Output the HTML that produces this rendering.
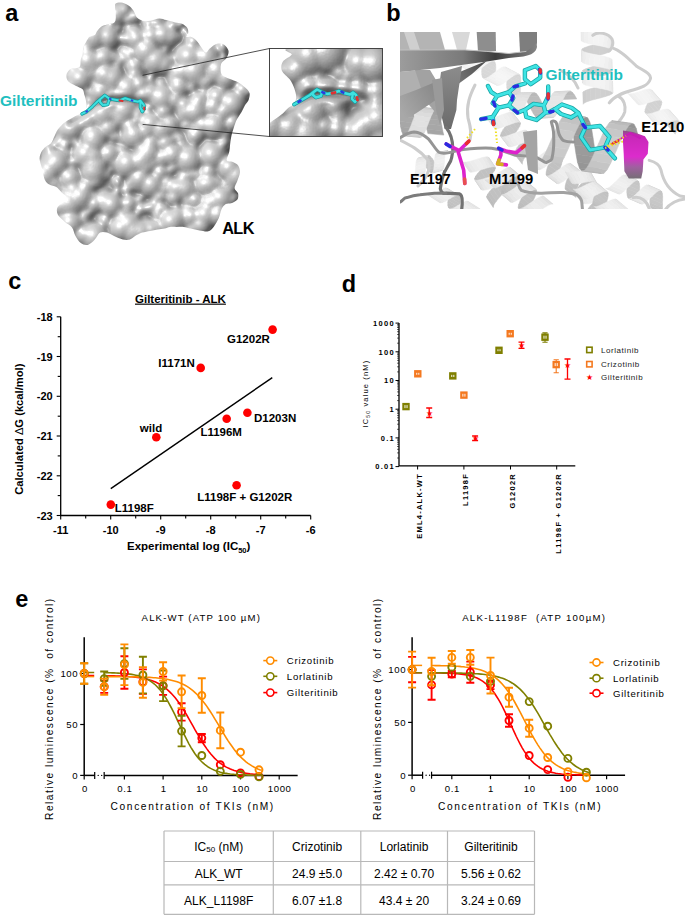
<!DOCTYPE html>
<html><head><meta charset="utf-8"><style>
html,body{margin:0;padding:0;background:#fff;width:685px;height:915px;overflow:hidden}
svg{display:block}
text{font-family:"Liberation Sans",sans-serif}
.sp circle,.sp ellipse{mix-blend-mode:lighten}
</style></head><body>
<svg width="685" height="915" viewBox="0 0 685 915" font-family="Liberation Sans, sans-serif">
<defs>
<radialGradient id="sph0"><stop offset="0" stop-color="rgb(158,158,158)"/><stop offset="0.3" stop-color="rgb(151,151,151)"/><stop offset="0.5" stop-color="rgb(137,137,137)"/><stop offset="0.65" stop-color="rgb(120,120,120)"/><stop offset="0.78" stop-color="rgb(99,99,99)"/><stop offset="0.88" stop-color="rgb(75,75,75)"/><stop offset="0.95" stop-color="rgb(49,49,49)"/><stop offset="1.0" stop-color="rgb(0,0,0)"/></radialGradient><radialGradient id="sph1"><stop offset="0" stop-color="rgb(177,177,177)"/><stop offset="0.3" stop-color="rgb(169,169,169)"/><stop offset="0.5" stop-color="rgb(154,154,154)"/><stop offset="0.65" stop-color="rgb(135,135,135)"/><stop offset="0.78" stop-color="rgb(111,111,111)"/><stop offset="0.88" stop-color="rgb(84,84,84)"/><stop offset="0.95" stop-color="rgb(55,55,55)"/><stop offset="1.0" stop-color="rgb(0,0,0)"/></radialGradient><radialGradient id="sph2"><stop offset="0" stop-color="rgb(197,197,197)"/><stop offset="0.3" stop-color="rgb(188,188,188)"/><stop offset="0.5" stop-color="rgb(170,170,170)"/><stop offset="0.65" stop-color="rgb(150,150,150)"/><stop offset="0.78" stop-color="rgb(123,123,123)"/><stop offset="0.88" stop-color="rgb(94,94,94)"/><stop offset="0.95" stop-color="rgb(61,61,61)"/><stop offset="1.0" stop-color="rgb(0,0,0)"/></radialGradient><radialGradient id="sph3"><stop offset="0" stop-color="rgb(216,216,216)"/><stop offset="0.3" stop-color="rgb(206,206,206)"/><stop offset="0.5" stop-color="rgb(187,187,187)"/><stop offset="0.65" stop-color="rgb(164,164,164)"/><stop offset="0.78" stop-color="rgb(135,135,135)"/><stop offset="0.88" stop-color="rgb(103,103,103)"/><stop offset="0.95" stop-color="rgb(68,68,68)"/><stop offset="1.0" stop-color="rgb(0,0,0)"/></radialGradient><radialGradient id="sph4"><stop offset="0" stop-color="rgb(236,236,236)"/><stop offset="0.3" stop-color="rgb(225,225,225)"/><stop offset="0.5" stop-color="rgb(204,204,204)"/><stop offset="0.65" stop-color="rgb(179,179,179)"/><stop offset="0.78" stop-color="rgb(147,147,147)"/><stop offset="0.88" stop-color="rgb(112,112,112)"/><stop offset="0.95" stop-color="rgb(74,74,74)"/><stop offset="1.0" stop-color="rgb(0,0,0)"/></radialGradient><radialGradient id="sph5"><stop offset="0" stop-color="rgb(255,255,255)"/><stop offset="0.3" stop-color="rgb(243,243,243)"/><stop offset="0.5" stop-color="rgb(221,221,221)"/><stop offset="0.65" stop-color="rgb(194,194,194)"/><stop offset="0.78" stop-color="rgb(160,160,160)"/><stop offset="0.88" stop-color="rgb(121,121,121)"/><stop offset="0.95" stop-color="rgb(80,80,80)"/><stop offset="1.0" stop-color="rgb(0,0,0)"/></radialGradient>
<radialGradient id="bump"><stop offset="0" stop-color="#000" stop-opacity="1"/><stop offset="0.5" stop-color="#000" stop-opacity="0.87"/><stop offset="0.7" stop-color="#000" stop-opacity="0.71"/><stop offset="0.85" stop-color="#000" stop-opacity="0.53"/><stop offset="0.95" stop-color="#000" stop-opacity="0.31"/><stop offset="1" stop-color="#000" stop-opacity="0"/></radialGradient>
<filter id="gblur" x="-10%" y="-10%" width="120%" height="120%"><feGaussianBlur stdDeviation="1.6"/></filter>
<filter id="mol" x="30" y="0" width="230" height="250" filterUnits="userSpaceOnUse" color-interpolation-filters="sRGB">
 <feColorMatrix in="SourceGraphic" type="luminanceToAlpha" result="la"/>
 <feGaussianBlur in="la" stdDeviation="1.9" result="h"/>
 <feGaussianBlur in="la" stdDeviation="4.5" result="hb"/>
 <feComposite in="hb" in2="h" operator="arithmetic" k1="0" k2="1" k3="-1" k4="0" result="cav"/>
 <feColorMatrix in="cav" type="matrix" values="0 0 0 -3 1  0 0 0 -3 1  0 0 0 -3 1  0 0 0 0 1" result="ao"/>
 <feDiffuseLighting in="h" surfaceScale="11" diffuseConstant="1" lighting-color="#fff" result="d"><feDistantLight azimuth="225" elevation="55"/></feDiffuseLighting>
 <feSpecularLighting in="h" surfaceScale="11" specularConstant="1" specularExponent="40" lighting-color="#fff" result="s"><feDistantLight azimuth="225" elevation="55"/></feSpecularLighting>
 <feComponentTransfer in="d" result="d2"><feFuncR type="linear" slope="0.52" intercept="0.355"/><feFuncG type="linear" slope="0.52" intercept="0.355"/><feFuncB type="linear" slope="0.52" intercept="0.355"/></feComponentTransfer>
 <feComposite in="s" in2="d2" operator="arithmetic" k1="0" k2="0.22" k3="1" k4="0" result="lit"/>
 <feBlend in="lit" in2="ao" mode="multiply"/>
</filter>
<filter id="mol2" x="262" y="40" width="130" height="105" filterUnits="userSpaceOnUse" color-interpolation-filters="sRGB">
 <feColorMatrix in="SourceGraphic" type="luminanceToAlpha" result="la"/>
 <feGaussianBlur in="la" stdDeviation="2.5" result="h"/>
 <feGaussianBlur in="la" stdDeviation="7" result="hb"/>
 <feComposite in="hb" in2="h" operator="arithmetic" k1="0" k2="1" k3="-1" k4="0" result="cav"/>
 <feColorMatrix in="cav" type="matrix" values="0 0 0 -2.5 1  0 0 0 -2.5 1  0 0 0 -2.5 1  0 0 0 0 1" result="ao"/>
 <feDiffuseLighting in="h" surfaceScale="16" diffuseConstant="1" lighting-color="#fff" result="d"><feDistantLight azimuth="225" elevation="55"/></feDiffuseLighting>
 <feSpecularLighting in="h" surfaceScale="16" specularConstant="1" specularExponent="40" lighting-color="#fff" result="s"><feDistantLight azimuth="225" elevation="55"/></feSpecularLighting>
 <feComponentTransfer in="d" result="d2"><feFuncR type="linear" slope="0.5" intercept="0.32"/><feFuncG type="linear" slope="0.5" intercept="0.32"/><feFuncB type="linear" slope="0.5" intercept="0.32"/></feComponentTransfer>
 <feComposite in="s" in2="d2" operator="arithmetic" k1="0" k2="0.25" k3="1" k4="0" result="lit"/>
 <feBlend in="lit" in2="ao" mode="multiply"/>
</filter>
<filter id="surf" x="0" y="0" width="100%" height="100%" color-interpolation-filters="sRGB">
 <feTurbulence type="fractalNoise" baseFrequency="0.05" numOctaves="2" seed="7" result="n"/>
 <feGaussianBlur in="n" stdDeviation="1.6" result="nb"/>
 <feDiffuseLighting in="nb" surfaceScale="5" diffuseConstant="1.0" lighting-color="#ffffff" result="l">
   <feDistantLight azimuth="235" elevation="55"/>
 </feDiffuseLighting>
 <feSpecularLighting in="nb" surfaceScale="5" specularConstant="0.8" specularExponent="60" lighting-color="#ffffff" result="sp">
   <feDistantLight azimuth="235" elevation="55"/>
 </feSpecularLighting>
 <feComponentTransfer in="l" result="l2"><feFuncR type="linear" slope="0.55" intercept="0.2"/><feFuncG type="linear" slope="0.55" intercept="0.2"/><feFuncB type="linear" slope="0.55" intercept="0.2"/></feComponentTransfer>
 <feComposite in="sp" in2="l2" operator="arithmetic" k1="0" k2="0.45" k3="1" k4="0" result="lit"/>
 <feComposite in="lit" in2="SourceGraphic" operator="in"/>
</filter>
<filter id="surf2" x="0" y="0" width="100%" height="100%" color-interpolation-filters="sRGB">
 <feTurbulence type="fractalNoise" baseFrequency="0.03" numOctaves="3" seed="11" result="n"/>
 <feGaussianBlur in="n" stdDeviation="2" result="nb"/>
 <feDiffuseLighting in="nb" surfaceScale="6" diffuseConstant="1.0" lighting-color="#ffffff" result="l">
   <feDistantLight azimuth="235" elevation="55"/>
 </feDiffuseLighting>
 <feSpecularLighting in="nb" surfaceScale="6" specularConstant="0.8" specularExponent="60" lighting-color="#ffffff" result="sp">
   <feDistantLight azimuth="235" elevation="55"/>
 </feSpecularLighting>
 <feComponentTransfer in="l" result="l2"><feFuncR type="linear" slope="0.55" intercept="0.2"/><feFuncG type="linear" slope="0.55" intercept="0.2"/><feFuncB type="linear" slope="0.55" intercept="0.2"/></feComponentTransfer>
 <feComposite in="sp" in2="l2" operator="arithmetic" k1="0" k2="0.45" k3="1" k4="0" result="lit"/>
 <feComposite in="lit" in2="SourceGraphic" operator="in"/>
</filter>
</defs>
<text x="5.3" y="20.7" font-size="23.5" font-weight="bold">a</text>
<text x="386.3" y="21" font-size="23.5" font-weight="bold">b</text>
<text x="8.3" y="289.3" font-size="23.5" font-weight="bold">c</text>
<text x="341.8" y="291.6" font-size="23.5" font-weight="bold">d</text>
<text x="15.2" y="606.8" font-size="23.5" font-weight="bold">e</text>
<clipPath id="blobclip"><path d="M115.8,3.5 C116.8,2.8 119.0,2.3 121.1,2.6 C123.1,2.9 126.0,4.0 128.1,5.3 C130.2,6.6 131.9,8.5 133.4,10.5 C134.9,12.5 135.2,15.8 136.9,17.5 C138.7,19.2 141.6,20.5 143.9,21.0 C146.2,21.5 147.9,21.1 150.5,20.7 C153.1,20.3 156.7,18.5 159.3,18.4 C161.9,18.3 163.7,19.4 166.3,20.1 C168.9,20.8 172.4,21.8 175.0,22.4 C177.6,23.0 179.9,22.8 182.0,23.7 C184.1,24.6 186.3,26.4 187.3,28.0 C188.3,29.6 188.3,31.8 188.2,33.3 C188.0,34.8 186.0,36.2 186.4,36.8 C186.8,37.4 189.2,36.2 190.8,36.8 C192.4,37.4 194.3,38.5 196.1,40.3 C197.8,42.0 199.7,45.2 201.3,47.3 C202.9,49.3 204.2,52.5 205.7,52.6 C207.2,52.8 208.2,49.7 210.1,48.2 C212.0,46.7 214.8,44.4 217.1,43.8 C219.4,43.2 222.2,43.5 224.1,44.7 C226.0,45.9 228.1,48.6 228.5,50.8 C228.9,53.0 227.9,55.8 226.7,57.8 C225.5,59.8 222.5,61.1 221.5,63.1 C220.5,65.2 220.5,68.1 220.6,70.1 C220.7,72.1 220.9,73.8 222.3,75.3 C223.8,76.8 226.7,77.6 229.3,78.8 C231.9,80.0 235.5,80.8 238.1,82.3 C240.7,83.8 243.2,85.8 245.1,87.6 C247.0,89.4 248.9,90.9 249.5,92.9 C250.1,95.0 249.3,97.9 248.6,99.9 C247.9,101.9 246.3,103.1 245.1,105.1 C243.9,107.1 242.8,110.0 241.6,112.1 C240.4,114.1 239.1,115.7 238.1,117.4 C237.1,119.2 236.7,119.2 235.5,122.6 C234.3,125.9 232.1,132.7 231.1,137.5 C230.1,142.3 230.0,147.7 229.3,151.5 C228.6,155.3 226.1,158.6 226.7,160.3 C227.3,162.1 231.0,161.1 232.9,162.0 C234.8,162.9 236.9,163.7 238.1,165.5 C239.3,167.3 240.1,170.0 239.9,172.6 C239.8,175.2 238.1,178.7 237.2,181.3 C236.3,183.9 234.4,186.2 234.6,188.3 C234.8,190.4 237.7,191.7 238.1,193.6 C238.5,195.5 238.4,198.1 237.2,199.7 C236.0,201.3 233.0,202.5 231.1,203.2 C229.2,203.9 227.4,203.1 225.8,204.1 C224.2,205.1 222.7,207.0 221.5,209.3 C220.3,211.6 220.1,215.2 218.8,218.1 C217.5,221.0 215.3,224.7 213.6,226.9 C211.8,229.1 210.6,230.6 208.3,231.2 C206.0,231.8 202.5,230.8 199.6,230.4 C196.7,230.0 193.4,229.2 190.8,228.6 C188.2,228.0 186.1,227.2 183.8,226.9 C181.5,226.6 179.1,226.9 176.8,226.9 C174.5,226.9 171.9,226.6 169.8,226.9 C167.8,227.2 166.6,228.2 164.5,228.6 C162.4,229.0 159.9,229.1 157.5,229.5 C155.1,229.9 152.6,230.4 150.0,230.9 C147.4,231.4 144.6,231.7 142.1,232.6 C139.6,233.5 137.1,234.9 135.1,236.1 C133.1,237.3 131.9,239.0 129.9,239.6 C127.9,240.2 125.5,240.2 122.9,239.6 C120.3,239.0 116.7,237.3 114.1,236.1 C111.5,234.9 109.4,233.2 107.1,232.6 C104.8,232.0 102.1,231.4 100.1,232.6 C98.0,233.8 96.8,237.5 94.8,239.6 C92.8,241.7 90.1,244.3 87.8,244.9 C85.5,245.5 82.8,244.6 80.8,243.1 C78.8,241.6 77.0,238.7 75.5,236.1 C74.0,233.5 73.8,229.7 72.0,227.4 C70.2,225.1 67.3,224.2 65.0,222.1 C62.7,220.0 59.3,217.4 58.0,215.1 C56.7,212.8 56.6,210.1 57.2,208.1 C57.8,206.1 59.9,204.7 61.5,202.9 C63.1,201.2 66.8,199.4 66.8,197.6 C66.8,195.8 63.2,194.1 61.5,192.3 C59.8,190.6 58.3,188.4 56.3,187.1 C54.3,185.8 51.2,185.7 49.3,184.5 C47.4,183.3 46.1,182.5 44.9,180.0 C43.7,177.5 43.2,173.1 42.3,169.6 C41.4,166.1 39.8,161.9 39.6,159.0 C39.5,156.1 40.4,154.0 41.4,152.0 C42.4,150.0 44.2,148.2 45.8,146.8 C47.4,145.4 49.5,145.1 51.0,143.3 C52.5,141.6 53.3,138.6 54.5,136.3 C55.7,134.0 56.2,131.6 58.0,129.3 C59.8,127.0 62.4,124.3 65.0,122.3 C67.6,120.2 71.2,118.5 73.8,117.0 C76.4,115.5 78.8,114.9 80.8,113.5 C82.8,112.1 85.2,110.6 86.1,108.6 C87.0,106.6 86.4,103.9 86.1,101.6 C85.8,99.3 84.9,96.6 84.3,94.6 C83.7,92.5 84.0,90.8 82.6,89.3 C81.1,87.8 77.8,87.0 75.6,85.8 C73.4,84.6 70.9,83.5 69.4,82.3 C67.9,81.1 67.2,80.2 66.8,78.8 C66.4,77.3 66.2,75.2 66.8,73.6 C67.4,72.0 68.8,70.1 70.3,69.2 C71.8,68.3 74.0,68.7 75.6,68.3 C77.2,67.9 79.0,68.0 79.9,66.6 C80.8,65.1 80.3,61.6 80.8,59.6 C81.2,57.6 82.2,56.3 82.6,54.3 C83.0,52.2 82.8,49.3 83.4,47.3 C84.0,45.2 85.1,43.8 86.1,42.0 C87.1,40.2 88.1,38.0 89.6,36.8 C91.0,35.6 93.5,36.0 94.8,35.0 C96.1,34.0 96.2,32.1 97.4,30.7 C98.6,29.2 100.2,27.3 101.8,26.3 C103.4,25.3 105.0,25.1 107.1,24.5 C109.1,23.9 112.6,24.0 114.1,22.8 C115.5,21.6 115.6,20.1 115.8,17.5 C116.0,14.9 115.0,9.3 115.0,7.0 C115.0,4.7 114.8,4.2 115.8,3.5Z"/></clipPath>
<g clip-path="url(#blobclip)"><g filter="url(#mol)">
<rect x="30" y="0" width="230" height="250" fill="#000"/>
<path d="M115.8,3.5 C116.8,2.8 119.0,2.3 121.1,2.6 C123.1,2.9 126.0,4.0 128.1,5.3 C130.2,6.6 131.9,8.5 133.4,10.5 C134.9,12.5 135.2,15.8 136.9,17.5 C138.7,19.2 141.6,20.5 143.9,21.0 C146.2,21.5 147.9,21.1 150.5,20.7 C153.1,20.3 156.7,18.5 159.3,18.4 C161.9,18.3 163.7,19.4 166.3,20.1 C168.9,20.8 172.4,21.8 175.0,22.4 C177.6,23.0 179.9,22.8 182.0,23.7 C184.1,24.6 186.3,26.4 187.3,28.0 C188.3,29.6 188.3,31.8 188.2,33.3 C188.0,34.8 186.0,36.2 186.4,36.8 C186.8,37.4 189.2,36.2 190.8,36.8 C192.4,37.4 194.3,38.5 196.1,40.3 C197.8,42.0 199.7,45.2 201.3,47.3 C202.9,49.3 204.2,52.5 205.7,52.6 C207.2,52.8 208.2,49.7 210.1,48.2 C212.0,46.7 214.8,44.4 217.1,43.8 C219.4,43.2 222.2,43.5 224.1,44.7 C226.0,45.9 228.1,48.6 228.5,50.8 C228.9,53.0 227.9,55.8 226.7,57.8 C225.5,59.8 222.5,61.1 221.5,63.1 C220.5,65.2 220.5,68.1 220.6,70.1 C220.7,72.1 220.9,73.8 222.3,75.3 C223.8,76.8 226.7,77.6 229.3,78.8 C231.9,80.0 235.5,80.8 238.1,82.3 C240.7,83.8 243.2,85.8 245.1,87.6 C247.0,89.4 248.9,90.9 249.5,92.9 C250.1,95.0 249.3,97.9 248.6,99.9 C247.9,101.9 246.3,103.1 245.1,105.1 C243.9,107.1 242.8,110.0 241.6,112.1 C240.4,114.1 239.1,115.7 238.1,117.4 C237.1,119.2 236.7,119.2 235.5,122.6 C234.3,125.9 232.1,132.7 231.1,137.5 C230.1,142.3 230.0,147.7 229.3,151.5 C228.6,155.3 226.1,158.6 226.7,160.3 C227.3,162.1 231.0,161.1 232.9,162.0 C234.8,162.9 236.9,163.7 238.1,165.5 C239.3,167.3 240.1,170.0 239.9,172.6 C239.8,175.2 238.1,178.7 237.2,181.3 C236.3,183.9 234.4,186.2 234.6,188.3 C234.8,190.4 237.7,191.7 238.1,193.6 C238.5,195.5 238.4,198.1 237.2,199.7 C236.0,201.3 233.0,202.5 231.1,203.2 C229.2,203.9 227.4,203.1 225.8,204.1 C224.2,205.1 222.7,207.0 221.5,209.3 C220.3,211.6 220.1,215.2 218.8,218.1 C217.5,221.0 215.3,224.7 213.6,226.9 C211.8,229.1 210.6,230.6 208.3,231.2 C206.0,231.8 202.5,230.8 199.6,230.4 C196.7,230.0 193.4,229.2 190.8,228.6 C188.2,228.0 186.1,227.2 183.8,226.9 C181.5,226.6 179.1,226.9 176.8,226.9 C174.5,226.9 171.9,226.6 169.8,226.9 C167.8,227.2 166.6,228.2 164.5,228.6 C162.4,229.0 159.9,229.1 157.5,229.5 C155.1,229.9 152.6,230.4 150.0,230.9 C147.4,231.4 144.6,231.7 142.1,232.6 C139.6,233.5 137.1,234.9 135.1,236.1 C133.1,237.3 131.9,239.0 129.9,239.6 C127.9,240.2 125.5,240.2 122.9,239.6 C120.3,239.0 116.7,237.3 114.1,236.1 C111.5,234.9 109.4,233.2 107.1,232.6 C104.8,232.0 102.1,231.4 100.1,232.6 C98.0,233.8 96.8,237.5 94.8,239.6 C92.8,241.7 90.1,244.3 87.8,244.9 C85.5,245.5 82.8,244.6 80.8,243.1 C78.8,241.6 77.0,238.7 75.5,236.1 C74.0,233.5 73.8,229.7 72.0,227.4 C70.2,225.1 67.3,224.2 65.0,222.1 C62.7,220.0 59.3,217.4 58.0,215.1 C56.7,212.8 56.6,210.1 57.2,208.1 C57.8,206.1 59.9,204.7 61.5,202.9 C63.1,201.2 66.8,199.4 66.8,197.6 C66.8,195.8 63.2,194.1 61.5,192.3 C59.8,190.6 58.3,188.4 56.3,187.1 C54.3,185.8 51.2,185.7 49.3,184.5 C47.4,183.3 46.1,182.5 44.9,180.0 C43.7,177.5 43.2,173.1 42.3,169.6 C41.4,166.1 39.8,161.9 39.6,159.0 C39.5,156.1 40.4,154.0 41.4,152.0 C42.4,150.0 44.2,148.2 45.8,146.8 C47.4,145.4 49.5,145.1 51.0,143.3 C52.5,141.6 53.3,138.6 54.5,136.3 C55.7,134.0 56.2,131.6 58.0,129.3 C59.8,127.0 62.4,124.3 65.0,122.3 C67.6,120.2 71.2,118.5 73.8,117.0 C76.4,115.5 78.8,114.9 80.8,113.5 C82.8,112.1 85.2,110.6 86.1,108.6 C87.0,106.6 86.4,103.9 86.1,101.6 C85.8,99.3 84.9,96.6 84.3,94.6 C83.7,92.5 84.0,90.8 82.6,89.3 C81.1,87.8 77.8,87.0 75.6,85.8 C73.4,84.6 70.9,83.5 69.4,82.3 C67.9,81.1 67.2,80.2 66.8,78.8 C66.4,77.3 66.2,75.2 66.8,73.6 C67.4,72.0 68.8,70.1 70.3,69.2 C71.8,68.3 74.0,68.7 75.6,68.3 C77.2,67.9 79.0,68.0 79.9,66.6 C80.8,65.1 80.3,61.6 80.8,59.6 C81.2,57.6 82.2,56.3 82.6,54.3 C83.0,52.2 82.8,49.3 83.4,47.3 C84.0,45.2 85.1,43.8 86.1,42.0 C87.1,40.2 88.1,38.0 89.6,36.8 C91.0,35.6 93.5,36.0 94.8,35.0 C96.1,34.0 96.2,32.1 97.4,30.7 C98.6,29.2 100.2,27.3 101.8,26.3 C103.4,25.3 105.0,25.1 107.1,24.5 C109.1,23.9 112.6,24.0 114.1,22.8 C115.5,21.6 115.6,20.1 115.8,17.5 C116.0,14.9 115.0,9.3 115.0,7.0 C115.0,4.7 114.8,4.2 115.8,3.5Z" fill="#4d4d4d"/>
<g class="sp"><circle cx="107.3" cy="37.1" r="14.6" fill="url(#sph3)"/><circle cx="116.3" cy="14.3" r="13.6" fill="url(#sph3)"/><circle cx="128.8" cy="203.4" r="10.9" fill="url(#sph2)"/><circle cx="85.8" cy="154.3" r="16.6" fill="url(#sph4)"/><circle cx="161.5" cy="97.6" r="16.8" fill="url(#sph4)"/><circle cx="100.0" cy="35.5" r="10.8" fill="url(#sph2)"/><circle cx="104.0" cy="200.8" r="11.3" fill="url(#sph2)"/><circle cx="162.5" cy="157.2" r="12.6" fill="url(#sph3)"/><circle cx="183.6" cy="105.2" r="12.2" fill="url(#sph3)"/><circle cx="163.3" cy="111.5" r="12.1" fill="url(#sph3)"/><circle cx="208.0" cy="172.0" r="11.7" fill="url(#sph2)"/><circle cx="160.9" cy="129.2" r="16.1" fill="url(#sph4)"/><circle cx="194.1" cy="70.8" r="16.9" fill="url(#sph4)"/><circle cx="181.0" cy="188.1" r="14.0" fill="url(#sph3)"/><circle cx="225.4" cy="77.2" r="14.9" fill="url(#sph4)"/><circle cx="165.2" cy="142.7" r="13.2" fill="url(#sph3)"/><circle cx="139.5" cy="163.4" r="10.4" fill="url(#sph2)"/><circle cx="188.1" cy="159.2" r="17.0" fill="url(#sph4)"/><circle cx="213.9" cy="70.0" r="12.7" fill="url(#sph3)"/><circle cx="136.8" cy="41.3" r="10.8" fill="url(#sph2)"/><circle cx="121.7" cy="214.4" r="10.6" fill="url(#sph2)"/><circle cx="134.1" cy="135.2" r="16.2" fill="url(#sph4)"/><circle cx="213.3" cy="212.5" r="11.9" fill="url(#sph2)"/><circle cx="126.9" cy="88.3" r="16.2" fill="url(#sph4)"/><circle cx="87.9" cy="119.3" r="14.1" fill="url(#sph3)"/><circle cx="127.7" cy="90.8" r="14.0" fill="url(#sph3)"/><circle cx="148.3" cy="151.9" r="14.7" fill="url(#sph4)"/><circle cx="204.9" cy="215.1" r="15.6" fill="url(#sph4)"/><circle cx="122.0" cy="98.1" r="10.7" fill="url(#sph2)"/><circle cx="72.7" cy="83.7" r="10.4" fill="url(#sph2)"/><circle cx="169.4" cy="36.5" r="11.8" fill="url(#sph2)"/><circle cx="112.3" cy="89.6" r="10.9" fill="url(#sph2)"/><circle cx="137.7" cy="119.0" r="10.6" fill="url(#sph2)"/><circle cx="94.7" cy="203.9" r="11.1" fill="url(#sph2)"/><circle cx="151.0" cy="36.1" r="13.8" fill="url(#sph3)"/><circle cx="187.0" cy="64.2" r="12.6" fill="url(#sph3)"/><circle cx="73.7" cy="189.9" r="13.7" fill="url(#sph3)"/><circle cx="204.7" cy="81.1" r="11.6" fill="url(#sph2)"/><circle cx="220.5" cy="198.3" r="15.7" fill="url(#sph4)"/><circle cx="196.3" cy="55.8" r="13.6" fill="url(#sph3)"/><circle cx="93.5" cy="170.4" r="16.7" fill="url(#sph4)"/><circle cx="133.7" cy="230.5" r="16.9" fill="url(#sph4)"/><circle cx="242.4" cy="89.7" r="11.5" fill="url(#sph2)"/><circle cx="86.5" cy="48.4" r="11.4" fill="url(#sph2)"/><circle cx="171.6" cy="221.5" r="15.9" fill="url(#sph4)"/><circle cx="140.6" cy="160.6" r="15.6" fill="url(#sph4)"/><circle cx="56.1" cy="162.5" r="16.4" fill="url(#sph4)"/><circle cx="205.4" cy="184.5" r="13.3" fill="url(#sph3)"/><circle cx="76.2" cy="194.1" r="12.3" fill="url(#sph3)"/><circle cx="122.7" cy="98.7" r="16.6" fill="url(#sph4)"/><circle cx="193.1" cy="41.8" r="10.9" fill="url(#sph2)"/><circle cx="70.3" cy="222.6" r="15.6" fill="url(#sph4)"/><circle cx="69.3" cy="203.3" r="16.9" fill="url(#sph4)"/><circle cx="178.7" cy="86.2" r="13.8" fill="url(#sph3)"/><circle cx="150.7" cy="229.7" r="13.0" fill="url(#sph3)"/><circle cx="224.6" cy="203.2" r="11.5" fill="url(#sph2)"/><circle cx="91.9" cy="72.1" r="11.7" fill="url(#sph2)"/><circle cx="163.5" cy="63.8" r="12.9" fill="url(#sph3)"/><circle cx="113.7" cy="112.7" r="14.1" fill="url(#sph3)"/><circle cx="231.5" cy="103.5" r="16.4" fill="url(#sph4)"/><circle cx="145.4" cy="130.8" r="13.7" fill="url(#sph3)"/><circle cx="139.3" cy="178.4" r="13.9" fill="url(#sph3)"/><circle cx="107.8" cy="127.5" r="13.9" fill="url(#sph3)"/><circle cx="157.9" cy="61.1" r="11.9" fill="url(#sph2)"/><circle cx="203.3" cy="124.9" r="13.9" fill="url(#sph3)"/><circle cx="200.6" cy="224.5" r="13.1" fill="url(#sph3)"/><circle cx="169.1" cy="124.4" r="13.6" fill="url(#sph3)"/><circle cx="186.2" cy="111.3" r="13.7" fill="url(#sph3)"/><circle cx="140.3" cy="231.6" r="14.9" fill="url(#sph4)"/><circle cx="93.6" cy="137.6" r="16.6" fill="url(#sph4)"/><circle cx="53.6" cy="164.7" r="15.5" fill="url(#sph4)"/><circle cx="191.2" cy="162.4" r="11.0" fill="url(#sph2)"/><circle cx="85.0" cy="234.3" r="12.8" fill="url(#sph3)"/><circle cx="130.3" cy="126.8" r="12.4" fill="url(#sph3)"/><circle cx="79.9" cy="78.4" r="15.1" fill="url(#sph4)"/><circle cx="108.9" cy="153.5" r="13.6" fill="url(#sph3)"/><circle cx="128.4" cy="224.2" r="15.7" fill="url(#sph4)"/><circle cx="93.3" cy="36.7" r="16.4" fill="url(#sph4)"/><circle cx="160.1" cy="172.3" r="10.6" fill="url(#sph2)"/><circle cx="50.3" cy="169.3" r="13.0" fill="url(#sph3)"/><circle cx="173.8" cy="197.2" r="10.6" fill="url(#sph2)"/><circle cx="222.6" cy="111.6" r="12.4" fill="url(#sph3)"/><circle cx="156.4" cy="228.0" r="11.9" fill="url(#sph2)"/><circle cx="65.7" cy="129.6" r="11.7" fill="url(#sph2)"/><circle cx="104.8" cy="75.0" r="15.3" fill="url(#sph4)"/><circle cx="100.1" cy="123.0" r="11.2" fill="url(#sph2)"/><circle cx="194.9" cy="135.6" r="11.3" fill="url(#sph2)"/><circle cx="139.6" cy="229.9" r="10.7" fill="url(#sph2)"/><circle cx="213.2" cy="106.3" r="13.5" fill="url(#sph3)"/><circle cx="216.6" cy="96.7" r="13.5" fill="url(#sph3)"/><circle cx="111.3" cy="204.7" r="14.9" fill="url(#sph4)"/><circle cx="174.1" cy="99.6" r="12.4" fill="url(#sph3)"/><circle cx="53.1" cy="182.3" r="11.8" fill="url(#sph2)"/><circle cx="218.0" cy="214.2" r="14.7" fill="url(#sph4)"/><circle cx="98.3" cy="59.6" r="12.1" fill="url(#sph3)"/><circle cx="136.3" cy="38.8" r="13.1" fill="url(#sph3)"/><circle cx="94.3" cy="236.6" r="16.8" fill="url(#sph4)"/><circle cx="155.1" cy="60.1" r="16.8" fill="url(#sph4)"/><circle cx="104.2" cy="87.7" r="10.0" fill="url(#sph2)"/><circle cx="119.7" cy="116.8" r="13.5" fill="url(#sph3)"/><circle cx="81.0" cy="124.2" r="10.0" fill="url(#sph2)"/><circle cx="123.5" cy="10.3" r="10.2" fill="url(#sph2)"/><circle cx="103.1" cy="57.3" r="14.1" fill="url(#sph3)"/><circle cx="151.2" cy="184.6" r="14.6" fill="url(#sph3)"/><circle cx="191.2" cy="216.3" r="12.7" fill="url(#sph3)"/><circle cx="70.0" cy="178.1" r="14.5" fill="url(#sph3)"/><circle cx="195.0" cy="199.8" r="11.0" fill="url(#sph2)"/><circle cx="150.1" cy="124.1" r="15.8" fill="url(#sph4)"/><circle cx="210.2" cy="203.3" r="14.1" fill="url(#sph3)"/><circle cx="229.1" cy="168.0" r="14.9" fill="url(#sph4)"/><circle cx="60.5" cy="205.6" r="13.9" fill="url(#sph3)"/><circle cx="172.3" cy="154.1" r="14.8" fill="url(#sph4)"/><circle cx="208.7" cy="184.1" r="13.5" fill="url(#sph3)"/><circle cx="152.5" cy="162.2" r="10.5" fill="url(#sph2)"/><circle cx="195.7" cy="62.0" r="10.5" fill="url(#sph2)"/><circle cx="94.8" cy="179.4" r="11.4" fill="url(#sph2)"/><circle cx="143.7" cy="94.1" r="13.4" fill="url(#sph3)"/><circle cx="184.3" cy="188.7" r="14.3" fill="url(#sph3)"/><circle cx="197.0" cy="74.9" r="14.0" fill="url(#sph3)"/><circle cx="95.5" cy="165.3" r="14.8" fill="url(#sph4)"/><circle cx="182.6" cy="71.6" r="13.6" fill="url(#sph3)"/><circle cx="137.4" cy="114.7" r="10.8" fill="url(#sph2)"/><circle cx="134.2" cy="66.1" r="11.5" fill="url(#sph2)"/><circle cx="162.4" cy="34.9" r="13.7" fill="url(#sph3)"/><circle cx="213.5" cy="125.2" r="16.2" fill="url(#sph4)"/><circle cx="188.5" cy="56.9" r="16.3" fill="url(#sph4)"/><circle cx="134.5" cy="74.3" r="11.0" fill="url(#sph2)"/><circle cx="111.6" cy="77.8" r="15.9" fill="url(#sph4)"/><circle cx="236.2" cy="175.4" r="16.3" fill="url(#sph4)"/><circle cx="100.0" cy="91.6" r="12.8" fill="url(#sph3)"/><circle cx="115.2" cy="105.3" r="11.9" fill="url(#sph2)"/><circle cx="216.6" cy="70.3" r="16.5" fill="url(#sph4)"/><circle cx="91.4" cy="65.4" r="13.6" fill="url(#sph3)"/><circle cx="211.8" cy="155.2" r="16.4" fill="url(#sph4)"/><circle cx="194.7" cy="110.9" r="15.3" fill="url(#sph4)"/><circle cx="175.9" cy="70.4" r="10.3" fill="url(#sph2)"/><circle cx="139.0" cy="84.5" r="12.1" fill="url(#sph3)"/><circle cx="93.7" cy="161.4" r="12.1" fill="url(#sph3)"/><circle cx="157.3" cy="97.0" r="11.2" fill="url(#sph2)"/><circle cx="231.9" cy="122.3" r="11.5" fill="url(#sph2)"/><circle cx="134.3" cy="34.3" r="11.3" fill="url(#sph2)"/><circle cx="93.3" cy="140.1" r="16.2" fill="url(#sph4)"/><circle cx="198.4" cy="101.5" r="12.9" fill="url(#sph3)"/><circle cx="150.2" cy="92.7" r="12.4" fill="url(#sph3)"/><circle cx="145.7" cy="154.9" r="16.0" fill="url(#sph4)"/><circle cx="84.2" cy="66.7" r="11.7" fill="url(#sph2)"/><circle cx="123.5" cy="109.7" r="16.7" fill="url(#sph4)"/><circle cx="219.6" cy="214.7" r="10.2" fill="url(#sph2)"/><circle cx="44.9" cy="174.5" r="16.3" fill="url(#sph4)"/><circle cx="139.3" cy="144.4" r="10.0" fill="url(#sph2)"/><circle cx="121.8" cy="228.0" r="15.8" fill="url(#sph4)"/><circle cx="71.0" cy="128.5" r="14.8" fill="url(#sph4)"/><circle cx="176.5" cy="188.1" r="13.2" fill="url(#sph3)"/><circle cx="205.4" cy="57.2" r="16.4" fill="url(#sph4)"/><circle cx="176.1" cy="74.7" r="10.9" fill="url(#sph2)"/><circle cx="91.9" cy="156.5" r="14.9" fill="url(#sph4)"/><circle cx="150.2" cy="143.4" r="12.7" fill="url(#sph3)"/><circle cx="85.8" cy="147.9" r="10.1" fill="url(#sph2)"/><circle cx="102.5" cy="113.3" r="16.7" fill="url(#sph4)"/><circle cx="175.9" cy="217.4" r="13.3" fill="url(#sph3)"/><circle cx="88.2" cy="60.8" r="16.7" fill="url(#sph4)"/><circle cx="188.8" cy="75.6" r="10.2" fill="url(#sph2)"/><circle cx="144.6" cy="165.9" r="12.9" fill="url(#sph3)"/><circle cx="93.1" cy="164.2" r="16.5" fill="url(#sph4)"/><circle cx="110.3" cy="103.5" r="14.8" fill="url(#sph4)"/><circle cx="80.4" cy="196.1" r="15.2" fill="url(#sph4)"/><circle cx="146.0" cy="50.5" r="16.8" fill="url(#sph4)"/><circle cx="104.7" cy="201.7" r="11.6" fill="url(#sph2)"/><circle cx="85.4" cy="187.1" r="12.1" fill="url(#sph3)"/><circle cx="127.2" cy="163.7" r="16.6" fill="url(#sph4)"/></g>
<g class="sp"><ellipse cx="137.1" cy="91.8" rx="8.0" ry="5.0" transform="rotate(1 137.1 91.8)" fill="url(#sph0)"/><ellipse cx="145.6" cy="221.0" rx="6.8" ry="4.9" transform="rotate(111 145.6 221.0)" fill="url(#sph0)"/><ellipse cx="188.5" cy="111.2" rx="8.5" ry="7.7" transform="rotate(43 188.5 111.2)" fill="url(#sph1)"/><ellipse cx="203.7" cy="94.4" rx="8.4" ry="7.9" transform="rotate(52 203.7 94.4)" fill="url(#sph1)"/><ellipse cx="182.3" cy="178.5" rx="7.0" ry="6.6" transform="rotate(48 182.3 178.5)" fill="url(#sph1)"/><ellipse cx="82.9" cy="69.2" rx="9.1" ry="8.0" transform="rotate(160 82.9 69.2)" fill="url(#sph1)"/><ellipse cx="119.1" cy="121.0" rx="6.2" ry="4.8" transform="rotate(163 119.1 121.0)" fill="url(#sph0)"/><ellipse cx="62.0" cy="146.8" rx="7.1" ry="5.1" transform="rotate(161 62.0 146.8)" fill="url(#sph0)"/><ellipse cx="144.3" cy="226.5" rx="8.0" ry="6.3" transform="rotate(115 144.3 226.5)" fill="url(#sph1)"/><ellipse cx="58.0" cy="142.6" rx="7.4" ry="5.3" transform="rotate(172 58.0 142.6)" fill="url(#sph0)"/><ellipse cx="167.8" cy="36.7" rx="9.1" ry="5.4" transform="rotate(180 167.8 36.7)" fill="url(#sph0)"/><ellipse cx="64.0" cy="173.5" rx="9.8" ry="8.5" transform="rotate(110 64.0 173.5)" fill="url(#sph1)"/><ellipse cx="182.3" cy="145.2" rx="8.4" ry="8.0" transform="rotate(62 182.3 145.2)" fill="url(#sph1)"/><ellipse cx="222.9" cy="143.7" rx="8.2" ry="6.4" transform="rotate(177 222.9 143.7)" fill="url(#sph1)"/><ellipse cx="209.1" cy="80.9" rx="7.5" ry="6.5" transform="rotate(80 209.1 80.9)" fill="url(#sph1)"/><ellipse cx="172.7" cy="25.4" rx="8.2" ry="8.1" transform="rotate(141 172.7 25.4)" fill="url(#sph1)"/><ellipse cx="210.8" cy="122.3" rx="8.8" ry="7.6" transform="rotate(133 210.8 122.3)" fill="url(#sph1)"/><ellipse cx="129.0" cy="56.8" rx="10.6" ry="8.4" transform="rotate(67 129.0 56.8)" fill="url(#sph1)"/><ellipse cx="222.0" cy="90.9" rx="8.3" ry="7.5" transform="rotate(152 222.0 90.9)" fill="url(#sph1)"/><ellipse cx="121.2" cy="150.4" rx="10.4" ry="8.4" transform="rotate(25 121.2 150.4)" fill="url(#sph1)"/><ellipse cx="158.3" cy="33.8" rx="6.8" ry="5.0" transform="rotate(125 158.3 33.8)" fill="url(#sph0)"/><ellipse cx="188.6" cy="188.0" rx="9.4" ry="5.9" transform="rotate(30 188.6 188.0)" fill="url(#sph0)"/><ellipse cx="191.1" cy="189.8" rx="10.6" ry="8.0" transform="rotate(18 191.1 189.8)" fill="url(#sph1)"/><ellipse cx="75.1" cy="154.9" rx="7.4" ry="4.8" transform="rotate(40 75.1 154.9)" fill="url(#sph0)"/><ellipse cx="135.7" cy="137.6" rx="7.1" ry="6.4" transform="rotate(87 135.7 137.6)" fill="url(#sph0)"/><ellipse cx="154.5" cy="128.8" rx="10.4" ry="6.4" transform="rotate(12 154.5 128.8)" fill="url(#sph1)"/><ellipse cx="175.6" cy="133.4" rx="8.4" ry="5.7" transform="rotate(130 175.6 133.4)" fill="url(#sph0)"/><ellipse cx="60.1" cy="172.1" rx="8.5" ry="6.4" transform="rotate(115 60.1 172.1)" fill="url(#sph1)"/><ellipse cx="49.3" cy="148.3" rx="9.3" ry="5.8" transform="rotate(42 49.3 148.3)" fill="url(#sph0)"/><ellipse cx="214.1" cy="179.5" rx="10.8" ry="6.7" transform="rotate(6 214.1 179.5)" fill="url(#sph1)"/><ellipse cx="165.7" cy="150.9" rx="9.3" ry="7.3" transform="rotate(12 165.7 150.9)" fill="url(#sph1)"/><ellipse cx="78.5" cy="149.6" rx="5.9" ry="5.7" transform="rotate(64 78.5 149.6)" fill="url(#sph0)"/><ellipse cx="138.6" cy="131.8" rx="7.1" ry="4.6" transform="rotate(60 138.6 131.8)" fill="url(#sph0)"/><ellipse cx="112.6" cy="56.9" rx="8.9" ry="7.9" transform="rotate(40 112.6 56.9)" fill="url(#sph1)"/><ellipse cx="117.7" cy="182.3" rx="8.7" ry="6.4" transform="rotate(67 117.7 182.3)" fill="url(#sph1)"/><ellipse cx="173.8" cy="58.1" rx="7.6" ry="5.6" transform="rotate(36 173.8 58.1)" fill="url(#sph0)"/><ellipse cx="132.0" cy="232.2" rx="5.4" ry="5.0" transform="rotate(144 132.0 232.2)" fill="url(#sph0)"/><ellipse cx="220.3" cy="148.9" rx="6.1" ry="5.8" transform="rotate(50 220.3 148.9)" fill="url(#sph0)"/><ellipse cx="102.2" cy="196.9" rx="12.4" ry="8.1" transform="rotate(162 102.2 196.9)" fill="url(#sph1)"/><ellipse cx="90.9" cy="148.6" rx="8.2" ry="6.6" transform="rotate(151 90.9 148.6)" fill="url(#sph1)"/><ellipse cx="123.4" cy="51.4" rx="7.5" ry="5.7" transform="rotate(110 123.4 51.4)" fill="url(#sph0)"/><ellipse cx="159.6" cy="108.2" rx="6.9" ry="5.4" transform="rotate(59 159.6 108.2)" fill="url(#sph0)"/><ellipse cx="74.5" cy="133.8" rx="7.8" ry="5.3" transform="rotate(119 74.5 133.8)" fill="url(#sph0)"/><ellipse cx="67.5" cy="153.8" rx="7.8" ry="6.0" transform="rotate(109 67.5 153.8)" fill="url(#sph0)"/><ellipse cx="201.0" cy="217.4" rx="8.8" ry="7.7" transform="rotate(98 201.0 217.4)" fill="url(#sph1)"/><ellipse cx="156.2" cy="115.8" rx="9.8" ry="8.1" transform="rotate(150 156.2 115.8)" fill="url(#sph1)"/><ellipse cx="148.0" cy="24.4" rx="9.0" ry="7.6" transform="rotate(96 148.0 24.4)" fill="url(#sph1)"/><ellipse cx="122.6" cy="218.6" rx="7.5" ry="6.9" transform="rotate(124 122.6 218.6)" fill="url(#sph1)"/><ellipse cx="114.8" cy="66.4" rx="7.5" ry="6.0" transform="rotate(33 114.8 66.4)" fill="url(#sph0)"/><ellipse cx="169.1" cy="213.6" rx="7.3" ry="7.3" transform="rotate(123 169.1 213.6)" fill="url(#sph1)"/><ellipse cx="223.3" cy="166.6" rx="11.9" ry="7.8" transform="rotate(49 223.3 166.6)" fill="url(#sph1)"/><ellipse cx="183.5" cy="57.1" rx="8.7" ry="5.7" transform="rotate(63 183.5 57.1)" fill="url(#sph0)"/><ellipse cx="166.6" cy="134.2" rx="8.8" ry="8.7" transform="rotate(34 166.6 134.2)" fill="url(#sph1)"/><ellipse cx="204.6" cy="164.6" rx="5.7" ry="5.3" transform="rotate(38 204.6 164.6)" fill="url(#sph0)"/><ellipse cx="154.2" cy="222.0" rx="6.5" ry="5.7" transform="rotate(123 154.2 222.0)" fill="url(#sph0)"/><ellipse cx="128.5" cy="208.3" rx="13.2" ry="8.0" transform="rotate(129 128.5 208.3)" fill="url(#sph1)"/><ellipse cx="210.9" cy="98.0" rx="9.0" ry="6.3" transform="rotate(174 210.9 98.0)" fill="url(#sph1)"/><ellipse cx="157.0" cy="225.8" rx="9.2" ry="8.7" transform="rotate(64 157.0 225.8)" fill="url(#sph1)"/><ellipse cx="228.1" cy="188.8" rx="9.7" ry="8.6" transform="rotate(96 228.1 188.8)" fill="url(#sph1)"/><ellipse cx="220.7" cy="142.9" rx="8.2" ry="5.2" transform="rotate(51 220.7 142.9)" fill="url(#sph0)"/><ellipse cx="204.8" cy="111.7" rx="9.0" ry="8.8" transform="rotate(31 204.8 111.7)" fill="url(#sph1)"/><ellipse cx="68.8" cy="141.3" rx="7.7" ry="5.3" transform="rotate(94 68.8 141.3)" fill="url(#sph0)"/><ellipse cx="162.3" cy="207.9" rx="11.9" ry="7.3" transform="rotate(27 162.3 207.9)" fill="url(#sph1)"/><ellipse cx="119.2" cy="236.3" rx="7.5" ry="6.3" transform="rotate(87 119.2 236.3)" fill="url(#sph0)"/><ellipse cx="76.7" cy="208.7" rx="7.9" ry="7.4" transform="rotate(174 76.7 208.7)" fill="url(#sph1)"/><ellipse cx="149.4" cy="62.4" rx="11.0" ry="6.6" transform="rotate(62 149.4 62.4)" fill="url(#sph1)"/><ellipse cx="104.7" cy="209.5" rx="5.9" ry="5.8" transform="rotate(84 104.7 209.5)" fill="url(#sph0)"/><ellipse cx="86.3" cy="43.8" rx="11.1" ry="6.7" transform="rotate(67 86.3 43.8)" fill="url(#sph1)"/><ellipse cx="174.7" cy="79.5" rx="11.1" ry="8.0" transform="rotate(5 174.7 79.5)" fill="url(#sph1)"/><ellipse cx="196.7" cy="51.6" rx="5.2" ry="5.2" transform="rotate(151 196.7 51.6)" fill="url(#sph0)"/><ellipse cx="189.9" cy="88.1" rx="9.8" ry="6.6" transform="rotate(14 189.9 88.1)" fill="url(#sph1)"/><ellipse cx="189.0" cy="174.4" rx="9.0" ry="8.7" transform="rotate(103 189.0 174.4)" fill="url(#sph1)"/><ellipse cx="146.8" cy="208.1" rx="8.6" ry="5.9" transform="rotate(161 146.8 208.1)" fill="url(#sph0)"/><ellipse cx="112.6" cy="126.8" rx="8.7" ry="8.5" transform="rotate(175 112.6 126.8)" fill="url(#sph1)"/><ellipse cx="105.0" cy="112.5" rx="8.6" ry="5.6" transform="rotate(96 105.0 112.5)" fill="url(#sph0)"/><ellipse cx="226.4" cy="201.9" rx="8.6" ry="7.5" transform="rotate(47 226.4 201.9)" fill="url(#sph1)"/><ellipse cx="134.7" cy="16.0" rx="10.6" ry="8.3" transform="rotate(172 134.7 16.0)" fill="url(#sph1)"/><ellipse cx="77.1" cy="159.4" rx="10.8" ry="7.5" transform="rotate(76 77.1 159.4)" fill="url(#sph1)"/><ellipse cx="121.5" cy="232.5" rx="13.1" ry="7.9" transform="rotate(176 121.5 232.5)" fill="url(#sph1)"/><ellipse cx="63.4" cy="142.0" rx="7.6" ry="5.4" transform="rotate(69 63.4 142.0)" fill="url(#sph0)"/><ellipse cx="77.9" cy="217.1" rx="9.5" ry="6.5" transform="rotate(26 77.9 217.1)" fill="url(#sph1)"/><ellipse cx="197.4" cy="218.8" rx="7.2" ry="5.4" transform="rotate(118 197.4 218.8)" fill="url(#sph0)"/><ellipse cx="139.6" cy="185.0" rx="8.8" ry="7.3" transform="rotate(123 139.6 185.0)" fill="url(#sph1)"/><ellipse cx="203.4" cy="114.0" rx="9.7" ry="6.8" transform="rotate(86 203.4 114.0)" fill="url(#sph1)"/><ellipse cx="204.5" cy="178.1" rx="6.6" ry="5.0" transform="rotate(106 204.5 178.1)" fill="url(#sph0)"/><ellipse cx="152.0" cy="36.8" rx="10.2" ry="6.9" transform="rotate(96 152.0 36.8)" fill="url(#sph1)"/><ellipse cx="147.4" cy="108.7" rx="9.8" ry="6.4" transform="rotate(67 147.4 108.7)" fill="url(#sph1)"/><ellipse cx="106.2" cy="117.4" rx="9.9" ry="8.1" transform="rotate(126 106.2 117.4)" fill="url(#sph1)"/><ellipse cx="92.7" cy="195.5" rx="10.4" ry="6.7" transform="rotate(13 92.7 195.5)" fill="url(#sph1)"/><ellipse cx="126.4" cy="111.1" rx="10.1" ry="7.8" transform="rotate(8 126.4 111.1)" fill="url(#sph1)"/><ellipse cx="82.8" cy="204.6" rx="11.0" ry="7.9" transform="rotate(14 82.8 204.6)" fill="url(#sph1)"/><ellipse cx="203.5" cy="213.1" rx="7.6" ry="5.8" transform="rotate(52 203.5 213.1)" fill="url(#sph0)"/><ellipse cx="49.4" cy="180.5" rx="5.9" ry="5.6" transform="rotate(164 49.4 180.5)" fill="url(#sph0)"/><ellipse cx="58.6" cy="186.9" rx="9.3" ry="8.0" transform="rotate(67 58.6 186.9)" fill="url(#sph1)"/><ellipse cx="85.7" cy="174.2" rx="12.2" ry="8.1" transform="rotate(89 85.7 174.2)" fill="url(#sph1)"/><ellipse cx="153.0" cy="100.4" rx="8.9" ry="7.6" transform="rotate(44 153.0 100.4)" fill="url(#sph1)"/><ellipse cx="187.0" cy="62.7" rx="12.2" ry="8.2" transform="rotate(33 187.0 62.7)" fill="url(#sph1)"/><ellipse cx="66.7" cy="123.0" rx="10.4" ry="6.7" transform="rotate(70 66.7 123.0)" fill="url(#sph1)"/><ellipse cx="154.9" cy="200.4" rx="6.5" ry="5.3" transform="rotate(146 154.9 200.4)" fill="url(#sph0)"/><ellipse cx="114.6" cy="228.9" rx="5.6" ry="5.3" transform="rotate(65 114.6 228.9)" fill="url(#sph0)"/><ellipse cx="137.3" cy="90.4" rx="7.2" ry="5.5" transform="rotate(161 137.3 90.4)" fill="url(#sph0)"/><ellipse cx="92.9" cy="143.3" rx="5.8" ry="5.6" transform="rotate(143 92.9 143.3)" fill="url(#sph0)"/><ellipse cx="95.1" cy="39.5" rx="8.8" ry="8.1" transform="rotate(43 95.1 39.5)" fill="url(#sph1)"/><ellipse cx="70.5" cy="219.5" rx="8.4" ry="7.5" transform="rotate(13 70.5 219.5)" fill="url(#sph1)"/><ellipse cx="190.9" cy="169.8" rx="9.1" ry="6.9" transform="rotate(75 190.9 169.8)" fill="url(#sph1)"/><ellipse cx="98.2" cy="159.0" rx="6.9" ry="5.3" transform="rotate(47 98.2 159.0)" fill="url(#sph0)"/><ellipse cx="116.7" cy="219.1" rx="9.6" ry="6.7" transform="rotate(117 116.7 219.1)" fill="url(#sph1)"/><ellipse cx="225.2" cy="183.6" rx="10.1" ry="6.4" transform="rotate(170 225.2 183.6)" fill="url(#sph1)"/><ellipse cx="97.2" cy="40.4" rx="6.4" ry="6.3" transform="rotate(42 97.2 40.4)" fill="url(#sph0)"/><ellipse cx="140.9" cy="209.2" rx="8.1" ry="7.8" transform="rotate(131 140.9 209.2)" fill="url(#sph1)"/><ellipse cx="78.7" cy="198.2" rx="9.6" ry="7.0" transform="rotate(78 78.7 198.2)" fill="url(#sph1)"/><ellipse cx="77.6" cy="141.0" rx="7.2" ry="5.8" transform="rotate(141 77.6 141.0)" fill="url(#sph0)"/><ellipse cx="155.6" cy="65.7" rx="8.6" ry="7.8" transform="rotate(7 155.6 65.7)" fill="url(#sph1)"/><ellipse cx="186.7" cy="209.7" rx="10.9" ry="7.4" transform="rotate(168 186.7 209.7)" fill="url(#sph1)"/><ellipse cx="75.9" cy="142.5" rx="9.1" ry="6.1" transform="rotate(63 75.9 142.5)" fill="url(#sph1)"/><ellipse cx="68.5" cy="180.2" rx="9.8" ry="7.2" transform="rotate(57 68.5 180.2)" fill="url(#sph1)"/><ellipse cx="194.0" cy="110.1" rx="7.7" ry="6.8" transform="rotate(179 194.0 110.1)" fill="url(#sph1)"/><ellipse cx="132.7" cy="115.9" rx="7.1" ry="5.5" transform="rotate(85 132.7 115.9)" fill="url(#sph0)"/><ellipse cx="129.0" cy="183.0" rx="8.3" ry="5.8" transform="rotate(121 129.0 183.0)" fill="url(#sph0)"/><ellipse cx="66.9" cy="202.4" rx="6.0" ry="5.1" transform="rotate(150 66.9 202.4)" fill="url(#sph0)"/><ellipse cx="126.3" cy="232.7" rx="9.8" ry="8.6" transform="rotate(115 126.3 232.7)" fill="url(#sph1)"/><ellipse cx="215.5" cy="126.4" rx="6.7" ry="6.1" transform="rotate(13 215.5 126.4)" fill="url(#sph0)"/><ellipse cx="193.0" cy="145.4" rx="7.7" ry="4.7" transform="rotate(177 193.0 145.4)" fill="url(#sph0)"/><ellipse cx="126.7" cy="89.1" rx="11.3" ry="7.8" transform="rotate(134 126.7 89.1)" fill="url(#sph1)"/><ellipse cx="77.0" cy="179.3" rx="7.0" ry="6.7" transform="rotate(9 77.0 179.3)" fill="url(#sph1)"/><ellipse cx="94.6" cy="57.7" rx="8.8" ry="5.4" transform="rotate(72 94.6 57.7)" fill="url(#sph0)"/><ellipse cx="128.0" cy="19.5" rx="8.3" ry="6.7" transform="rotate(3 128.0 19.5)" fill="url(#sph1)"/><ellipse cx="139.4" cy="38.8" rx="7.9" ry="5.2" transform="rotate(77 139.4 38.8)" fill="url(#sph0)"/><ellipse cx="114.4" cy="136.4" rx="10.4" ry="7.3" transform="rotate(171 114.4 136.4)" fill="url(#sph1)"/><ellipse cx="191.1" cy="83.9" rx="8.9" ry="8.8" transform="rotate(34 191.1 83.9)" fill="url(#sph1)"/><ellipse cx="113.7" cy="95.7" rx="8.8" ry="7.2" transform="rotate(87 113.7 95.7)" fill="url(#sph1)"/><ellipse cx="242.9" cy="90.7" rx="9.8" ry="5.8" transform="rotate(151 242.9 90.7)" fill="url(#sph0)"/><ellipse cx="100.0" cy="104.4" rx="7.7" ry="5.9" transform="rotate(170 100.0 104.4)" fill="url(#sph0)"/><ellipse cx="121.0" cy="124.5" rx="8.1" ry="5.8" transform="rotate(98 121.0 124.5)" fill="url(#sph0)"/><ellipse cx="199.0" cy="204.3" rx="7.0" ry="6.2" transform="rotate(18 199.0 204.3)" fill="url(#sph0)"/><ellipse cx="171.3" cy="142.4" rx="11.7" ry="8.0" transform="rotate(103 171.3 142.4)" fill="url(#sph1)"/><ellipse cx="165.2" cy="223.7" rx="9.4" ry="8.5" transform="rotate(22 165.2 223.7)" fill="url(#sph1)"/><ellipse cx="145.1" cy="187.0" rx="10.2" ry="7.0" transform="rotate(71 145.1 187.0)" fill="url(#sph1)"/><ellipse cx="206.6" cy="191.9" rx="11.8" ry="7.6" transform="rotate(41 206.6 191.9)" fill="url(#sph1)"/><ellipse cx="115.7" cy="69.0" rx="8.5" ry="8.5" transform="rotate(55 115.7 69.0)" fill="url(#sph1)"/><ellipse cx="177.8" cy="156.7" rx="5.3" ry="4.9" transform="rotate(30 177.8 156.7)" fill="url(#sph0)"/><ellipse cx="84.9" cy="125.9" rx="7.2" ry="4.6" transform="rotate(84 84.9 125.9)" fill="url(#sph0)"/><ellipse cx="177.6" cy="89.0" rx="8.8" ry="8.3" transform="rotate(156 177.6 89.0)" fill="url(#sph1)"/><ellipse cx="90.8" cy="126.5" rx="9.7" ry="6.6" transform="rotate(98 90.8 126.5)" fill="url(#sph1)"/><ellipse cx="152.4" cy="123.2" rx="7.9" ry="7.4" transform="rotate(127 152.4 123.2)" fill="url(#sph1)"/><ellipse cx="72.7" cy="168.3" rx="6.8" ry="4.8" transform="rotate(39 72.7 168.3)" fill="url(#sph0)"/><ellipse cx="166.2" cy="181.7" rx="9.8" ry="7.2" transform="rotate(129 166.2 181.7)" fill="url(#sph1)"/><ellipse cx="88.7" cy="111.2" rx="8.2" ry="8.0" transform="rotate(37 88.7 111.2)" fill="url(#sph1)"/><ellipse cx="150.3" cy="79.9" rx="6.1" ry="5.1" transform="rotate(5 150.3 79.9)" fill="url(#sph0)"/><ellipse cx="105.6" cy="176.1" rx="8.2" ry="5.4" transform="rotate(159 105.6 176.1)" fill="url(#sph0)"/><ellipse cx="232.4" cy="189.2" rx="7.5" ry="5.0" transform="rotate(136 232.4 189.2)" fill="url(#sph0)"/><ellipse cx="72.3" cy="161.8" rx="8.2" ry="7.3" transform="rotate(148 72.3 161.8)" fill="url(#sph1)"/><ellipse cx="138.9" cy="144.8" rx="6.3" ry="4.7" transform="rotate(169 138.9 144.8)" fill="url(#sph0)"/><ellipse cx="109.2" cy="121.7" rx="12.6" ry="7.8" transform="rotate(171 109.2 121.7)" fill="url(#sph1)"/><ellipse cx="108.9" cy="88.5" rx="8.1" ry="5.2" transform="rotate(106 108.9 88.5)" fill="url(#sph0)"/><ellipse cx="136.1" cy="121.9" rx="9.1" ry="6.5" transform="rotate(27 136.1 121.9)" fill="url(#sph1)"/><ellipse cx="191.9" cy="64.5" rx="7.5" ry="4.5" transform="rotate(18 191.9 64.5)" fill="url(#sph0)"/><ellipse cx="209.6" cy="188.7" rx="8.8" ry="6.2" transform="rotate(43 209.6 188.7)" fill="url(#sph1)"/><ellipse cx="84.2" cy="217.3" rx="11.1" ry="7.3" transform="rotate(82 84.2 217.3)" fill="url(#sph1)"/><ellipse cx="171.9" cy="36.3" rx="12.0" ry="8.1" transform="rotate(11 171.9 36.3)" fill="url(#sph1)"/><ellipse cx="187.9" cy="166.3" rx="8.7" ry="6.2" transform="rotate(168 187.9 166.3)" fill="url(#sph1)"/><ellipse cx="183.9" cy="116.4" rx="11.7" ry="8.2" transform="rotate(140 183.9 116.4)" fill="url(#sph1)"/><ellipse cx="156.9" cy="186.2" rx="10.1" ry="7.6" transform="rotate(84 156.9 186.2)" fill="url(#sph1)"/><ellipse cx="80.4" cy="160.5" rx="9.5" ry="7.5" transform="rotate(12 80.4 160.5)" fill="url(#sph1)"/><ellipse cx="189.0" cy="159.3" rx="8.2" ry="7.4" transform="rotate(159 189.0 159.3)" fill="url(#sph1)"/><ellipse cx="193.9" cy="196.9" rx="6.3" ry="5.4" transform="rotate(96 193.9 196.9)" fill="url(#sph0)"/><ellipse cx="208.2" cy="58.0" rx="9.7" ry="6.7" transform="rotate(37 208.2 58.0)" fill="url(#sph1)"/><ellipse cx="48.7" cy="173.0" rx="11.9" ry="7.7" transform="rotate(19 48.7 173.0)" fill="url(#sph1)"/><ellipse cx="109.6" cy="111.3" rx="7.4" ry="4.6" transform="rotate(149 109.6 111.3)" fill="url(#sph0)"/><ellipse cx="217.2" cy="73.2" rx="10.9" ry="6.8" transform="rotate(1 217.2 73.2)" fill="url(#sph1)"/><ellipse cx="119.3" cy="60.1" rx="9.4" ry="5.8" transform="rotate(117 119.3 60.1)" fill="url(#sph0)"/><ellipse cx="64.6" cy="202.1" rx="9.0" ry="5.8" transform="rotate(90 64.6 202.1)" fill="url(#sph0)"/><ellipse cx="222.4" cy="135.1" rx="9.6" ry="5.7" transform="rotate(177 222.4 135.1)" fill="url(#sph0)"/><ellipse cx="155.1" cy="128.5" rx="9.9" ry="6.8" transform="rotate(49 155.1 128.5)" fill="url(#sph1)"/><ellipse cx="237.1" cy="103.5" rx="11.6" ry="8.3" transform="rotate(165 237.1 103.5)" fill="url(#sph1)"/><ellipse cx="160.9" cy="82.9" rx="7.3" ry="6.2" transform="rotate(17 160.9 82.9)" fill="url(#sph0)"/><ellipse cx="136.2" cy="128.5" rx="9.6" ry="6.1" transform="rotate(78 136.2 128.5)" fill="url(#sph1)"/><ellipse cx="199.3" cy="185.6" rx="8.7" ry="6.6" transform="rotate(42 199.3 185.6)" fill="url(#sph1)"/><ellipse cx="184.8" cy="213.3" rx="12.4" ry="8.0" transform="rotate(174 184.8 213.3)" fill="url(#sph1)"/><ellipse cx="162.9" cy="111.2" rx="11.9" ry="8.2" transform="rotate(13 162.9 111.2)" fill="url(#sph1)"/><ellipse cx="220.8" cy="146.4" rx="10.1" ry="8.0" transform="rotate(114 220.8 146.4)" fill="url(#sph1)"/><ellipse cx="165.7" cy="151.1" rx="10.2" ry="8.1" transform="rotate(121 165.7 151.1)" fill="url(#sph1)"/><ellipse cx="221.2" cy="169.9" rx="6.9" ry="6.7" transform="rotate(89 221.2 169.9)" fill="url(#sph1)"/><ellipse cx="146.0" cy="154.2" rx="11.5" ry="8.0" transform="rotate(138 146.0 154.2)" fill="url(#sph1)"/><ellipse cx="108.5" cy="29.1" rx="8.6" ry="7.1" transform="rotate(110 108.5 29.1)" fill="url(#sph1)"/><ellipse cx="86.6" cy="229.5" rx="9.1" ry="6.2" transform="rotate(97 86.6 229.5)" fill="url(#sph1)"/><ellipse cx="136.8" cy="168.0" rx="11.3" ry="7.9" transform="rotate(142 136.8 168.0)" fill="url(#sph1)"/><ellipse cx="112.7" cy="68.0" rx="6.4" ry="4.7" transform="rotate(11 112.7 68.0)" fill="url(#sph0)"/><ellipse cx="95.5" cy="113.7" rx="7.2" ry="6.3" transform="rotate(76 95.5 113.7)" fill="url(#sph0)"/><ellipse cx="186.8" cy="199.0" rx="11.1" ry="6.6" transform="rotate(99 186.8 199.0)" fill="url(#sph1)"/><ellipse cx="110.1" cy="161.1" rx="6.5" ry="5.1" transform="rotate(170 110.1 161.1)" fill="url(#sph0)"/><ellipse cx="102.9" cy="152.0" rx="9.8" ry="8.0" transform="rotate(102 102.9 152.0)" fill="url(#sph1)"/><ellipse cx="127.8" cy="157.4" rx="12.3" ry="7.6" transform="rotate(92 127.8 157.4)" fill="url(#sph1)"/><ellipse cx="93.8" cy="202.3" rx="11.7" ry="7.6" transform="rotate(120 93.8 202.3)" fill="url(#sph1)"/><ellipse cx="173.0" cy="96.8" rx="8.6" ry="6.9" transform="rotate(127 173.0 96.8)" fill="url(#sph1)"/><ellipse cx="100.1" cy="106.8" rx="9.5" ry="5.9" transform="rotate(10 100.1 106.8)" fill="url(#sph0)"/><ellipse cx="223.3" cy="59.1" rx="7.7" ry="5.8" transform="rotate(80 223.3 59.1)" fill="url(#sph0)"/><ellipse cx="72.8" cy="69.3" rx="9.6" ry="6.4" transform="rotate(6 72.8 69.3)" fill="url(#sph1)"/><ellipse cx="87.1" cy="176.2" rx="12.0" ry="7.4" transform="rotate(178 87.1 176.2)" fill="url(#sph1)"/><ellipse cx="159.3" cy="32.0" rx="9.7" ry="6.6" transform="rotate(114 159.3 32.0)" fill="url(#sph1)"/><ellipse cx="248.1" cy="92.4" rx="9.7" ry="6.0" transform="rotate(144 248.1 92.4)" fill="url(#sph1)"/><ellipse cx="212.6" cy="220.1" rx="8.0" ry="7.5" transform="rotate(99 212.6 220.1)" fill="url(#sph1)"/><ellipse cx="71.0" cy="218.6" rx="6.2" ry="6.0" transform="rotate(81 71.0 218.6)" fill="url(#sph0)"/><ellipse cx="88.8" cy="212.2" rx="6.1" ry="5.6" transform="rotate(67 88.8 212.2)" fill="url(#sph0)"/><ellipse cx="132.2" cy="132.9" rx="10.6" ry="8.4" transform="rotate(157 132.2 132.9)" fill="url(#sph1)"/><ellipse cx="180.2" cy="24.5" rx="6.5" ry="5.1" transform="rotate(142 180.2 24.5)" fill="url(#sph0)"/><ellipse cx="199.7" cy="95.1" rx="7.8" ry="5.6" transform="rotate(80 199.7 95.1)" fill="url(#sph0)"/><ellipse cx="209.7" cy="164.9" rx="7.7" ry="6.5" transform="rotate(86 209.7 164.9)" fill="url(#sph1)"/><ellipse cx="124.0" cy="204.3" rx="10.6" ry="8.4" transform="rotate(50 124.0 204.3)" fill="url(#sph1)"/><ellipse cx="194.2" cy="226.8" rx="13.2" ry="7.9" transform="rotate(143 194.2 226.8)" fill="url(#sph1)"/><ellipse cx="215.5" cy="116.1" rx="8.6" ry="7.5" transform="rotate(179 215.5 116.1)" fill="url(#sph1)"/><ellipse cx="88.3" cy="188.4" rx="11.7" ry="7.3" transform="rotate(66 88.3 188.4)" fill="url(#sph1)"/><ellipse cx="225.7" cy="142.3" rx="6.5" ry="5.3" transform="rotate(70 225.7 142.3)" fill="url(#sph0)"/><ellipse cx="139.7" cy="75.0" rx="7.6" ry="5.7" transform="rotate(136 139.7 75.0)" fill="url(#sph0)"/><ellipse cx="138.6" cy="109.6" rx="9.6" ry="5.8" transform="rotate(137 138.6 109.6)" fill="url(#sph0)"/><ellipse cx="201.1" cy="106.6" rx="9.6" ry="7.3" transform="rotate(15 201.1 106.6)" fill="url(#sph1)"/><ellipse cx="155.0" cy="178.9" rx="7.4" ry="5.2" transform="rotate(49 155.0 178.9)" fill="url(#sph0)"/><ellipse cx="121.5" cy="60.9" rx="6.6" ry="5.5" transform="rotate(141 121.5 60.9)" fill="url(#sph0)"/><ellipse cx="147.9" cy="141.0" rx="9.6" ry="8.3" transform="rotate(161 147.9 141.0)" fill="url(#sph1)"/><ellipse cx="183.0" cy="177.3" rx="9.4" ry="8.5" transform="rotate(72 183.0 177.3)" fill="url(#sph1)"/><ellipse cx="153.2" cy="130.5" rx="10.0" ry="8.6" transform="rotate(49 153.2 130.5)" fill="url(#sph1)"/><ellipse cx="204.3" cy="195.2" rx="6.5" ry="6.2" transform="rotate(90 204.3 195.2)" fill="url(#sph0)"/><ellipse cx="158.3" cy="211.0" rx="9.3" ry="6.8" transform="rotate(141 158.3 211.0)" fill="url(#sph1)"/><ellipse cx="179.9" cy="154.1" rx="6.9" ry="4.6" transform="rotate(79 179.9 154.1)" fill="url(#sph0)"/><ellipse cx="154.0" cy="133.1" rx="8.8" ry="7.9" transform="rotate(157 154.0 133.1)" fill="url(#sph1)"/><ellipse cx="68.3" cy="201.9" rx="8.5" ry="8.3" transform="rotate(99 68.3 201.9)" fill="url(#sph1)"/><ellipse cx="213.9" cy="77.7" rx="8.3" ry="5.0" transform="rotate(40 213.9 77.7)" fill="url(#sph0)"/><ellipse cx="87.0" cy="90.6" rx="8.0" ry="4.8" transform="rotate(93 87.0 90.6)" fill="url(#sph0)"/><ellipse cx="115.8" cy="89.6" rx="7.1" ry="5.0" transform="rotate(120 115.8 89.6)" fill="url(#sph0)"/><ellipse cx="197.8" cy="212.2" rx="10.0" ry="8.0" transform="rotate(41 197.8 212.2)" fill="url(#sph1)"/><ellipse cx="57.6" cy="170.7" rx="8.0" ry="7.5" transform="rotate(130 57.6 170.7)" fill="url(#sph1)"/><ellipse cx="172.3" cy="191.6" rx="9.0" ry="7.7" transform="rotate(68 172.3 191.6)" fill="url(#sph1)"/><ellipse cx="162.0" cy="220.1" rx="8.5" ry="5.8" transform="rotate(169 162.0 220.1)" fill="url(#sph0)"/><ellipse cx="190.7" cy="52.9" rx="9.3" ry="5.6" transform="rotate(3 190.7 52.9)" fill="url(#sph0)"/><ellipse cx="143.4" cy="89.8" rx="7.3" ry="5.3" transform="rotate(56 143.4 89.8)" fill="url(#sph0)"/><ellipse cx="96.8" cy="203.2" rx="11.3" ry="7.0" transform="rotate(1 96.8 203.2)" fill="url(#sph1)"/><ellipse cx="210.4" cy="116.3" rx="10.2" ry="6.3" transform="rotate(94 210.4 116.3)" fill="url(#sph1)"/><ellipse cx="230.4" cy="195.0" rx="7.6" ry="4.7" transform="rotate(56 230.4 195.0)" fill="url(#sph0)"/><ellipse cx="153.2" cy="125.2" rx="7.8" ry="7.4" transform="rotate(94 153.2 125.2)" fill="url(#sph1)"/><ellipse cx="180.6" cy="70.0" rx="10.2" ry="7.6" transform="rotate(82 180.6 70.0)" fill="url(#sph1)"/><ellipse cx="114.0" cy="118.0" rx="11.7" ry="8.0" transform="rotate(29 114.0 118.0)" fill="url(#sph1)"/><ellipse cx="88.8" cy="226.0" rx="7.5" ry="4.6" transform="rotate(145 88.8 226.0)" fill="url(#sph0)"/><ellipse cx="222.4" cy="46.1" rx="10.4" ry="7.9" transform="rotate(79 222.4 46.1)" fill="url(#sph1)"/><ellipse cx="95.6" cy="83.5" rx="8.8" ry="7.5" transform="rotate(174 95.6 83.5)" fill="url(#sph1)"/><ellipse cx="205.2" cy="217.6" rx="10.5" ry="7.0" transform="rotate(45 205.2 217.6)" fill="url(#sph1)"/><ellipse cx="173.2" cy="222.6" rx="8.2" ry="6.0" transform="rotate(48 173.2 222.6)" fill="url(#sph0)"/><ellipse cx="177.9" cy="221.2" rx="9.8" ry="7.4" transform="rotate(164 177.9 221.2)" fill="url(#sph1)"/><ellipse cx="132.9" cy="233.6" rx="11.3" ry="7.5" transform="rotate(120 132.9 233.6)" fill="url(#sph1)"/><ellipse cx="123.2" cy="94.8" rx="8.5" ry="5.8" transform="rotate(157 123.2 94.8)" fill="url(#sph0)"/><ellipse cx="83.5" cy="120.5" rx="7.1" ry="5.9" transform="rotate(37 83.5 120.5)" fill="url(#sph0)"/><ellipse cx="222.7" cy="111.6" rx="8.9" ry="8.0" transform="rotate(135 222.7 111.6)" fill="url(#sph1)"/><ellipse cx="127.7" cy="75.4" rx="7.4" ry="4.8" transform="rotate(139 127.7 75.4)" fill="url(#sph0)"/><ellipse cx="186.6" cy="87.1" rx="6.5" ry="5.2" transform="rotate(106 186.6 87.1)" fill="url(#sph0)"/><ellipse cx="141.0" cy="154.6" rx="6.2" ry="4.7" transform="rotate(71 141.0 154.6)" fill="url(#sph0)"/><ellipse cx="231.1" cy="200.2" rx="10.5" ry="8.1" transform="rotate(132 231.1 200.2)" fill="url(#sph1)"/><ellipse cx="180.0" cy="218.3" rx="8.8" ry="6.0" transform="rotate(88 180.0 218.3)" fill="url(#sph0)"/><ellipse cx="127.5" cy="66.6" rx="6.2" ry="5.1" transform="rotate(101 127.5 66.6)" fill="url(#sph0)"/><ellipse cx="227.6" cy="193.8" rx="9.9" ry="7.5" transform="rotate(87 227.6 193.8)" fill="url(#sph1)"/><ellipse cx="163.6" cy="188.7" rx="8.6" ry="8.5" transform="rotate(160 163.6 188.7)" fill="url(#sph1)"/><ellipse cx="210.1" cy="215.8" rx="7.2" ry="6.0" transform="rotate(153 210.1 215.8)" fill="url(#sph0)"/><ellipse cx="221.6" cy="101.5" rx="7.6" ry="6.4" transform="rotate(28 221.6 101.5)" fill="url(#sph1)"/><ellipse cx="73.8" cy="76.2" rx="7.5" ry="5.3" transform="rotate(137 73.8 76.2)" fill="url(#sph0)"/><ellipse cx="151.5" cy="70.6" rx="7.3" ry="5.6" transform="rotate(30 151.5 70.6)" fill="url(#sph0)"/><ellipse cx="126.6" cy="39.1" rx="10.8" ry="7.1" transform="rotate(17 126.6 39.1)" fill="url(#sph1)"/><ellipse cx="72.0" cy="80.4" rx="8.5" ry="5.2" transform="rotate(84 72.0 80.4)" fill="url(#sph0)"/><ellipse cx="178.5" cy="224.3" rx="9.3" ry="5.7" transform="rotate(32 178.5 224.3)" fill="url(#sph0)"/><ellipse cx="90.7" cy="175.0" rx="8.8" ry="7.0" transform="rotate(24 90.7 175.0)" fill="url(#sph1)"/><ellipse cx="150.9" cy="57.0" rx="12.7" ry="7.6" transform="rotate(119 150.9 57.0)" fill="url(#sph1)"/><ellipse cx="170.4" cy="25.9" rx="6.5" ry="5.1" transform="rotate(68 170.4 25.9)" fill="url(#sph0)"/><ellipse cx="137.3" cy="174.9" rx="9.9" ry="8.6" transform="rotate(8 137.3 174.9)" fill="url(#sph1)"/><ellipse cx="64.9" cy="189.7" rx="9.8" ry="6.6" transform="rotate(175 64.9 189.7)" fill="url(#sph1)"/><ellipse cx="65.1" cy="146.3" rx="8.6" ry="6.6" transform="rotate(90 65.1 146.3)" fill="url(#sph1)"/><ellipse cx="155.5" cy="191.3" rx="10.0" ry="6.4" transform="rotate(63 155.5 191.3)" fill="url(#sph1)"/><ellipse cx="186.2" cy="124.0" rx="9.5" ry="7.3" transform="rotate(126 186.2 124.0)" fill="url(#sph1)"/><ellipse cx="137.9" cy="79.4" rx="5.5" ry="5.3" transform="rotate(133 137.9 79.4)" fill="url(#sph0)"/><ellipse cx="45.7" cy="162.2" rx="5.7" ry="5.1" transform="rotate(80 45.7 162.2)" fill="url(#sph0)"/><ellipse cx="192.5" cy="173.8" rx="8.4" ry="6.3" transform="rotate(114 192.5 173.8)" fill="url(#sph1)"/><ellipse cx="148.6" cy="124.3" rx="8.3" ry="7.7" transform="rotate(147 148.6 124.3)" fill="url(#sph1)"/><ellipse cx="176.0" cy="84.3" rx="7.3" ry="4.6" transform="rotate(116 176.0 84.3)" fill="url(#sph0)"/><ellipse cx="92.3" cy="153.0" rx="9.7" ry="6.3" transform="rotate(76 92.3 153.0)" fill="url(#sph1)"/><ellipse cx="139.3" cy="199.8" rx="6.7" ry="5.6" transform="rotate(118 139.3 199.8)" fill="url(#sph0)"/><ellipse cx="193.6" cy="125.5" rx="8.3" ry="6.2" transform="rotate(177 193.6 125.5)" fill="url(#sph1)"/><ellipse cx="66.2" cy="142.0" rx="6.9" ry="6.3" transform="rotate(57 66.2 142.0)" fill="url(#sph0)"/><ellipse cx="228.2" cy="113.7" rx="10.0" ry="6.0" transform="rotate(7 228.2 113.7)" fill="url(#sph1)"/><ellipse cx="162.2" cy="224.6" rx="10.4" ry="8.6" transform="rotate(55 162.2 224.6)" fill="url(#sph1)"/><ellipse cx="194.4" cy="114.0" rx="5.6" ry="5.1" transform="rotate(156 194.4 114.0)" fill="url(#sph0)"/><ellipse cx="157.6" cy="214.6" rx="9.5" ry="7.9" transform="rotate(74 157.6 214.6)" fill="url(#sph1)"/><ellipse cx="124.3" cy="118.1" rx="7.1" ry="5.7" transform="rotate(45 124.3 118.1)" fill="url(#sph0)"/><ellipse cx="113.2" cy="162.5" rx="7.0" ry="6.8" transform="rotate(109 113.2 162.5)" fill="url(#sph1)"/><ellipse cx="209.9" cy="213.8" rx="8.0" ry="5.2" transform="rotate(64 209.9 213.8)" fill="url(#sph0)"/><ellipse cx="103.5" cy="98.4" rx="11.8" ry="8.0" transform="rotate(124 103.5 98.4)" fill="url(#sph1)"/><ellipse cx="105.9" cy="175.4" rx="7.2" ry="5.5" transform="rotate(145 105.9 175.4)" fill="url(#sph0)"/><ellipse cx="156.5" cy="105.2" rx="7.2" ry="5.0" transform="rotate(111 156.5 105.2)" fill="url(#sph0)"/><ellipse cx="104.7" cy="220.7" rx="9.4" ry="7.9" transform="rotate(55 104.7 220.7)" fill="url(#sph1)"/><ellipse cx="112.9" cy="29.4" rx="6.8" ry="5.8" transform="rotate(34 112.9 29.4)" fill="url(#sph0)"/><ellipse cx="207.2" cy="182.1" rx="7.0" ry="5.7" transform="rotate(111 207.2 182.1)" fill="url(#sph0)"/><ellipse cx="202.1" cy="70.4" rx="11.0" ry="7.4" transform="rotate(66 202.1 70.4)" fill="url(#sph1)"/><ellipse cx="75.7" cy="84.9" rx="10.1" ry="7.1" transform="rotate(37 75.7 84.9)" fill="url(#sph1)"/><ellipse cx="92.4" cy="94.3" rx="6.5" ry="4.7" transform="rotate(157 92.4 94.3)" fill="url(#sph0)"/><ellipse cx="195.5" cy="174.5" rx="10.5" ry="7.9" transform="rotate(174 195.5 174.5)" fill="url(#sph1)"/><ellipse cx="219.5" cy="73.6" rx="6.6" ry="6.4" transform="rotate(95 219.5 73.6)" fill="url(#sph0)"/><ellipse cx="173.7" cy="137.6" rx="10.5" ry="6.5" transform="rotate(161 173.7 137.6)" fill="url(#sph1)"/><ellipse cx="91.6" cy="237.9" rx="7.5" ry="7.5" transform="rotate(87 91.6 237.9)" fill="url(#sph1)"/><ellipse cx="80.4" cy="80.9" rx="7.0" ry="6.2" transform="rotate(2 80.4 80.9)" fill="url(#sph0)"/><ellipse cx="123.5" cy="127.4" rx="6.7" ry="5.1" transform="rotate(140 123.5 127.4)" fill="url(#sph0)"/><ellipse cx="102.3" cy="31.0" rx="6.6" ry="5.8" transform="rotate(24 102.3 31.0)" fill="url(#sph0)"/><ellipse cx="168.9" cy="216.0" rx="9.6" ry="6.3" transform="rotate(157 168.9 216.0)" fill="url(#sph1)"/><ellipse cx="172.8" cy="167.2" rx="11.5" ry="8.0" transform="rotate(134 172.8 167.2)" fill="url(#sph1)"/><ellipse cx="159.8" cy="196.7" rx="8.8" ry="8.2" transform="rotate(167 159.8 196.7)" fill="url(#sph1)"/><ellipse cx="122.9" cy="158.7" rx="8.5" ry="8.2" transform="rotate(113 122.9 158.7)" fill="url(#sph1)"/><ellipse cx="180.3" cy="139.1" rx="9.5" ry="6.5" transform="rotate(78 180.3 139.1)" fill="url(#sph1)"/><ellipse cx="150.4" cy="207.4" rx="10.7" ry="7.5" transform="rotate(172 150.4 207.4)" fill="url(#sph1)"/><ellipse cx="180.4" cy="182.1" rx="9.5" ry="6.8" transform="rotate(136 180.4 182.1)" fill="url(#sph1)"/><ellipse cx="221.6" cy="125.2" rx="6.2" ry="4.9" transform="rotate(58 221.6 125.2)" fill="url(#sph0)"/><ellipse cx="217.6" cy="182.8" rx="10.9" ry="7.0" transform="rotate(96 217.6 182.8)" fill="url(#sph1)"/><ellipse cx="125.8" cy="190.8" rx="7.2" ry="5.3" transform="rotate(51 125.8 190.8)" fill="url(#sph0)"/><ellipse cx="87.9" cy="61.7" rx="8.2" ry="5.5" transform="rotate(45 87.9 61.7)" fill="url(#sph0)"/><ellipse cx="151.9" cy="41.7" rx="9.9" ry="8.2" transform="rotate(29 151.9 41.7)" fill="url(#sph1)"/><ellipse cx="206.6" cy="177.5" rx="6.5" ry="5.4" transform="rotate(107 206.6 177.5)" fill="url(#sph0)"/><ellipse cx="176.9" cy="206.1" rx="8.4" ry="5.1" transform="rotate(56 176.9 206.1)" fill="url(#sph0)"/><ellipse cx="73.0" cy="172.9" rx="9.3" ry="6.8" transform="rotate(99 73.0 172.9)" fill="url(#sph1)"/><ellipse cx="185.9" cy="144.8" rx="7.7" ry="6.3" transform="rotate(27 185.9 144.8)" fill="url(#sph0)"/><ellipse cx="48.7" cy="151.0" rx="10.0" ry="6.3" transform="rotate(120 48.7 151.0)" fill="url(#sph1)"/><ellipse cx="130.1" cy="52.4" rx="7.9" ry="7.4" transform="rotate(42 130.1 52.4)" fill="url(#sph1)"/><ellipse cx="156.4" cy="22.8" rx="11.3" ry="7.1" transform="rotate(15 156.4 22.8)" fill="url(#sph1)"/><ellipse cx="129.5" cy="204.5" rx="6.8" ry="5.7" transform="rotate(50 129.5 204.5)" fill="url(#sph0)"/><ellipse cx="70.1" cy="75.3" rx="8.6" ry="6.4" transform="rotate(170 70.1 75.3)" fill="url(#sph1)"/><ellipse cx="210.7" cy="185.7" rx="9.7" ry="8.5" transform="rotate(103 210.7 185.7)" fill="url(#sph1)"/><ellipse cx="166.4" cy="108.6" rx="12.3" ry="7.7" transform="rotate(30 166.4 108.6)" fill="url(#sph1)"/><ellipse cx="216.4" cy="77.3" rx="9.3" ry="8.0" transform="rotate(109 216.4 77.3)" fill="url(#sph1)"/></g>
<g class="sp"><circle cx="86.5" cy="236.7" r="3.3" fill="url(#sph0)"/><circle cx="82.8" cy="157.9" r="4.1" fill="url(#sph0)"/><circle cx="135.0" cy="121.8" r="3.5" fill="url(#sph0)"/><circle cx="95.1" cy="100.3" r="5.3" fill="url(#sph0)"/><circle cx="119.1" cy="28.0" r="3.6" fill="url(#sph0)"/><circle cx="170.7" cy="92.8" r="4.7" fill="url(#sph0)"/><circle cx="110.4" cy="170.1" r="4.2" fill="url(#sph0)"/><circle cx="177.0" cy="221.7" r="4.5" fill="url(#sph0)"/><circle cx="79.5" cy="232.7" r="4.4" fill="url(#sph0)"/><circle cx="194.0" cy="216.7" r="3.7" fill="url(#sph0)"/><circle cx="114.3" cy="216.0" r="3.3" fill="url(#sph0)"/><circle cx="185.7" cy="172.7" r="5.4" fill="url(#sph0)"/><circle cx="218.5" cy="123.9" r="3.5" fill="url(#sph0)"/><circle cx="70.1" cy="130.1" r="4.3" fill="url(#sph0)"/><circle cx="146.6" cy="172.5" r="3.5" fill="url(#sph0)"/><circle cx="111.5" cy="65.6" r="4.1" fill="url(#sph0)"/><circle cx="118.7" cy="205.2" r="5.2" fill="url(#sph0)"/><circle cx="73.6" cy="163.1" r="5.4" fill="url(#sph0)"/><circle cx="81.2" cy="188.6" r="3.8" fill="url(#sph0)"/><circle cx="111.1" cy="41.9" r="4.1" fill="url(#sph0)"/><circle cx="87.6" cy="100.9" r="4.1" fill="url(#sph0)"/><circle cx="127.4" cy="144.8" r="3.7" fill="url(#sph0)"/><circle cx="60.8" cy="128.2" r="3.9" fill="url(#sph0)"/><circle cx="210.8" cy="124.2" r="4.8" fill="url(#sph0)"/><circle cx="120.7" cy="141.1" r="4.9" fill="url(#sph0)"/><circle cx="83.0" cy="215.3" r="3.1" fill="url(#sph0)"/><circle cx="132.5" cy="20.5" r="4.5" fill="url(#sph0)"/><circle cx="144.4" cy="116.4" r="3.4" fill="url(#sph0)"/><circle cx="64.1" cy="142.9" r="4.1" fill="url(#sph0)"/><circle cx="193.3" cy="176.0" r="4.2" fill="url(#sph0)"/><circle cx="122.3" cy="88.8" r="3.6" fill="url(#sph0)"/><circle cx="61.2" cy="178.4" r="4.8" fill="url(#sph0)"/><circle cx="115.9" cy="106.4" r="3.2" fill="url(#sph0)"/><circle cx="145.6" cy="173.5" r="3.5" fill="url(#sph0)"/><circle cx="87.1" cy="129.3" r="4.9" fill="url(#sph0)"/><circle cx="169.2" cy="223.6" r="4.9" fill="url(#sph0)"/><circle cx="85.9" cy="72.9" r="4.4" fill="url(#sph0)"/><circle cx="247.0" cy="90.8" r="5.4" fill="url(#sph0)"/><circle cx="220.0" cy="127.0" r="4.6" fill="url(#sph0)"/><circle cx="101.3" cy="208.0" r="3.5" fill="url(#sph0)"/><circle cx="117.2" cy="235.8" r="5.1" fill="url(#sph0)"/><circle cx="104.8" cy="71.5" r="4.5" fill="url(#sph0)"/><circle cx="218.3" cy="168.3" r="5.3" fill="url(#sph0)"/><circle cx="193.8" cy="201.9" r="4.5" fill="url(#sph0)"/><circle cx="115.5" cy="105.2" r="4.2" fill="url(#sph0)"/><circle cx="151.2" cy="206.2" r="3.7" fill="url(#sph0)"/><circle cx="52.7" cy="180.3" r="3.7" fill="url(#sph0)"/><circle cx="127.8" cy="28.8" r="5.1" fill="url(#sph0)"/><circle cx="96.6" cy="71.7" r="5.0" fill="url(#sph0)"/><circle cx="145.9" cy="68.2" r="5.2" fill="url(#sph0)"/><circle cx="126.1" cy="88.9" r="5.4" fill="url(#sph0)"/><circle cx="207.1" cy="183.9" r="3.6" fill="url(#sph0)"/><circle cx="212.0" cy="146.8" r="5.1" fill="url(#sph0)"/><circle cx="116.7" cy="192.1" r="5.0" fill="url(#sph0)"/><circle cx="121.0" cy="161.1" r="5.0" fill="url(#sph0)"/><circle cx="168.6" cy="168.5" r="3.2" fill="url(#sph0)"/><circle cx="137.0" cy="213.7" r="5.3" fill="url(#sph0)"/><circle cx="167.9" cy="212.8" r="4.6" fill="url(#sph0)"/><circle cx="177.9" cy="90.1" r="5.1" fill="url(#sph0)"/><circle cx="212.4" cy="178.3" r="4.5" fill="url(#sph0)"/><circle cx="106.3" cy="73.0" r="3.9" fill="url(#sph0)"/><circle cx="107.9" cy="127.9" r="3.3" fill="url(#sph0)"/><circle cx="192.4" cy="85.6" r="3.4" fill="url(#sph0)"/><circle cx="92.6" cy="95.8" r="4.1" fill="url(#sph0)"/><circle cx="85.6" cy="72.1" r="3.4" fill="url(#sph0)"/><circle cx="195.5" cy="203.0" r="4.4" fill="url(#sph0)"/><circle cx="107.9" cy="216.9" r="4.8" fill="url(#sph0)"/><circle cx="140.5" cy="138.5" r="5.3" fill="url(#sph0)"/><circle cx="125.3" cy="41.6" r="4.9" fill="url(#sph0)"/><circle cx="163.3" cy="151.0" r="4.0" fill="url(#sph0)"/><circle cx="142.8" cy="90.2" r="5.1" fill="url(#sph0)"/><circle cx="151.0" cy="76.0" r="4.7" fill="url(#sph0)"/><circle cx="139.8" cy="31.5" r="5.1" fill="url(#sph0)"/><circle cx="152.2" cy="230.5" r="3.7" fill="url(#sph0)"/><circle cx="84.5" cy="129.5" r="4.9" fill="url(#sph0)"/><circle cx="214.5" cy="159.3" r="3.3" fill="url(#sph0)"/><circle cx="122.3" cy="8.6" r="3.9" fill="url(#sph0)"/><circle cx="240.2" cy="85.4" r="4.7" fill="url(#sph0)"/><circle cx="171.0" cy="35.2" r="4.7" fill="url(#sph0)"/><circle cx="162.1" cy="31.3" r="5.4" fill="url(#sph0)"/><circle cx="129.1" cy="155.0" r="5.4" fill="url(#sph0)"/><circle cx="46.5" cy="147.9" r="4.6" fill="url(#sph0)"/><circle cx="140.0" cy="41.8" r="3.6" fill="url(#sph0)"/><circle cx="116.1" cy="85.2" r="3.9" fill="url(#sph0)"/><circle cx="210.9" cy="92.2" r="4.6" fill="url(#sph0)"/><circle cx="189.9" cy="219.1" r="3.8" fill="url(#sph0)"/><circle cx="115.1" cy="90.1" r="4.4" fill="url(#sph0)"/><circle cx="102.6" cy="159.2" r="5.0" fill="url(#sph0)"/><circle cx="205.6" cy="182.4" r="4.5" fill="url(#sph0)"/><circle cx="93.8" cy="207.0" r="3.7" fill="url(#sph0)"/><circle cx="222.1" cy="110.0" r="4.6" fill="url(#sph0)"/><circle cx="144.8" cy="160.8" r="3.9" fill="url(#sph0)"/><circle cx="161.8" cy="181.2" r="3.9" fill="url(#sph0)"/><circle cx="166.5" cy="112.3" r="4.2" fill="url(#sph0)"/><circle cx="120.1" cy="134.5" r="4.8" fill="url(#sph0)"/><circle cx="207.7" cy="186.7" r="3.5" fill="url(#sph0)"/><circle cx="174.1" cy="62.3" r="5.2" fill="url(#sph0)"/><circle cx="45.8" cy="176.8" r="3.5" fill="url(#sph0)"/><circle cx="195.5" cy="181.5" r="4.4" fill="url(#sph0)"/><circle cx="211.9" cy="81.0" r="5.1" fill="url(#sph0)"/><circle cx="126.7" cy="224.2" r="3.0" fill="url(#sph0)"/><circle cx="147.3" cy="118.5" r="5.5" fill="url(#sph0)"/><circle cx="231.8" cy="104.6" r="3.4" fill="url(#sph0)"/><circle cx="69.2" cy="174.5" r="5.4" fill="url(#sph0)"/><circle cx="180.3" cy="85.2" r="4.5" fill="url(#sph0)"/><circle cx="178.6" cy="62.2" r="4.7" fill="url(#sph0)"/><circle cx="187.0" cy="55.5" r="4.0" fill="url(#sph0)"/><circle cx="186.3" cy="64.7" r="4.3" fill="url(#sph0)"/><circle cx="167.0" cy="99.9" r="3.5" fill="url(#sph0)"/><circle cx="186.2" cy="172.5" r="3.5" fill="url(#sph0)"/><circle cx="210.8" cy="161.2" r="5.2" fill="url(#sph0)"/><circle cx="205.0" cy="121.6" r="4.8" fill="url(#sph0)"/><circle cx="105.3" cy="160.8" r="3.2" fill="url(#sph0)"/><circle cx="112.0" cy="124.5" r="5.2" fill="url(#sph0)"/><circle cx="184.3" cy="223.6" r="5.2" fill="url(#sph0)"/><circle cx="170.0" cy="115.3" r="3.6" fill="url(#sph0)"/><circle cx="208.5" cy="150.1" r="3.4" fill="url(#sph0)"/><circle cx="89.3" cy="54.3" r="4.8" fill="url(#sph0)"/><circle cx="165.8" cy="49.4" r="4.7" fill="url(#sph0)"/><circle cx="158.6" cy="65.6" r="4.1" fill="url(#sph0)"/><circle cx="88.6" cy="146.1" r="5.1" fill="url(#sph0)"/><circle cx="235.2" cy="98.2" r="4.9" fill="url(#sph0)"/><circle cx="221.4" cy="163.6" r="4.1" fill="url(#sph0)"/><circle cx="166.1" cy="119.9" r="4.4" fill="url(#sph0)"/><circle cx="80.9" cy="185.7" r="5.4" fill="url(#sph0)"/><circle cx="168.0" cy="123.1" r="3.9" fill="url(#sph0)"/><circle cx="141.6" cy="142.8" r="4.5" fill="url(#sph0)"/><circle cx="97.1" cy="134.7" r="3.5" fill="url(#sph0)"/><circle cx="109.8" cy="94.6" r="3.8" fill="url(#sph0)"/><circle cx="142.3" cy="38.9" r="4.2" fill="url(#sph0)"/><circle cx="208.3" cy="154.7" r="5.4" fill="url(#sph0)"/><circle cx="138.1" cy="187.6" r="5.2" fill="url(#sph0)"/><circle cx="153.8" cy="164.2" r="4.7" fill="url(#sph0)"/><circle cx="148.0" cy="125.0" r="4.0" fill="url(#sph0)"/><circle cx="134.0" cy="116.6" r="5.0" fill="url(#sph0)"/><circle cx="187.1" cy="225.3" r="4.8" fill="url(#sph0)"/><circle cx="171.6" cy="109.9" r="3.5" fill="url(#sph0)"/><circle cx="72.1" cy="194.9" r="5.2" fill="url(#sph0)"/><circle cx="114.4" cy="130.1" r="4.7" fill="url(#sph0)"/><circle cx="167.8" cy="67.7" r="5.3" fill="url(#sph0)"/><circle cx="156.1" cy="175.7" r="4.7" fill="url(#sph0)"/><circle cx="131.8" cy="172.5" r="3.5" fill="url(#sph0)"/><circle cx="155.2" cy="160.3" r="4.6" fill="url(#sph0)"/><circle cx="100.5" cy="44.6" r="3.3" fill="url(#sph0)"/><circle cx="141.9" cy="139.9" r="4.8" fill="url(#sph0)"/><circle cx="131.7" cy="188.9" r="3.1" fill="url(#sph0)"/><circle cx="112.5" cy="29.4" r="4.3" fill="url(#sph0)"/><circle cx="160.5" cy="143.5" r="4.1" fill="url(#sph0)"/><circle cx="116.8" cy="80.8" r="3.3" fill="url(#sph0)"/><circle cx="79.4" cy="119.7" r="4.4" fill="url(#sph0)"/><circle cx="59.5" cy="207.9" r="3.1" fill="url(#sph0)"/><circle cx="109.3" cy="127.9" r="4.7" fill="url(#sph0)"/><circle cx="165.3" cy="193.1" r="4.2" fill="url(#sph0)"/><circle cx="182.7" cy="102.8" r="3.3" fill="url(#sph0)"/><circle cx="133.0" cy="67.9" r="4.4" fill="url(#sph0)"/><circle cx="180.8" cy="226.1" r="3.4" fill="url(#sph0)"/><circle cx="116.1" cy="196.4" r="4.3" fill="url(#sph0)"/><circle cx="158.3" cy="210.9" r="5.4" fill="url(#sph0)"/><circle cx="102.3" cy="54.0" r="5.3" fill="url(#sph0)"/><circle cx="164.7" cy="221.8" r="3.6" fill="url(#sph0)"/><circle cx="69.4" cy="70.9" r="5.3" fill="url(#sph0)"/><circle cx="120.9" cy="108.3" r="3.7" fill="url(#sph0)"/><circle cx="144.3" cy="82.3" r="4.8" fill="url(#sph0)"/><circle cx="59.7" cy="137.7" r="4.6" fill="url(#sph0)"/><circle cx="177.1" cy="104.6" r="4.8" fill="url(#sph0)"/><circle cx="46.8" cy="154.5" r="4.6" fill="url(#sph0)"/><circle cx="67.4" cy="201.1" r="3.9" fill="url(#sph0)"/><circle cx="227.0" cy="197.0" r="4.7" fill="url(#sph0)"/><circle cx="234.3" cy="125.2" r="3.7" fill="url(#sph0)"/><circle cx="172.3" cy="103.1" r="3.5" fill="url(#sph0)"/><circle cx="227.5" cy="126.0" r="4.9" fill="url(#sph0)"/><circle cx="73.1" cy="152.7" r="5.4" fill="url(#sph0)"/><circle cx="172.4" cy="74.7" r="3.1" fill="url(#sph0)"/><circle cx="95.9" cy="203.9" r="4.3" fill="url(#sph0)"/><circle cx="171.4" cy="197.4" r="3.7" fill="url(#sph0)"/><circle cx="68.1" cy="218.3" r="4.5" fill="url(#sph0)"/><circle cx="43.8" cy="171.4" r="4.8" fill="url(#sph0)"/><circle cx="96.5" cy="178.0" r="4.7" fill="url(#sph0)"/><circle cx="102.7" cy="219.2" r="3.3" fill="url(#sph0)"/><circle cx="186.6" cy="186.2" r="5.2" fill="url(#sph0)"/><circle cx="172.2" cy="134.3" r="5.1" fill="url(#sph0)"/><circle cx="99.5" cy="217.7" r="3.3" fill="url(#sph0)"/><circle cx="187.7" cy="130.5" r="5.1" fill="url(#sph0)"/><circle cx="186.1" cy="31.7" r="4.6" fill="url(#sph0)"/><circle cx="109.4" cy="226.4" r="3.6" fill="url(#sph0)"/><circle cx="118.5" cy="138.9" r="3.5" fill="url(#sph0)"/><circle cx="135.0" cy="73.0" r="4.8" fill="url(#sph0)"/><circle cx="207.8" cy="143.2" r="5.2" fill="url(#sph0)"/><circle cx="143.1" cy="183.8" r="3.2" fill="url(#sph0)"/><circle cx="120.8" cy="79.4" r="5.2" fill="url(#sph0)"/><circle cx="144.6" cy="92.6" r="4.7" fill="url(#sph0)"/><circle cx="210.0" cy="163.9" r="5.0" fill="url(#sph0)"/><circle cx="158.2" cy="95.6" r="3.8" fill="url(#sph0)"/><circle cx="94.3" cy="82.9" r="4.3" fill="url(#sph0)"/><circle cx="222.4" cy="58.1" r="4.0" fill="url(#sph0)"/><circle cx="93.9" cy="118.5" r="3.2" fill="url(#sph0)"/><circle cx="171.3" cy="211.1" r="5.3" fill="url(#sph0)"/><circle cx="114.8" cy="41.6" r="4.8" fill="url(#sph0)"/><circle cx="199.7" cy="46.8" r="3.2" fill="url(#sph0)"/><circle cx="181.4" cy="93.4" r="4.3" fill="url(#sph0)"/></g>
<path d="M70,122 L84,114 L97,104 L112,99 L130,100 L146,103" fill="none" stroke="#6a6a6a" stroke-width="4" stroke-linecap="round"/>
</g></g>
<clipPath id="insclip"><rect x="269.5" y="48.5" width="113" height="88"/></clipPath>
<clipPath id="insclip2"><path d="M291.7,48.5 C306.8,47.5 367.4,33.8 382.5,48.5 C397.6,63.2 401.3,121.8 382.5,136.5 C363.7,151.2 288.3,138.8 269.5,136.5 C250.7,134.2 269.4,125.3 269.5,123.0 C269.6,120.7 269.3,123.1 270.3,122.4 C271.3,121.7 273.6,120.3 275.7,118.8 C277.8,117.3 280.7,115.3 282.8,113.5 C284.9,111.7 286.4,109.6 288.2,108.1 C290.0,106.6 292.2,106.4 293.5,104.6 C294.8,102.8 296.1,100.1 296.2,97.4 C296.3,94.7 295.4,91.5 294.4,88.5 C293.3,85.5 292.0,82.6 289.9,79.6 C287.8,76.6 283.1,73.7 281.9,70.7 C280.7,67.7 281.2,64.5 282.8,61.8 C284.4,59.1 290.2,56.9 291.7,54.7 C293.2,52.5 276.6,49.5 291.7,48.5Z"/></clipPath>
<g clip-path="url(#insclip)"><g clip-path="url(#insclip2)"><g filter="url(#mol2)">
<rect x="262" y="40" width="130" height="105" fill="#000"/>
<path d="M291.7,48.5 C306.8,47.5 367.4,33.8 382.5,48.5 C397.6,63.2 401.3,121.8 382.5,136.5 C363.7,151.2 288.3,138.8 269.5,136.5 C250.7,134.2 269.4,125.3 269.5,123.0 C269.6,120.7 269.3,123.1 270.3,122.4 C271.3,121.7 273.6,120.3 275.7,118.8 C277.8,117.3 280.7,115.3 282.8,113.5 C284.9,111.7 286.4,109.6 288.2,108.1 C290.0,106.6 292.2,106.4 293.5,104.6 C294.8,102.8 296.1,100.1 296.2,97.4 C296.3,94.7 295.4,91.5 294.4,88.5 C293.3,85.5 292.0,82.6 289.9,79.6 C287.8,76.6 283.1,73.7 281.9,70.7 C280.7,67.7 281.2,64.5 282.8,61.8 C284.4,59.1 290.2,56.9 291.7,54.7 C293.2,52.5 276.6,49.5 291.7,48.5Z" fill="#4d4d4d"/>
<g class="sp"><circle cx="344.5" cy="90.3" r="15.0" fill="url(#sph2)"/><circle cx="365.0" cy="124.8" r="19.2" fill="url(#sph3)"/><circle cx="327.7" cy="64.8" r="12.0" fill="url(#sph1)"/><circle cx="310.2" cy="101.5" r="13.0" fill="url(#sph1)"/><circle cx="365.2" cy="64.4" r="15.3" fill="url(#sph2)"/><circle cx="358.0" cy="131.9" r="20.6" fill="url(#sph3)"/><circle cx="326.7" cy="52.2" r="25.3" fill="url(#sph4)"/><circle cx="309.9" cy="56.3" r="23.4" fill="url(#sph4)"/><circle cx="320.9" cy="98.0" r="16.8" fill="url(#sph2)"/><circle cx="325.0" cy="59.6" r="12.5" fill="url(#sph1)"/><circle cx="374.6" cy="64.7" r="22.9" fill="url(#sph4)"/><circle cx="378.2" cy="119.3" r="22.7" fill="url(#sph4)"/><circle cx="337.5" cy="116.6" r="13.7" fill="url(#sph1)"/><circle cx="323.9" cy="126.8" r="14.8" fill="url(#sph2)"/><circle cx="382.0" cy="133.2" r="17.7" fill="url(#sph2)"/><circle cx="309.5" cy="87.4" r="17.4" fill="url(#sph2)"/><circle cx="326.5" cy="91.6" r="19.7" fill="url(#sph3)"/><circle cx="359.3" cy="63.3" r="20.5" fill="url(#sph3)"/><circle cx="334.3" cy="105.4" r="14.5" fill="url(#sph2)"/><circle cx="339.6" cy="72.2" r="13.4" fill="url(#sph1)"/><circle cx="270.5" cy="125.4" r="22.9" fill="url(#sph4)"/><circle cx="310.7" cy="111.8" r="21.5" fill="url(#sph3)"/><circle cx="376.8" cy="91.5" r="17.3" fill="url(#sph2)"/><circle cx="294.1" cy="132.0" r="14.3" fill="url(#sph2)"/><circle cx="271.0" cy="124.6" r="22.8" fill="url(#sph4)"/><circle cx="324.8" cy="127.9" r="12.7" fill="url(#sph1)"/><circle cx="295.5" cy="70.4" r="17.9" fill="url(#sph2)"/><circle cx="306.0" cy="134.4" r="25.8" fill="url(#sph4)"/><circle cx="359.0" cy="90.3" r="15.5" fill="url(#sph2)"/><circle cx="289.6" cy="128.0" r="23.1" fill="url(#sph4)"/><circle cx="376.6" cy="103.1" r="18.0" fill="url(#sph2)"/><circle cx="337.5" cy="129.2" r="16.3" fill="url(#sph2)"/></g>
<g class="sp"><ellipse cx="346.7" cy="76.3" rx="12.7" ry="11.0" transform="rotate(173 346.7 76.3)" fill="url(#sph1)"/><ellipse cx="303.5" cy="103.1" rx="15.6" ry="10.6" transform="rotate(166 303.5 103.1)" fill="url(#sph1)"/><ellipse cx="376.6" cy="101.9" rx="8.6" ry="7.7" transform="rotate(153 376.6 101.9)" fill="url(#sph0)"/><ellipse cx="335.6" cy="113.3" rx="10.9" ry="9.3" transform="rotate(172 335.6 113.3)" fill="url(#sph0)"/><ellipse cx="302.6" cy="122.0" rx="15.5" ry="10.8" transform="rotate(26 302.6 122.0)" fill="url(#sph1)"/><ellipse cx="369.3" cy="110.1" rx="7.3" ry="7.1" transform="rotate(96 369.3 110.1)" fill="url(#sph0)"/><ellipse cx="327.8" cy="94.3" rx="11.3" ry="7.8" transform="rotate(165 327.8 94.3)" fill="url(#sph0)"/><ellipse cx="301.9" cy="79.2" rx="10.9" ry="9.1" transform="rotate(107 301.9 79.2)" fill="url(#sph0)"/><ellipse cx="332.6" cy="85.5" rx="12.7" ry="9.4" transform="rotate(16 332.6 85.5)" fill="url(#sph1)"/><ellipse cx="318.1" cy="82.3" rx="17.1" ry="10.3" transform="rotate(92 318.1 82.3)" fill="url(#sph1)"/><ellipse cx="314.1" cy="50.1" rx="12.3" ry="11.1" transform="rotate(98 314.1 50.1)" fill="url(#sph1)"/><ellipse cx="307.4" cy="74.5" rx="8.9" ry="7.9" transform="rotate(7 307.4 74.5)" fill="url(#sph0)"/><ellipse cx="331.6" cy="123.6" rx="10.9" ry="9.6" transform="rotate(125 331.6 123.6)" fill="url(#sph0)"/><ellipse cx="321.9" cy="128.9" rx="11.3" ry="8.4" transform="rotate(105 321.9 128.9)" fill="url(#sph0)"/><ellipse cx="323.5" cy="116.4" rx="11.6" ry="9.4" transform="rotate(141 323.5 116.4)" fill="url(#sph0)"/><ellipse cx="368.6" cy="103.9" rx="11.8" ry="11.6" transform="rotate(90 368.6 103.9)" fill="url(#sph1)"/><ellipse cx="344.5" cy="75.8" rx="9.5" ry="6.4" transform="rotate(78 344.5 75.8)" fill="url(#sph0)"/><ellipse cx="295.1" cy="131.0" rx="8.1" ry="6.8" transform="rotate(18 295.1 131.0)" fill="url(#sph0)"/><ellipse cx="323.1" cy="61.8" rx="11.0" ry="7.3" transform="rotate(167 323.1 61.8)" fill="url(#sph0)"/><ellipse cx="311.1" cy="129.1" rx="6.8" ry="6.0" transform="rotate(88 311.1 129.1)" fill="url(#sph0)"/><ellipse cx="311.7" cy="118.8" rx="12.7" ry="9.7" transform="rotate(45 311.7 118.8)" fill="url(#sph1)"/><ellipse cx="292.0" cy="68.0" rx="8.5" ry="5.9" transform="rotate(28 292.0 68.0)" fill="url(#sph0)"/><ellipse cx="377.6" cy="107.8" rx="7.9" ry="5.9" transform="rotate(109 377.6 107.8)" fill="url(#sph0)"/><ellipse cx="374.3" cy="125.9" rx="7.2" ry="5.7" transform="rotate(115 374.3 125.9)" fill="url(#sph0)"/><ellipse cx="284.8" cy="124.3" rx="14.5" ry="10.6" transform="rotate(65 284.8 124.3)" fill="url(#sph1)"/><ellipse cx="372.3" cy="93.8" rx="8.1" ry="6.9" transform="rotate(29 372.3 93.8)" fill="url(#sph0)"/><ellipse cx="371.0" cy="93.5" rx="14.3" ry="9.2" transform="rotate(175 371.0 93.5)" fill="url(#sph1)"/><ellipse cx="375.6" cy="120.0" rx="11.0" ry="7.6" transform="rotate(35 375.6 120.0)" fill="url(#sph0)"/><ellipse cx="311.4" cy="64.8" rx="13.5" ry="8.1" transform="rotate(28 311.4 64.8)" fill="url(#sph0)"/><ellipse cx="334.5" cy="130.8" rx="12.1" ry="8.9" transform="rotate(138 334.5 130.8)" fill="url(#sph0)"/><ellipse cx="351.2" cy="124.7" rx="11.5" ry="10.8" transform="rotate(12 351.2 124.7)" fill="url(#sph1)"/><ellipse cx="315.6" cy="105.4" rx="12.2" ry="10.0" transform="rotate(175 315.6 105.4)" fill="url(#sph1)"/><ellipse cx="379.2" cy="124.1" rx="11.5" ry="9.5" transform="rotate(51 379.2 124.1)" fill="url(#sph0)"/><ellipse cx="382.4" cy="71.3" rx="7.1" ry="5.9" transform="rotate(19 382.4 71.3)" fill="url(#sph0)"/><ellipse cx="319.9" cy="74.9" rx="8.7" ry="6.6" transform="rotate(75 319.9 74.9)" fill="url(#sph0)"/><ellipse cx="308.0" cy="125.4" rx="10.0" ry="7.3" transform="rotate(158 308.0 125.4)" fill="url(#sph0)"/><ellipse cx="328.8" cy="62.8" rx="7.6" ry="6.5" transform="rotate(56 328.8 62.8)" fill="url(#sph0)"/><ellipse cx="366.2" cy="93.0" rx="7.5" ry="6.1" transform="rotate(69 366.2 93.0)" fill="url(#sph0)"/><ellipse cx="380.9" cy="101.2" rx="11.5" ry="8.1" transform="rotate(9 380.9 101.2)" fill="url(#sph0)"/><ellipse cx="351.2" cy="124.8" rx="11.8" ry="9.5" transform="rotate(51 351.2 124.8)" fill="url(#sph1)"/><ellipse cx="363.2" cy="62.8" rx="11.6" ry="8.1" transform="rotate(113 363.2 62.8)" fill="url(#sph0)"/><ellipse cx="338.1" cy="71.8" rx="10.0" ry="6.8" transform="rotate(168 338.1 71.8)" fill="url(#sph0)"/><ellipse cx="305.9" cy="81.8" rx="10.2" ry="9.1" transform="rotate(73 305.9 81.8)" fill="url(#sph0)"/><ellipse cx="381.3" cy="98.4" rx="12.4" ry="10.5" transform="rotate(156 381.3 98.4)" fill="url(#sph1)"/><ellipse cx="363.7" cy="63.7" rx="12.3" ry="8.4" transform="rotate(103 363.7 63.7)" fill="url(#sph0)"/><ellipse cx="340.3" cy="65.2" rx="11.0" ry="8.9" transform="rotate(144 340.3 65.2)" fill="url(#sph0)"/><ellipse cx="337.5" cy="63.9" rx="9.0" ry="8.3" transform="rotate(133 337.5 63.9)" fill="url(#sph0)"/><ellipse cx="302.0" cy="121.6" rx="9.1" ry="6.2" transform="rotate(129 302.0 121.6)" fill="url(#sph0)"/><ellipse cx="292.3" cy="53.7" rx="10.9" ry="7.6" transform="rotate(47 292.3 53.7)" fill="url(#sph0)"/><ellipse cx="367.1" cy="56.6" rx="14.6" ry="10.9" transform="rotate(29 367.1 56.6)" fill="url(#sph1)"/><ellipse cx="323.9" cy="58.4" rx="8.1" ry="6.1" transform="rotate(46 323.9 58.4)" fill="url(#sph0)"/><ellipse cx="319.8" cy="87.3" rx="13.1" ry="9.4" transform="rotate(41 319.8 87.3)" fill="url(#sph1)"/><ellipse cx="285.4" cy="130.2" rx="6.7" ry="6.2" transform="rotate(13 285.4 130.2)" fill="url(#sph0)"/><ellipse cx="369.4" cy="96.8" rx="15.2" ry="10.6" transform="rotate(60 369.4 96.8)" fill="url(#sph1)"/><ellipse cx="318.0" cy="116.9" rx="10.4" ry="6.7" transform="rotate(73 318.0 116.9)" fill="url(#sph0)"/><ellipse cx="334.8" cy="55.4" rx="16.7" ry="10.2" transform="rotate(92 334.8 55.4)" fill="url(#sph1)"/><ellipse cx="379.6" cy="112.4" rx="10.0" ry="9.0" transform="rotate(172 379.6 112.4)" fill="url(#sph0)"/><ellipse cx="381.5" cy="87.5" rx="8.6" ry="8.2" transform="rotate(111 381.5 87.5)" fill="url(#sph0)"/><ellipse cx="373.1" cy="80.8" rx="10.1" ry="7.1" transform="rotate(143 373.1 80.8)" fill="url(#sph0)"/><ellipse cx="284.1" cy="69.6" rx="10.1" ry="9.8" transform="rotate(147 284.1 69.6)" fill="url(#sph0)"/><ellipse cx="303.0" cy="127.4" rx="9.5" ry="8.5" transform="rotate(3 303.0 127.4)" fill="url(#sph0)"/><ellipse cx="360.5" cy="123.4" rx="11.3" ry="9.4" transform="rotate(120 360.5 123.4)" fill="url(#sph0)"/><ellipse cx="357.2" cy="78.6" rx="8.0" ry="6.1" transform="rotate(40 357.2 78.6)" fill="url(#sph0)"/><ellipse cx="271.7" cy="134.3" rx="11.1" ry="6.9" transform="rotate(133 271.7 134.3)" fill="url(#sph0)"/><ellipse cx="367.2" cy="95.2" rx="14.0" ry="10.6" transform="rotate(5 367.2 95.2)" fill="url(#sph1)"/><ellipse cx="373.5" cy="127.1" rx="7.9" ry="6.4" transform="rotate(20 373.5 127.1)" fill="url(#sph0)"/><ellipse cx="291.7" cy="77.0" rx="9.1" ry="8.3" transform="rotate(118 291.7 77.0)" fill="url(#sph0)"/><ellipse cx="293.5" cy="133.5" rx="10.8" ry="8.4" transform="rotate(138 293.5 133.5)" fill="url(#sph0)"/><ellipse cx="306.8" cy="67.0" rx="7.7" ry="6.5" transform="rotate(42 306.8 67.0)" fill="url(#sph0)"/><ellipse cx="357.6" cy="77.3" rx="11.7" ry="9.9" transform="rotate(13 357.6 77.3)" fill="url(#sph1)"/></g>
<path d="M285,112 L297,104 L310,95 L330,94 L350,96 L365,100" fill="none" stroke="#707070" stroke-width="8" stroke-linecap="round"/>
</g></g></g>
<g fill="none" stroke-width="3" stroke-linecap="round" stroke-linejoin="round">
<path d="M294,104.5 L300,101 L305,98 L310,95 L313,92.5 L317,89.5 L322,92 L321,96 L316,97.5 L313,95 L313,92.5 M322,92 L327,94 L333,93 L339,91 L344,93 L350,94.5 L353,92.5 L356,95 L357.5,99.5 L355,102 L352,99 L353,92.5" stroke="#159a9a" stroke-width="3.8"/>
<path d="M294,104.5 L300,101 L305,98 L310,95 L313,92.5 L317,89.5 L322,92 L321,96 L316,97.5 L313,95 L313,92.5 M322,92 L327,94 L333,93 L339,91 L344,93 L350,94.5 L353,92.5 L356,95 L357.5,99.5 L355,102 L352,99 L353,92.5" stroke="#3ee0e0" stroke-width="2.4"/>
<path d="M298.5,101.8 L300.5,100.7 M322.3,92.3 L324.3,93 M341.5,91.7 L343.3,92.6" stroke="#2a3ae0" stroke-width="2.6"/>
<path d="M332,93.2 L335,92.6 M357,97.5 L357.5,100" stroke="#e03030"/>
</g>
<rect x="269.5" y="48.5" width="113" height="88" fill="none" stroke="#444" stroke-width="1"/>
<line x1="142.6" y1="75.3" x2="269.5" y2="48.5" stroke="#222" stroke-width="0.8"/>
<line x1="142.6" y1="124.4" x2="269.5" y2="136.5" stroke="#222" stroke-width="0.8"/>
<g fill="none" stroke-width="2" stroke-linecap="round" stroke-linejoin="round">
<path d="M82,113.9 L86.7,111.6 L92.5,106.4 L97.2,101.7 L100.1,99.3 L104.8,95.3 L109.5,98.8 L107.7,104.6 L103,105.2 L100.1,102.3 L100.1,99.3 M109.5,98.8 L119.4,100.5 L125.2,98.2 L132.2,100.5 L138.1,101.7 L140.4,100.5 L143.9,105.2 L144.5,108.7 L142.2,111.6 L140.4,107.5 L140.4,100.5" stroke="#159a9a" stroke-width="3.4"/>
<path d="M82,113.9 L86.7,111.6 L92.5,106.4 L97.2,101.7 L100.1,99.3 L104.8,95.3 L109.5,98.8 L107.7,104.6 L103,105.2 L100.1,102.3 L100.1,99.3 M109.5,98.8 L119.4,100.5 L125.2,98.2 L132.2,100.5 L138.1,101.7 L140.4,100.5 L143.9,105.2 L144.5,108.7 L142.2,111.6 L140.4,107.5 L140.4,100.5" stroke="#3ee0e0" stroke-width="2"/>
<path d="M86.2,111.8 L87.2,111 M109.8,98.9 L110.8,99.1 M131.5,100.3 L132.5,100.7" stroke="#3040e0" stroke-width="1.8"/>
<path d="M119.5,100.6 L122.5,101 M144.3,107.5 L144.2,109.5" stroke="#e03030"/>
</g>
<text x="0" y="106.4" font-size="15.5" font-weight="bold" fill="#1fbfbf">Gilteritinib</text>
<text x="222.2" y="233.6" font-size="16.3" font-weight="bold" letter-spacing="-0.6">ALK</text>
<clipPath id="bclip"><rect x="400" y="32" width="285" height="177"/></clipPath>
<g clip-path="url(#bclip)">
<path d="M424.0,164.3 L425.8,167.0 L436.1,164.2 L434.3,161.5Z" fill="rgb(197,197,197)" stroke="rgb(197,197,197)" stroke-width="0.5"/><path d="M425.8,167.0 L427.6,169.6 L437.9,166.8 L436.1,164.2Z" fill="rgb(196,196,196)" stroke="rgb(196,196,196)" stroke-width="0.5"/><path d="M422.2,161.7 L424.0,164.3 L434.3,161.5 L432.5,158.9Z" fill="rgb(196,196,196)" stroke="rgb(196,196,196)" stroke-width="0.5"/><path d="M427.6,169.6 L429.3,171.6 L439.6,168.8 L437.9,166.8Z" fill="rgb(194,194,194)" stroke="rgb(194,194,194)" stroke-width="0.5"/><path d="M420.5,159.7 L422.2,161.7 L432.5,158.9 L430.8,156.9Z" fill="rgb(194,194,194)" stroke="rgb(194,194,194)" stroke-width="0.5"/><path d="M429.3,171.6 L430.7,172.8 L441.0,170.1 L439.6,168.8Z" fill="rgb(191,191,191)" stroke="rgb(191,191,191)" stroke-width="0.5"/><path d="M419.1,158.4 L420.5,159.7 L430.8,156.9 L429.4,155.7Z" fill="rgb(191,191,191)" stroke="rgb(191,191,191)" stroke-width="0.5"/><path d="M430.7,172.8 L431.9,173.1 L442.2,170.3 L441.0,170.1Z" fill="rgb(188,188,188)" stroke="rgb(188,188,188)" stroke-width="0.5"/><path d="M417.9,158.2 L419.1,158.4 L429.4,155.7 L428.2,155.4Z" fill="rgb(188,188,188)" stroke="rgb(188,188,188)" stroke-width="0.5"/><path d="M436.6,153.2 L437.8,153.4 L448.1,150.7 L447.0,150.4Z" fill="rgb(188,188,188)" stroke="rgb(188,188,188)" stroke-width="0.5"/><path d="M413.2,178.1 L414.1,177.3 L424.4,174.5 L423.5,175.3Z" fill="rgb(223,223,223)" stroke="rgb(223,223,223)" stroke-width="0.5"/><path d="M431.9,173.1 L432.8,172.3 L443.1,169.5 L442.2,170.3Z" fill="rgb(223,223,223)" stroke="rgb(223,223,223)" stroke-width="0.5"/><path d="M417.0,159.0 L417.9,158.2 L428.2,155.4 L427.3,156.2Z" fill="rgb(223,223,223)" stroke="rgb(223,223,223)" stroke-width="0.5"/><path d="M435.7,154.0 L436.6,153.2 L447.0,150.4 L446.1,151.2Z" fill="rgb(223,223,223)" stroke="rgb(223,223,223)" stroke-width="0.5"/><path d="M414.1,177.3 L414.7,175.5 L425.0,172.7 L424.4,174.5Z" fill="rgb(230,230,230)" stroke="rgb(230,230,230)" stroke-width="0.5"/><path d="M432.8,172.3 L433.5,170.5 L443.8,167.7 L443.1,169.5Z" fill="rgb(230,230,230)" stroke="rgb(230,230,230)" stroke-width="0.5"/><path d="M416.4,160.8 L417.0,159.0 L427.3,156.2 L426.7,158.0Z" fill="rgb(230,230,230)" stroke="rgb(230,230,230)" stroke-width="0.5"/><path d="M435.1,155.8 L435.7,154.0 L446.1,151.2 L445.4,153.0Z" fill="rgb(230,230,230)" stroke="rgb(230,230,230)" stroke-width="0.5"/><path d="M414.7,175.5 L415.1,172.9 L425.4,170.1 L425.0,172.7Z" fill="rgb(235,235,235)" stroke="rgb(235,235,235)" stroke-width="0.5"/><path d="M415.9,163.4 L416.4,160.8 L426.7,158.0 L426.2,160.6Z" fill="rgb(235,235,235)" stroke="rgb(235,235,235)" stroke-width="0.5"/><path d="M433.5,170.5 L433.9,167.9 L444.2,165.1 L443.8,167.7Z" fill="rgb(235,235,235)" stroke="rgb(235,235,235)" stroke-width="0.5"/><path d="M434.7,158.4 L435.1,155.8 L445.4,153.0 L445.0,155.6Z" fill="rgb(235,235,235)" stroke="rgb(235,235,235)" stroke-width="0.5"/><path d="M415.1,172.9 L415.4,169.8 L425.7,167.0 L425.4,170.1Z" fill="rgb(238,238,238)" stroke="rgb(238,238,238)" stroke-width="0.5"/><path d="M415.6,166.5 L415.9,163.4 L426.2,160.6 L426.0,163.7Z" fill="rgb(238,238,238)" stroke="rgb(238,238,238)" stroke-width="0.5"/><path d="M433.9,167.9 L434.2,164.8 L444.5,162.0 L444.2,165.1Z" fill="rgb(238,238,238)" stroke="rgb(238,238,238)" stroke-width="0.5"/><path d="M434.4,161.5 L434.7,158.4 L445.0,155.6 L444.7,158.7Z" fill="rgb(238,238,238)" stroke="rgb(238,238,238)" stroke-width="0.5"/><path d="M415.4,169.8 L415.6,166.5 L426.0,163.7 L425.7,167.0Z" fill="rgb(240,240,240)" stroke="rgb(240,240,240)" stroke-width="0.5"/><path d="M434.2,164.8 L434.4,161.5 L444.7,158.7 L444.5,162.0Z" fill="rgb(240,240,240)" stroke="rgb(240,240,240)" stroke-width="0.5"/>
<path d="M483.1,166.9 L480.3,170.2 L486.9,180.1 L489.7,176.8Z" fill="rgb(193,193,193)" stroke="rgb(193,193,193)" stroke-width="0.5"/><path d="M495.1,184.9 L492.3,188.2 L498.9,198.1 L501.7,194.8Z" fill="rgb(193,193,193)" stroke="rgb(193,193,193)" stroke-width="0.5"/><path d="M492.3,188.2 L489.7,191.4 L496.3,201.3 L498.9,198.1Z" fill="rgb(193,193,193)" stroke="rgb(193,193,193)" stroke-width="0.5"/><path d="M480.3,170.2 L477.7,173.4 L484.3,183.3 L486.9,180.1Z" fill="rgb(193,193,193)" stroke="rgb(193,193,193)" stroke-width="0.5"/><path d="M497.7,181.7 L495.1,184.9 L501.7,194.8 L504.3,191.6Z" fill="rgb(193,193,193)" stroke="rgb(193,193,193)" stroke-width="0.5"/><path d="M485.7,163.7 L483.1,166.9 L489.7,176.8 L492.3,173.6Z" fill="rgb(193,193,193)" stroke="rgb(193,193,193)" stroke-width="0.5"/><path d="M489.7,191.4 L487.7,194.1 L494.3,204.0 L496.3,201.3Z" fill="rgb(191,191,191)" stroke="rgb(191,191,191)" stroke-width="0.5"/><path d="M499.7,179.0 L497.7,181.7 L504.3,191.6 L506.3,188.9Z" fill="rgb(191,191,191)" stroke="rgb(191,191,191)" stroke-width="0.5"/><path d="M477.7,173.4 L475.7,176.1 L482.3,186.0 L484.3,183.3Z" fill="rgb(191,191,191)" stroke="rgb(191,191,191)" stroke-width="0.5"/><path d="M487.7,161.0 L485.7,163.7 L492.3,173.6 L494.3,170.9Z" fill="rgb(191,191,191)" stroke="rgb(191,191,191)" stroke-width="0.5"/><path d="M487.7,194.1 L486.7,196.3 L493.3,206.2 L494.3,204.0Z" fill="rgb(188,188,188)" stroke="rgb(188,188,188)" stroke-width="0.5"/><path d="M475.7,176.1 L474.7,178.3 L481.3,188.2 L482.3,186.0Z" fill="rgb(188,188,188)" stroke="rgb(188,188,188)" stroke-width="0.5"/><path d="M488.7,158.8 L487.7,161.0 L494.3,170.9 L495.3,168.7Z" fill="rgb(188,188,188)" stroke="rgb(188,188,188)" stroke-width="0.5"/><path d="M500.7,176.8 L499.7,179.0 L506.3,188.9 L507.3,186.7Z" fill="rgb(188,188,188)" stroke="rgb(188,188,188)" stroke-width="0.5"/><path d="M474.7,178.3 L474.7,179.7 L481.3,189.6 L481.3,188.2Z" fill="rgb(184,184,184)" stroke="rgb(184,184,184)" stroke-width="0.5"/><path d="M486.7,196.3 L486.7,197.7 L493.3,207.6 L493.3,206.2Z" fill="rgb(184,184,184)" stroke="rgb(184,184,184)" stroke-width="0.5"/><path d="M488.7,157.4 L488.7,158.8 L495.3,168.7 L495.3,167.3Z" fill="rgb(184,184,184)" stroke="rgb(184,184,184)" stroke-width="0.5"/><path d="M500.7,175.4 L500.7,176.8 L507.3,186.7 L507.3,185.3Z" fill="rgb(184,184,184)" stroke="rgb(184,184,184)" stroke-width="0.5"/><path d="M462.7,161.7 L464.0,162.3 L470.6,172.2 L469.3,171.6Z" fill="rgb(220,220,220)" stroke="rgb(220,220,220)" stroke-width="0.5"/><path d="M474.7,179.7 L476.0,180.3 L482.6,190.2 L481.3,189.6Z" fill="rgb(220,220,220)" stroke="rgb(220,220,220)" stroke-width="0.5"/><path d="M487.4,156.8 L488.7,157.4 L495.3,167.3 L494.0,166.7Z" fill="rgb(220,220,220)" stroke="rgb(220,220,220)" stroke-width="0.5"/><path d="M499.4,174.8 L500.7,175.4 L507.3,185.3 L506.0,184.7Z" fill="rgb(220,220,220)" stroke="rgb(220,220,220)" stroke-width="0.5"/><path d="M464.0,162.3 L466.4,162.1 L473.0,172.0 L470.6,172.2Z" fill="rgb(227,227,227)" stroke="rgb(227,227,227)" stroke-width="0.5"/><path d="M476.0,180.3 L478.4,180.1 L485.0,190.0 L482.6,190.2Z" fill="rgb(227,227,227)" stroke="rgb(227,227,227)" stroke-width="0.5"/><path d="M485.0,157.0 L487.4,156.8 L494.0,166.7 L491.6,166.9Z" fill="rgb(227,227,227)" stroke="rgb(227,227,227)" stroke-width="0.5"/><path d="M497.0,175.0 L499.4,174.8 L506.0,184.7 L503.6,184.9Z" fill="rgb(227,227,227)" stroke="rgb(227,227,227)" stroke-width="0.5"/><path d="M466.4,162.1 L469.7,161.4 L476.3,171.3 L473.0,172.0Z" fill="rgb(233,233,233)" stroke="rgb(233,233,233)" stroke-width="0.5"/><path d="M481.7,157.7 L485.0,157.0 L491.6,166.9 L488.3,167.6Z" fill="rgb(233,233,233)" stroke="rgb(233,233,233)" stroke-width="0.5"/><path d="M478.4,180.1 L481.7,179.4 L488.3,189.3 L485.0,190.0Z" fill="rgb(233,233,233)" stroke="rgb(233,233,233)" stroke-width="0.5"/><path d="M493.7,175.7 L497.0,175.0 L503.6,184.9 L500.3,185.6Z" fill="rgb(233,233,233)" stroke="rgb(233,233,233)" stroke-width="0.5"/><path d="M469.7,161.4 L473.6,160.2 L480.2,170.1 L476.3,171.3Z" fill="rgb(236,236,236)" stroke="rgb(236,236,236)" stroke-width="0.5"/><path d="M477.8,158.9 L481.7,157.7 L488.3,167.6 L484.4,168.8Z" fill="rgb(236,236,236)" stroke="rgb(236,236,236)" stroke-width="0.5"/><path d="M481.7,179.4 L485.6,178.2 L492.2,188.1 L488.3,189.3Z" fill="rgb(236,236,236)" stroke="rgb(236,236,236)" stroke-width="0.5"/><path d="M489.8,176.9 L493.7,175.7 L500.3,185.6 L496.4,186.8Z" fill="rgb(236,236,236)" stroke="rgb(236,236,236)" stroke-width="0.5"/><path d="M473.6,160.2 L477.8,158.9 L484.4,168.8 L480.2,170.1Z" fill="rgb(238,238,238)" stroke="rgb(238,238,238)" stroke-width="0.5"/><path d="M485.6,178.2 L489.8,176.9 L496.4,186.8 L492.2,188.1Z" fill="rgb(238,238,238)" stroke="rgb(238,238,238)" stroke-width="0.5"/>
<path d="M507.9,122.8 L505.4,126.3 L513.1,136.2 L515.6,132.7Z" fill="rgb(198,198,198)" stroke="rgb(198,198,198)" stroke-width="0.5"/><path d="M521.9,140.8 L519.4,144.3 L527.1,154.2 L529.6,150.7Z" fill="rgb(198,198,198)" stroke="rgb(198,198,198)" stroke-width="0.5"/><path d="M519.4,144.3 L517.1,147.7 L524.8,157.6 L527.1,154.2Z" fill="rgb(197,197,197)" stroke="rgb(197,197,197)" stroke-width="0.5"/><path d="M505.4,126.3 L503.1,129.7 L510.8,139.6 L513.1,136.2Z" fill="rgb(197,197,197)" stroke="rgb(197,197,197)" stroke-width="0.5"/><path d="M524.2,137.4 L521.9,140.8 L529.6,150.7 L531.9,147.3Z" fill="rgb(197,197,197)" stroke="rgb(197,197,197)" stroke-width="0.5"/><path d="M510.2,119.4 L507.9,122.8 L515.6,132.7 L517.9,129.3Z" fill="rgb(197,197,197)" stroke="rgb(197,197,197)" stroke-width="0.5"/><path d="M517.1,147.7 L515.3,150.7 L523.0,160.6 L524.8,157.6Z" fill="rgb(196,196,196)" stroke="rgb(196,196,196)" stroke-width="0.5"/><path d="M526.0,134.4 L524.2,137.4 L531.9,147.3 L533.7,144.3Z" fill="rgb(196,196,196)" stroke="rgb(196,196,196)" stroke-width="0.5"/><path d="M503.1,129.7 L501.3,132.7 L509.0,142.6 L510.8,139.6Z" fill="rgb(196,196,196)" stroke="rgb(196,196,196)" stroke-width="0.5"/><path d="M512.0,116.4 L510.2,119.4 L517.9,129.3 L519.7,126.3Z" fill="rgb(196,196,196)" stroke="rgb(196,196,196)" stroke-width="0.5"/><path d="M515.3,150.7 L514.5,153.0 L522.2,162.9 L523.0,160.6Z" fill="rgb(193,193,193)" stroke="rgb(193,193,193)" stroke-width="0.5"/><path d="M501.3,132.7 L500.5,135.0 L508.2,144.9 L509.0,142.6Z" fill="rgb(193,193,193)" stroke="rgb(193,193,193)" stroke-width="0.5"/><path d="M512.8,114.1 L512.0,116.4 L519.7,126.3 L520.5,124.0Z" fill="rgb(193,193,193)" stroke="rgb(193,193,193)" stroke-width="0.5"/><path d="M526.8,132.1 L526.0,134.4 L533.7,144.3 L534.5,142.0Z" fill="rgb(193,193,193)" stroke="rgb(193,193,193)" stroke-width="0.5"/><path d="M500.5,135.0 L500.7,136.4 L508.4,146.3 L508.2,144.9Z" fill="rgb(189,189,189)" stroke="rgb(189,189,189)" stroke-width="0.5"/><path d="M514.5,153.0 L514.7,154.4 L522.4,164.3 L522.2,162.9Z" fill="rgb(189,189,189)" stroke="rgb(189,189,189)" stroke-width="0.5"/><path d="M512.6,112.7 L512.8,114.1 L520.5,124.0 L520.3,122.6Z" fill="rgb(189,189,189)" stroke="rgb(189,189,189)" stroke-width="0.5"/><path d="M526.6,130.7 L526.8,132.1 L534.5,142.0 L534.3,140.6Z" fill="rgb(189,189,189)" stroke="rgb(189,189,189)" stroke-width="0.5"/><path d="M486.7,118.4 L488.0,119.0 L495.7,128.9 L494.4,128.3Z" fill="rgb(224,224,224)" stroke="rgb(224,224,224)" stroke-width="0.5"/><path d="M500.7,136.4 L502.0,137.0 L509.7,146.9 L508.4,146.3Z" fill="rgb(224,224,224)" stroke="rgb(224,224,224)" stroke-width="0.5"/><path d="M511.3,112.1 L512.6,112.7 L520.3,122.6 L519.0,122.0Z" fill="rgb(224,224,224)" stroke="rgb(224,224,224)" stroke-width="0.5"/><path d="M525.3,130.1 L526.6,130.7 L534.3,140.6 L533.0,140.0Z" fill="rgb(224,224,224)" stroke="rgb(224,224,224)" stroke-width="0.5"/><path d="M488.0,119.0 L490.4,118.7 L498.1,128.6 L495.7,128.9Z" fill="rgb(230,230,230)" stroke="rgb(230,230,230)" stroke-width="0.5"/><path d="M502.0,137.0 L504.4,136.7 L512.1,146.6 L509.7,146.9Z" fill="rgb(230,230,230)" stroke="rgb(230,230,230)" stroke-width="0.5"/><path d="M508.9,112.4 L511.3,112.1 L519.0,122.0 L516.6,122.3Z" fill="rgb(230,230,230)" stroke="rgb(230,230,230)" stroke-width="0.5"/><path d="M522.9,130.4 L525.3,130.1 L533.0,140.0 L530.6,140.3Z" fill="rgb(230,230,230)" stroke="rgb(230,230,230)" stroke-width="0.5"/><path d="M490.4,118.7 L493.7,117.7 L501.4,127.6 L498.1,128.6Z" fill="rgb(235,235,235)" stroke="rgb(235,235,235)" stroke-width="0.5"/><path d="M505.6,113.4 L508.9,112.4 L516.6,122.3 L513.3,123.3Z" fill="rgb(235,235,235)" stroke="rgb(235,235,235)" stroke-width="0.5"/><path d="M504.4,136.7 L507.7,135.7 L515.4,145.6 L512.1,146.6Z" fill="rgb(235,235,235)" stroke="rgb(235,235,235)" stroke-width="0.5"/><path d="M519.6,131.4 L522.9,130.4 L530.6,140.3 L527.3,141.3Z" fill="rgb(235,235,235)" stroke="rgb(235,235,235)" stroke-width="0.5"/><path d="M493.7,117.7 L497.6,116.3 L505.3,126.2 L501.4,127.6Z" fill="rgb(238,238,238)" stroke="rgb(238,238,238)" stroke-width="0.5"/><path d="M501.7,114.8 L505.6,113.4 L513.3,123.3 L509.4,124.7Z" fill="rgb(238,238,238)" stroke="rgb(238,238,238)" stroke-width="0.5"/><path d="M507.7,135.7 L511.6,134.3 L519.3,144.2 L515.4,145.6Z" fill="rgb(238,238,238)" stroke="rgb(238,238,238)" stroke-width="0.5"/><path d="M515.7,132.8 L519.6,131.4 L527.3,141.3 L523.4,142.7Z" fill="rgb(238,238,238)" stroke="rgb(238,238,238)" stroke-width="0.5"/><path d="M497.6,116.3 L501.7,114.8 L509.4,124.7 L505.3,126.2Z" fill="rgb(240,240,240)" stroke="rgb(240,240,240)" stroke-width="0.5"/><path d="M511.6,134.3 L515.7,132.8 L523.4,142.7 L519.3,144.2Z" fill="rgb(240,240,240)" stroke="rgb(240,240,240)" stroke-width="0.5"/>
<path d="M507.0,178.7 L505.0,183.0 L514.2,190.9 L516.2,186.6Z" fill="rgb(192,192,192)" stroke="rgb(192,192,192)" stroke-width="0.5"/><path d="M523.8,193.1 L521.8,197.4 L531.0,205.3 L533.0,201.0Z" fill="rgb(192,192,192)" stroke="rgb(192,192,192)" stroke-width="0.5"/><path d="M521.8,197.4 L519.9,201.4 L529.2,209.3 L531.0,205.3Z" fill="rgb(191,191,191)" stroke="rgb(191,191,191)" stroke-width="0.5"/><path d="M505.0,183.0 L503.1,187.0 L512.4,194.9 L514.2,190.9Z" fill="rgb(191,191,191)" stroke="rgb(191,191,191)" stroke-width="0.5"/><path d="M525.6,189.1 L523.8,193.1 L533.0,201.0 L534.9,197.0Z" fill="rgb(191,191,191)" stroke="rgb(191,191,191)" stroke-width="0.5"/><path d="M508.8,174.7 L507.0,178.7 L516.2,186.6 L518.1,182.6Z" fill="rgb(191,191,191)" stroke="rgb(191,191,191)" stroke-width="0.5"/><path d="M519.9,201.4 L518.6,204.8 L527.9,212.7 L529.2,209.3Z" fill="rgb(189,189,189)" stroke="rgb(189,189,189)" stroke-width="0.5"/><path d="M526.9,185.7 L525.6,189.1 L534.9,197.0 L536.2,193.6Z" fill="rgb(189,189,189)" stroke="rgb(189,189,189)" stroke-width="0.5"/><path d="M503.1,187.0 L501.8,190.4 L511.1,198.3 L512.4,194.9Z" fill="rgb(189,189,189)" stroke="rgb(189,189,189)" stroke-width="0.5"/><path d="M510.1,171.3 L508.8,174.7 L518.1,182.6 L519.4,179.2Z" fill="rgb(189,189,189)" stroke="rgb(189,189,189)" stroke-width="0.5"/><path d="M518.6,204.8 L518.1,207.3 L527.3,215.2 L527.9,212.7Z" fill="rgb(186,186,186)" stroke="rgb(186,186,186)" stroke-width="0.5"/><path d="M501.8,190.4 L501.3,192.9 L510.5,200.8 L511.1,198.3Z" fill="rgb(186,186,186)" stroke="rgb(186,186,186)" stroke-width="0.5"/><path d="M510.7,168.8 L510.1,171.3 L519.4,179.2 L519.9,176.7Z" fill="rgb(186,186,186)" stroke="rgb(186,186,186)" stroke-width="0.5"/><path d="M527.5,183.2 L526.9,185.7 L536.2,193.6 L536.7,191.1Z" fill="rgb(186,186,186)" stroke="rgb(186,186,186)" stroke-width="0.5"/><path d="M501.3,192.9 L501.7,194.3 L511.0,202.2 L510.5,200.8Z" fill="rgb(182,182,182)" stroke="rgb(182,182,182)" stroke-width="0.5"/><path d="M518.1,207.3 L518.5,208.7 L527.8,216.6 L527.3,215.2Z" fill="rgb(182,182,182)" stroke="rgb(182,182,182)" stroke-width="0.5"/><path d="M510.2,167.4 L510.7,168.8 L519.9,176.7 L519.5,175.3Z" fill="rgb(182,182,182)" stroke="rgb(182,182,182)" stroke-width="0.5"/><path d="M527.0,181.8 L527.5,183.2 L536.7,191.1 L536.3,189.7Z" fill="rgb(182,182,182)" stroke="rgb(182,182,182)" stroke-width="0.5"/><path d="M518.5,208.7 L520.0,208.9 L529.2,216.8 L527.8,216.6Z" fill="rgb(218,218,218)" stroke="rgb(218,218,218)" stroke-width="0.5"/><path d="M484.9,179.9 L486.4,180.1 L495.6,188.0 L494.2,187.8Z" fill="rgb(218,218,218)" stroke="rgb(218,218,218)" stroke-width="0.5"/><path d="M501.7,194.3 L503.2,194.5 L512.4,202.4 L511.0,202.2Z" fill="rgb(218,218,218)" stroke="rgb(218,218,218)" stroke-width="0.5"/><path d="M508.8,167.2 L510.2,167.4 L519.5,175.3 L518.0,175.1Z" fill="rgb(218,218,218)" stroke="rgb(218,218,218)" stroke-width="0.5"/><path d="M525.6,181.6 L527.0,181.8 L536.3,189.7 L534.8,189.5Z" fill="rgb(218,218,218)" stroke="rgb(218,218,218)" stroke-width="0.5"/><path d="M542.4,196.0 L543.8,196.2 L553.1,204.1 L551.6,203.9Z" fill="rgb(218,218,218)" stroke="rgb(218,218,218)" stroke-width="0.5"/><path d="M520.0,208.9 L522.4,208.0 L531.6,215.9 L529.2,216.8Z" fill="rgb(225,225,225)" stroke="rgb(225,225,225)" stroke-width="0.5"/><path d="M486.4,180.1 L488.8,179.2 L498.0,187.1 L495.6,188.0Z" fill="rgb(225,225,225)" stroke="rgb(225,225,225)" stroke-width="0.5"/><path d="M503.2,194.5 L505.6,193.6 L514.8,201.5 L512.4,202.4Z" fill="rgb(225,225,225)" stroke="rgb(225,225,225)" stroke-width="0.5"/><path d="M506.4,168.1 L508.8,167.2 L518.0,175.1 L515.6,176.0Z" fill="rgb(225,225,225)" stroke="rgb(225,225,225)" stroke-width="0.5"/><path d="M523.2,182.5 L525.6,181.6 L534.8,189.5 L532.4,190.4Z" fill="rgb(225,225,225)" stroke="rgb(225,225,225)" stroke-width="0.5"/><path d="M540.0,196.9 L542.4,196.0 L551.6,203.9 L549.2,204.8Z" fill="rgb(225,225,225)" stroke="rgb(225,225,225)" stroke-width="0.5"/><path d="M522.4,208.0 L525.5,206.2 L534.8,214.1 L531.6,215.9Z" fill="rgb(231,231,231)" stroke="rgb(231,231,231)" stroke-width="0.5"/><path d="M488.8,179.2 L491.9,177.4 L501.2,185.3 L498.0,187.1Z" fill="rgb(231,231,231)" stroke="rgb(231,231,231)" stroke-width="0.5"/><path d="M503.2,169.9 L506.4,168.1 L515.6,176.0 L512.5,177.8Z" fill="rgb(231,231,231)" stroke="rgb(231,231,231)" stroke-width="0.5"/><path d="M505.6,193.6 L508.7,191.8 L518.0,199.7 L514.8,201.5Z" fill="rgb(231,231,231)" stroke="rgb(231,231,231)" stroke-width="0.5"/><path d="M536.8,198.7 L540.0,196.9 L549.2,204.8 L546.1,206.6Z" fill="rgb(231,231,231)" stroke="rgb(231,231,231)" stroke-width="0.5"/><path d="M520.0,184.3 L523.2,182.5 L532.4,190.4 L529.3,192.2Z" fill="rgb(231,231,231)" stroke="rgb(231,231,231)" stroke-width="0.5"/><path d="M525.5,206.2 L529.2,203.8 L538.5,211.7 L534.8,214.1Z" fill="rgb(234,234,234)" stroke="rgb(234,234,234)" stroke-width="0.5"/><path d="M491.9,177.4 L495.6,175.0 L504.9,182.9 L501.2,185.3Z" fill="rgb(234,234,234)" stroke="rgb(234,234,234)" stroke-width="0.5"/><path d="M533.1,201.1 L536.8,198.7 L546.1,206.6 L542.4,209.0Z" fill="rgb(234,234,234)" stroke="rgb(234,234,234)" stroke-width="0.5"/><path d="M499.5,172.3 L503.2,169.9 L512.5,177.8 L508.8,180.2Z" fill="rgb(234,234,234)" stroke="rgb(234,234,234)" stroke-width="0.5"/><path d="M508.7,191.8 L512.4,189.4 L521.7,197.3 L518.0,199.7Z" fill="rgb(234,234,234)" stroke="rgb(234,234,234)" stroke-width="0.5"/><path d="M516.3,186.7 L520.0,184.3 L529.3,192.2 L525.6,194.6Z" fill="rgb(234,234,234)" stroke="rgb(234,234,234)" stroke-width="0.5"/><path d="M495.6,175.0 L499.5,172.3 L508.8,180.2 L504.9,182.9Z" fill="rgb(236,236,236)" stroke="rgb(236,236,236)" stroke-width="0.5"/><path d="M512.4,189.4 L516.3,186.7 L525.6,194.6 L521.7,197.3Z" fill="rgb(236,236,236)" stroke="rgb(236,236,236)" stroke-width="0.5"/><path d="M529.2,203.8 L533.1,201.1 L542.4,209.0 L538.5,211.7Z" fill="rgb(236,236,236)" stroke="rgb(236,236,236)" stroke-width="0.5"/>
<path d="M549.7,160.6 L548.3,164.7 L558.8,172.4 L560.2,168.3Z" fill="rgb(193,193,193)" stroke="rgb(193,193,193)" stroke-width="0.5"/><path d="M568.7,174.6 L567.3,178.7 L577.8,186.4 L579.2,182.3Z" fill="rgb(193,193,193)" stroke="rgb(193,193,193)" stroke-width="0.5"/><path d="M567.3,178.7 L566.0,182.6 L576.5,190.3 L577.8,186.4Z" fill="rgb(193,193,193)" stroke="rgb(193,193,193)" stroke-width="0.5"/><path d="M548.3,164.7 L547.0,168.6 L557.5,176.3 L558.8,172.4Z" fill="rgb(193,193,193)" stroke="rgb(193,193,193)" stroke-width="0.5"/><path d="M570.0,170.7 L568.7,174.6 L579.2,182.3 L580.5,178.4Z" fill="rgb(193,193,193)" stroke="rgb(193,193,193)" stroke-width="0.5"/><path d="M551.0,156.7 L549.7,160.6 L560.2,168.3 L561.5,164.4Z" fill="rgb(193,193,193)" stroke="rgb(193,193,193)" stroke-width="0.5"/><path d="M566.0,182.6 L565.2,186.0 L575.7,193.7 L576.5,190.3Z" fill="rgb(191,191,191)" stroke="rgb(191,191,191)" stroke-width="0.5"/><path d="M570.8,167.3 L570.0,170.7 L580.5,178.4 L581.3,175.0Z" fill="rgb(191,191,191)" stroke="rgb(191,191,191)" stroke-width="0.5"/><path d="M547.0,168.6 L546.2,172.0 L556.7,179.7 L557.5,176.3Z" fill="rgb(191,191,191)" stroke="rgb(191,191,191)" stroke-width="0.5"/><path d="M551.8,153.3 L551.0,156.7 L561.5,164.4 L562.3,161.0Z" fill="rgb(191,191,191)" stroke="rgb(191,191,191)" stroke-width="0.5"/><path d="M565.2,186.0 L565.0,188.5 L575.5,196.2 L575.7,193.7Z" fill="rgb(188,188,188)" stroke="rgb(188,188,188)" stroke-width="0.5"/><path d="M546.2,172.0 L546.0,174.5 L556.5,182.2 L556.7,179.7Z" fill="rgb(188,188,188)" stroke="rgb(188,188,188)" stroke-width="0.5"/><path d="M552.0,150.8 L551.8,153.3 L562.3,161.0 L562.5,158.5Z" fill="rgb(188,188,188)" stroke="rgb(188,188,188)" stroke-width="0.5"/><path d="M571.0,164.8 L570.8,167.3 L581.3,175.0 L581.5,172.5Z" fill="rgb(188,188,188)" stroke="rgb(188,188,188)" stroke-width="0.5"/><path d="M546.0,174.5 L546.7,175.8 L557.1,183.5 L556.5,182.2Z" fill="rgb(184,184,184)" stroke="rgb(184,184,184)" stroke-width="0.5"/><path d="M565.0,188.5 L565.7,189.8 L576.1,197.5 L575.5,196.2Z" fill="rgb(184,184,184)" stroke="rgb(184,184,184)" stroke-width="0.5"/><path d="M551.4,149.5 L552.0,150.8 L562.5,158.5 L561.8,157.2Z" fill="rgb(184,184,184)" stroke="rgb(184,184,184)" stroke-width="0.5"/><path d="M570.4,163.5 L571.0,164.8 L581.5,172.5 L580.8,171.2Z" fill="rgb(184,184,184)" stroke="rgb(184,184,184)" stroke-width="0.5"/><path d="M527.7,161.8 L529.1,162.0 L539.6,169.7 L538.1,169.5Z" fill="rgb(220,220,220)" stroke="rgb(220,220,220)" stroke-width="0.5"/><path d="M546.7,175.8 L548.1,176.0 L558.6,183.7 L557.1,183.5Z" fill="rgb(220,220,220)" stroke="rgb(220,220,220)" stroke-width="0.5"/><path d="M549.9,149.3 L551.4,149.5 L561.8,157.2 L560.4,157.0Z" fill="rgb(220,220,220)" stroke="rgb(220,220,220)" stroke-width="0.5"/><path d="M568.9,163.3 L570.4,163.5 L580.8,171.2 L579.4,171.0Z" fill="rgb(220,220,220)" stroke="rgb(220,220,220)" stroke-width="0.5"/><path d="M529.1,162.0 L531.4,161.1 L541.9,168.8 L539.6,169.7Z" fill="rgb(227,227,227)" stroke="rgb(227,227,227)" stroke-width="0.5"/><path d="M548.1,176.0 L550.4,175.1 L560.9,182.8 L558.6,183.7Z" fill="rgb(227,227,227)" stroke="rgb(227,227,227)" stroke-width="0.5"/><path d="M547.6,150.2 L549.9,149.3 L560.4,157.0 L558.1,157.9Z" fill="rgb(227,227,227)" stroke="rgb(227,227,227)" stroke-width="0.5"/><path d="M566.6,164.2 L568.9,163.3 L579.4,171.0 L577.1,171.9Z" fill="rgb(227,227,227)" stroke="rgb(227,227,227)" stroke-width="0.5"/><path d="M531.4,161.1 L534.4,159.3 L544.8,167.0 L541.9,168.8Z" fill="rgb(233,233,233)" stroke="rgb(233,233,233)" stroke-width="0.5"/><path d="M544.7,152.0 L547.6,150.2 L558.1,157.9 L555.1,159.7Z" fill="rgb(233,233,233)" stroke="rgb(233,233,233)" stroke-width="0.5"/><path d="M550.4,175.1 L553.4,173.3 L563.8,181.0 L560.9,182.8Z" fill="rgb(233,233,233)" stroke="rgb(233,233,233)" stroke-width="0.5"/><path d="M563.7,166.0 L566.6,164.2 L577.1,171.9 L574.1,173.7Z" fill="rgb(233,233,233)" stroke="rgb(233,233,233)" stroke-width="0.5"/><path d="M534.4,159.3 L537.8,156.9 L548.2,164.6 L544.8,167.0Z" fill="rgb(236,236,236)" stroke="rgb(236,236,236)" stroke-width="0.5"/><path d="M541.3,154.4 L544.7,152.0 L555.1,159.7 L551.7,162.1Z" fill="rgb(236,236,236)" stroke="rgb(236,236,236)" stroke-width="0.5"/><path d="M553.4,173.3 L556.8,170.9 L567.2,178.6 L563.8,181.0Z" fill="rgb(236,236,236)" stroke="rgb(236,236,236)" stroke-width="0.5"/><path d="M560.3,168.4 L563.7,166.0 L574.1,173.7 L570.7,176.1Z" fill="rgb(236,236,236)" stroke="rgb(236,236,236)" stroke-width="0.5"/><path d="M537.8,156.9 L541.3,154.4 L551.7,162.1 L548.2,164.6Z" fill="rgb(238,238,238)" stroke="rgb(238,238,238)" stroke-width="0.5"/><path d="M556.8,170.9 L560.3,168.4 L570.7,176.1 L567.2,178.6Z" fill="rgb(238,238,238)" stroke="rgb(238,238,238)" stroke-width="0.5"/>
<path d="M584.6,180.0 L581.9,183.0 L587.9,194.0 L590.6,191.0Z" fill="rgb(195,195,195)" stroke="rgb(195,195,195)" stroke-width="0.5"/><path d="M595.6,200.0 L592.9,203.0 L598.9,214.0 L601.6,211.0Z" fill="rgb(195,195,195)" stroke="rgb(195,195,195)" stroke-width="0.5"/><path d="M592.9,203.0 L590.3,205.8 L596.4,216.8 L598.9,214.0Z" fill="rgb(194,194,194)" stroke="rgb(194,194,194)" stroke-width="0.5"/><path d="M581.9,183.0 L579.3,185.8 L585.4,196.8 L587.9,194.0Z" fill="rgb(194,194,194)" stroke="rgb(194,194,194)" stroke-width="0.5"/><path d="M598.1,197.2 L595.6,200.0 L601.6,211.0 L604.2,208.2Z" fill="rgb(194,194,194)" stroke="rgb(194,194,194)" stroke-width="0.5"/><path d="M587.1,177.2 L584.6,180.0 L590.6,191.0 L593.2,188.2Z" fill="rgb(194,194,194)" stroke="rgb(194,194,194)" stroke-width="0.5"/><path d="M590.3,205.8 L588.4,208.3 L594.4,219.3 L596.4,216.8Z" fill="rgb(192,192,192)" stroke="rgb(192,192,192)" stroke-width="0.5"/><path d="M600.1,194.7 L598.1,197.2 L604.2,208.2 L606.1,205.7Z" fill="rgb(192,192,192)" stroke="rgb(192,192,192)" stroke-width="0.5"/><path d="M579.3,185.8 L577.4,188.3 L583.4,199.3 L585.4,196.8Z" fill="rgb(192,192,192)" stroke="rgb(192,192,192)" stroke-width="0.5"/><path d="M589.1,174.7 L587.1,177.2 L593.2,188.2 L595.1,185.7Z" fill="rgb(192,192,192)" stroke="rgb(192,192,192)" stroke-width="0.5"/><path d="M588.4,208.3 L587.3,210.4 L593.4,221.4 L594.4,219.3Z" fill="rgb(189,189,189)" stroke="rgb(189,189,189)" stroke-width="0.5"/><path d="M577.4,188.3 L576.3,190.4 L582.4,201.4 L583.4,199.3Z" fill="rgb(189,189,189)" stroke="rgb(189,189,189)" stroke-width="0.5"/><path d="M590.1,172.6 L589.1,174.7 L595.1,185.7 L596.2,183.6Z" fill="rgb(189,189,189)" stroke="rgb(189,189,189)" stroke-width="0.5"/><path d="M601.1,192.6 L600.1,194.7 L606.1,205.7 L607.2,203.6Z" fill="rgb(189,189,189)" stroke="rgb(189,189,189)" stroke-width="0.5"/><path d="M576.3,190.4 L576.3,191.8 L582.4,202.8 L582.4,201.4Z" fill="rgb(186,186,186)" stroke="rgb(186,186,186)" stroke-width="0.5"/><path d="M587.3,210.4 L587.3,211.8 L593.4,222.8 L593.4,221.4Z" fill="rgb(186,186,186)" stroke="rgb(186,186,186)" stroke-width="0.5"/><path d="M590.1,171.2 L590.1,172.6 L596.2,183.6 L596.2,182.2Z" fill="rgb(186,186,186)" stroke="rgb(186,186,186)" stroke-width="0.5"/><path d="M601.1,191.2 L601.1,192.6 L607.2,203.6 L607.2,202.2Z" fill="rgb(186,186,186)" stroke="rgb(186,186,186)" stroke-width="0.5"/><path d="M565.3,171.8 L566.5,172.6 L572.6,183.6 L571.4,182.8Z" fill="rgb(221,221,221)" stroke="rgb(221,221,221)" stroke-width="0.5"/><path d="M576.3,191.8 L577.5,192.6 L583.6,203.6 L582.4,202.8Z" fill="rgb(221,221,221)" stroke="rgb(221,221,221)" stroke-width="0.5"/><path d="M588.9,170.4 L590.1,171.2 L596.2,182.2 L595.0,181.4Z" fill="rgb(221,221,221)" stroke="rgb(221,221,221)" stroke-width="0.5"/><path d="M599.9,190.4 L601.1,191.2 L607.2,202.2 L606.0,201.4Z" fill="rgb(221,221,221)" stroke="rgb(221,221,221)" stroke-width="0.5"/><path d="M566.5,172.6 L568.8,172.8 L574.9,183.8 L572.6,183.6Z" fill="rgb(228,228,228)" stroke="rgb(228,228,228)" stroke-width="0.5"/><path d="M577.5,192.6 L579.8,192.8 L585.9,203.8 L583.6,203.6Z" fill="rgb(228,228,228)" stroke="rgb(228,228,228)" stroke-width="0.5"/><path d="M586.6,170.2 L588.9,170.4 L595.0,181.4 L592.7,181.2Z" fill="rgb(228,228,228)" stroke="rgb(228,228,228)" stroke-width="0.5"/><path d="M597.6,190.2 L599.9,190.4 L606.0,201.4 L603.7,201.2Z" fill="rgb(228,228,228)" stroke="rgb(228,228,228)" stroke-width="0.5"/><path d="M568.8,172.8 L572.0,172.5 L578.0,183.5 L574.9,183.8Z" fill="rgb(233,233,233)" stroke="rgb(233,233,233)" stroke-width="0.5"/><path d="M583.5,170.5 L586.6,170.2 L592.7,181.2 L589.5,181.5Z" fill="rgb(233,233,233)" stroke="rgb(233,233,233)" stroke-width="0.5"/><path d="M579.8,192.8 L583.0,192.5 L589.0,203.5 L585.9,203.8Z" fill="rgb(233,233,233)" stroke="rgb(233,233,233)" stroke-width="0.5"/><path d="M594.5,190.5 L597.6,190.2 L603.7,201.2 L600.5,201.5Z" fill="rgb(233,233,233)" stroke="rgb(233,233,233)" stroke-width="0.5"/><path d="M572.0,172.5 L575.7,171.9 L581.8,182.9 L578.0,183.5Z" fill="rgb(236,236,236)" stroke="rgb(236,236,236)" stroke-width="0.5"/><path d="M579.7,171.1 L583.5,170.5 L589.5,181.5 L585.8,182.1Z" fill="rgb(236,236,236)" stroke="rgb(236,236,236)" stroke-width="0.5"/><path d="M583.0,192.5 L586.7,191.9 L592.8,202.9 L589.0,203.5Z" fill="rgb(236,236,236)" stroke="rgb(236,236,236)" stroke-width="0.5"/><path d="M590.7,191.1 L594.5,190.5 L600.5,201.5 L596.8,202.1Z" fill="rgb(236,236,236)" stroke="rgb(236,236,236)" stroke-width="0.5"/><path d="M575.7,171.9 L579.7,171.1 L585.8,182.1 L581.8,182.9Z" fill="rgb(238,238,238)" stroke="rgb(238,238,238)" stroke-width="0.5"/><path d="M586.7,191.9 L590.7,191.1 L596.8,202.1 L592.8,202.9Z" fill="rgb(238,238,238)" stroke="rgb(238,238,238)" stroke-width="0.5"/>
<path d="M595.4,192.4 L594.3,196.0 L605.6,205.6 L606.7,202.0Z" fill="rgb(197,197,197)" stroke="rgb(197,197,197)" stroke-width="0.5"/><path d="M594.3,196.0 L593.3,199.5 L604.7,209.0 L605.6,205.6Z" fill="rgb(196,196,196)" stroke="rgb(196,196,196)" stroke-width="0.5"/><path d="M596.3,189.0 L595.4,192.4 L606.7,202.0 L607.7,198.5Z" fill="rgb(196,196,196)" stroke="rgb(196,196,196)" stroke-width="0.5"/><path d="M593.3,199.5 L592.8,202.5 L604.1,212.0 L604.7,209.0Z" fill="rgb(194,194,194)" stroke="rgb(194,194,194)" stroke-width="0.5"/><path d="M596.9,186.0 L596.3,189.0 L607.7,198.5 L608.2,195.5Z" fill="rgb(194,194,194)" stroke="rgb(194,194,194)" stroke-width="0.5"/><path d="M592.8,202.5 L592.8,204.8 L604.2,214.3 L604.1,212.0Z" fill="rgb(191,191,191)" stroke="rgb(191,191,191)" stroke-width="0.5"/><path d="M596.8,183.7 L596.9,186.0 L608.2,195.5 L608.2,193.2Z" fill="rgb(191,191,191)" stroke="rgb(191,191,191)" stroke-width="0.5"/><path d="M592.8,204.8 L593.6,206.2 L604.9,215.8 L604.2,214.3Z" fill="rgb(188,188,188)" stroke="rgb(188,188,188)" stroke-width="0.5"/><path d="M596.1,182.2 L596.8,183.7 L608.2,193.2 L607.4,191.8Z" fill="rgb(188,188,188)" stroke="rgb(188,188,188)" stroke-width="0.5"/><path d="M572.9,188.9 L574.4,189.4 L585.8,198.9 L584.3,198.4Z" fill="rgb(223,223,223)" stroke="rgb(223,223,223)" stroke-width="0.5"/><path d="M593.6,206.2 L595.1,206.7 L606.5,216.3 L604.9,215.8Z" fill="rgb(223,223,223)" stroke="rgb(223,223,223)" stroke-width="0.5"/><path d="M594.5,181.7 L596.1,182.2 L607.4,191.8 L605.9,191.3Z" fill="rgb(223,223,223)" stroke="rgb(223,223,223)" stroke-width="0.5"/><path d="M615.2,199.1 L616.7,199.6 L628.1,209.1 L626.6,208.6Z" fill="rgb(223,223,223)" stroke="rgb(223,223,223)" stroke-width="0.5"/><path d="M574.4,189.4 L576.7,189.0 L588.1,198.6 L585.8,198.9Z" fill="rgb(230,230,230)" stroke="rgb(230,230,230)" stroke-width="0.5"/><path d="M595.1,206.7 L597.4,206.4 L608.7,215.9 L606.5,216.3Z" fill="rgb(230,230,230)" stroke="rgb(230,230,230)" stroke-width="0.5"/><path d="M592.3,182.1 L594.5,181.7 L605.9,191.3 L603.6,191.6Z" fill="rgb(230,230,230)" stroke="rgb(230,230,230)" stroke-width="0.5"/><path d="M612.9,199.4 L615.2,199.1 L626.6,208.6 L624.3,209.0Z" fill="rgb(230,230,230)" stroke="rgb(230,230,230)" stroke-width="0.5"/><path d="M576.7,189.0 L579.5,188.0 L590.9,197.5 L588.1,198.6Z" fill="rgb(235,235,235)" stroke="rgb(235,235,235)" stroke-width="0.5"/><path d="M589.4,183.2 L592.3,182.1 L603.6,191.6 L600.8,192.7Z" fill="rgb(235,235,235)" stroke="rgb(235,235,235)" stroke-width="0.5"/><path d="M597.4,206.4 L600.2,205.3 L611.6,214.8 L608.7,215.9Z" fill="rgb(235,235,235)" stroke="rgb(235,235,235)" stroke-width="0.5"/><path d="M610.1,200.5 L612.9,199.4 L624.3,209.0 L621.5,210.0Z" fill="rgb(235,235,235)" stroke="rgb(235,235,235)" stroke-width="0.5"/><path d="M579.5,188.0 L582.8,186.4 L594.2,195.9 L590.9,197.5Z" fill="rgb(238,238,238)" stroke="rgb(238,238,238)" stroke-width="0.5"/><path d="M586.2,184.7 L589.4,183.2 L600.8,192.7 L597.5,194.3Z" fill="rgb(238,238,238)" stroke="rgb(238,238,238)" stroke-width="0.5"/><path d="M600.2,205.3 L603.5,203.7 L614.8,213.3 L611.6,214.8Z" fill="rgb(238,238,238)" stroke="rgb(238,238,238)" stroke-width="0.5"/><path d="M606.8,202.1 L610.1,200.5 L621.5,210.0 L618.2,211.6Z" fill="rgb(238,238,238)" stroke="rgb(238,238,238)" stroke-width="0.5"/><path d="M582.8,186.4 L586.2,184.7 L597.5,194.3 L594.2,195.9Z" fill="rgb(240,240,240)" stroke="rgb(240,240,240)" stroke-width="0.5"/><path d="M603.5,203.7 L606.8,202.1 L618.2,211.6 L614.8,213.3Z" fill="rgb(240,240,240)" stroke="rgb(240,240,240)" stroke-width="0.5"/>
<path d="M600.2,86.1 L595.1,87.5 L595.4,99.2 L600.6,97.9Z" fill="rgb(209,209,209)" stroke="rgb(209,209,209)" stroke-width="0.5"/><path d="M598.9,43.5 L593.7,44.8 L594.1,56.5 L599.3,55.2Z" fill="rgb(209,209,209)" stroke="rgb(209,209,209)" stroke-width="0.5"/><path d="M599.6,64.8 L594.4,66.1 L594.8,77.9 L599.9,76.5Z" fill="rgb(209,209,209)" stroke="rgb(209,209,209)" stroke-width="0.5"/><path d="M594.4,66.1 L589.5,67.5 L589.9,79.2 L594.8,77.9Z" fill="rgb(208,208,208)" stroke="rgb(208,208,208)" stroke-width="0.5"/><path d="M595.1,87.5 L590.2,88.8 L590.6,100.5 L595.4,99.2Z" fill="rgb(208,208,208)" stroke="rgb(208,208,208)" stroke-width="0.5"/><path d="M593.7,44.8 L588.9,46.1 L589.2,57.9 L594.1,56.5Z" fill="rgb(208,208,208)" stroke="rgb(208,208,208)" stroke-width="0.5"/><path d="M604.4,63.5 L599.6,64.8 L599.9,76.5 L604.8,75.2Z" fill="rgb(208,208,208)" stroke="rgb(208,208,208)" stroke-width="0.5"/><path d="M603.8,42.1 L598.9,43.5 L599.3,55.2 L604.1,53.9Z" fill="rgb(208,208,208)" stroke="rgb(208,208,208)" stroke-width="0.5"/><path d="M605.1,84.8 L600.2,86.1 L600.6,97.9 L605.5,96.5Z" fill="rgb(208,208,208)" stroke="rgb(208,208,208)" stroke-width="0.5"/><path d="M589.5,67.5 L585.6,68.8 L586.0,80.5 L589.9,79.2Z" fill="rgb(207,207,207)" stroke="rgb(207,207,207)" stroke-width="0.5"/><path d="M608.4,62.1 L604.4,63.5 L604.8,75.2 L608.7,73.9Z" fill="rgb(207,207,207)" stroke="rgb(207,207,207)" stroke-width="0.5"/><path d="M588.9,46.1 L584.9,47.5 L585.3,59.2 L589.2,57.9Z" fill="rgb(207,207,207)" stroke="rgb(207,207,207)" stroke-width="0.5"/><path d="M607.7,40.8 L603.8,42.1 L604.1,53.9 L608.1,52.5Z" fill="rgb(207,207,207)" stroke="rgb(207,207,207)" stroke-width="0.5"/><path d="M590.2,88.8 L586.3,90.1 L586.6,101.9 L590.6,100.5Z" fill="rgb(207,207,207)" stroke="rgb(207,207,207)" stroke-width="0.5"/><path d="M609.0,83.5 L605.1,84.8 L605.5,96.5 L609.4,95.2Z" fill="rgb(207,207,207)" stroke="rgb(207,207,207)" stroke-width="0.5"/><path d="M585.6,68.8 L583.0,70.1 L583.4,81.8 L586.0,80.5Z" fill="rgb(205,205,205)" stroke="rgb(205,205,205)" stroke-width="0.5"/><path d="M584.9,47.5 L582.4,48.7 L582.7,60.5 L585.3,59.2Z" fill="rgb(205,205,205)" stroke="rgb(205,205,205)" stroke-width="0.5"/><path d="M586.3,90.1 L583.7,91.4 L584.1,103.1 L586.6,101.9Z" fill="rgb(205,205,205)" stroke="rgb(205,205,205)" stroke-width="0.5"/><path d="M610.3,39.5 L607.7,40.8 L608.1,52.5 L610.6,51.3Z" fill="rgb(205,205,205)" stroke="rgb(205,205,205)" stroke-width="0.5"/><path d="M610.9,60.9 L608.4,62.1 L608.7,73.9 L611.3,72.6Z" fill="rgb(205,205,205)" stroke="rgb(205,205,205)" stroke-width="0.5"/><path d="M611.6,82.2 L609.0,83.5 L609.4,95.2 L612.0,93.9Z" fill="rgb(205,205,205)" stroke="rgb(205,205,205)" stroke-width="0.5"/><path d="M583.7,91.4 L582.8,92.6 L583.2,104.3 L584.1,103.1Z" fill="rgb(202,202,202)" stroke="rgb(202,202,202)" stroke-width="0.5"/><path d="M582.4,48.7 L581.5,49.9 L581.9,61.7 L582.7,60.5Z" fill="rgb(202,202,202)" stroke="rgb(202,202,202)" stroke-width="0.5"/><path d="M583.0,70.1 L582.2,71.3 L582.5,83.0 L583.4,81.8Z" fill="rgb(202,202,202)" stroke="rgb(202,202,202)" stroke-width="0.5"/><path d="M611.1,38.3 L610.3,39.5 L610.6,51.3 L611.5,50.1Z" fill="rgb(202,202,202)" stroke="rgb(202,202,202)" stroke-width="0.5"/><path d="M611.8,59.7 L610.9,60.9 L611.3,72.6 L612.2,71.4Z" fill="rgb(202,202,202)" stroke="rgb(202,202,202)" stroke-width="0.5"/><path d="M612.5,81.0 L611.6,82.2 L612.0,93.9 L612.8,92.7Z" fill="rgb(202,202,202)" stroke="rgb(202,202,202)" stroke-width="0.5"/><path d="M582.2,71.3 L583.1,72.4 L583.5,84.2 L582.5,83.0Z" fill="rgb(232,232,232)" stroke="rgb(232,232,232)" stroke-width="0.5"/><path d="M580.8,28.6 L581.8,29.8 L582.1,41.5 L581.2,40.3Z" fill="rgb(232,232,232)" stroke="rgb(232,232,232)" stroke-width="0.5"/><path d="M581.5,49.9 L582.4,51.1 L582.8,62.8 L581.9,61.7Z" fill="rgb(232,232,232)" stroke="rgb(232,232,232)" stroke-width="0.5"/><path d="M610.2,37.2 L611.1,38.3 L611.5,50.1 L610.6,48.9Z" fill="rgb(232,232,232)" stroke="rgb(232,232,232)" stroke-width="0.5"/><path d="M610.9,58.5 L611.8,59.7 L612.2,71.4 L611.2,70.2Z" fill="rgb(232,232,232)" stroke="rgb(232,232,232)" stroke-width="0.5"/><path d="M611.5,79.8 L612.5,81.0 L612.8,92.7 L611.9,91.6Z" fill="rgb(232,232,232)" stroke="rgb(232,232,232)" stroke-width="0.5"/><path d="M583.1,72.4 L585.7,73.5 L586.1,85.3 L583.5,84.2Z" fill="rgb(236,236,236)" stroke="rgb(236,236,236)" stroke-width="0.5"/><path d="M581.8,29.8 L584.4,30.9 L584.8,42.6 L582.1,41.5Z" fill="rgb(236,236,236)" stroke="rgb(236,236,236)" stroke-width="0.5"/><path d="M582.4,51.1 L585.1,52.2 L585.4,63.9 L582.8,62.8Z" fill="rgb(236,236,236)" stroke="rgb(236,236,236)" stroke-width="0.5"/><path d="M607.6,36.1 L610.2,37.2 L610.6,48.9 L607.9,47.8Z" fill="rgb(236,236,236)" stroke="rgb(236,236,236)" stroke-width="0.5"/><path d="M608.2,57.4 L610.9,58.5 L611.2,70.2 L608.6,69.1Z" fill="rgb(236,236,236)" stroke="rgb(236,236,236)" stroke-width="0.5"/><path d="M608.9,78.7 L611.5,79.8 L611.9,91.6 L609.3,90.5Z" fill="rgb(236,236,236)" stroke="rgb(236,236,236)" stroke-width="0.5"/><path d="M585.7,73.5 L589.8,74.6 L590.1,86.3 L586.1,85.3Z" fill="rgb(240,240,240)" stroke="rgb(240,240,240)" stroke-width="0.5"/><path d="M584.4,30.9 L588.4,31.9 L588.8,43.7 L584.8,42.6Z" fill="rgb(240,240,240)" stroke="rgb(240,240,240)" stroke-width="0.5"/><path d="M603.5,35.0 L607.6,36.1 L607.9,47.8 L603.9,46.7Z" fill="rgb(240,240,240)" stroke="rgb(240,240,240)" stroke-width="0.5"/><path d="M585.1,52.2 L589.1,53.3 L589.5,65.0 L585.4,63.9Z" fill="rgb(240,240,240)" stroke="rgb(240,240,240)" stroke-width="0.5"/><path d="M604.9,77.7 L608.9,78.7 L609.3,90.5 L605.2,89.4Z" fill="rgb(240,240,240)" stroke="rgb(240,240,240)" stroke-width="0.5"/><path d="M604.2,56.3 L608.2,57.4 L608.6,69.1 L604.6,68.1Z" fill="rgb(240,240,240)" stroke="rgb(240,240,240)" stroke-width="0.5"/><path d="M589.8,74.6 L594.7,75.6 L595.1,87.4 L590.1,86.3Z" fill="rgb(243,243,243)" stroke="rgb(243,243,243)" stroke-width="0.5"/><path d="M588.4,31.9 L593.4,33.0 L593.7,44.7 L588.8,43.7Z" fill="rgb(243,243,243)" stroke="rgb(243,243,243)" stroke-width="0.5"/><path d="M599.9,76.6 L604.9,77.7 L605.2,89.4 L600.3,88.4Z" fill="rgb(243,243,243)" stroke="rgb(243,243,243)" stroke-width="0.5"/><path d="M598.6,34.0 L603.5,35.0 L603.9,46.7 L599.0,45.7Z" fill="rgb(243,243,243)" stroke="rgb(243,243,243)" stroke-width="0.5"/><path d="M589.1,53.3 L594.0,54.3 L594.4,66.0 L589.5,65.0Z" fill="rgb(243,243,243)" stroke="rgb(243,243,243)" stroke-width="0.5"/><path d="M599.3,55.3 L604.2,56.3 L604.6,68.1 L599.6,67.0Z" fill="rgb(243,243,243)" stroke="rgb(243,243,243)" stroke-width="0.5"/><path d="M593.4,33.0 L598.6,34.0 L599.0,45.7 L593.7,44.7Z" fill="rgb(244,244,244)" stroke="rgb(244,244,244)" stroke-width="0.5"/><path d="M594.0,54.3 L599.3,55.3 L599.6,67.0 L594.4,66.0Z" fill="rgb(244,244,244)" stroke="rgb(244,244,244)" stroke-width="0.5"/><path d="M594.7,75.6 L599.9,76.6 L600.3,88.4 L595.1,87.4Z" fill="rgb(244,244,244)" stroke="rgb(244,244,244)" stroke-width="0.5"/>
<path d="M482.0,64.3 L481.8,68.1 L495.5,75.2 L495.7,71.4Z" fill="rgb(216,216,216)" stroke="rgb(216,216,216)" stroke-width="0.5"/><path d="M507.0,77.3 L506.8,81.1 L520.5,88.2 L520.7,84.4Z" fill="rgb(216,216,216)" stroke="rgb(216,216,216)" stroke-width="0.5"/><path d="M506.8,81.1 L506.7,84.7 L520.4,91.8 L520.5,88.2Z" fill="rgb(216,216,216)" stroke="rgb(216,216,216)" stroke-width="0.5"/><path d="M481.8,68.1 L481.7,71.7 L495.4,78.8 L495.5,75.2Z" fill="rgb(216,216,216)" stroke="rgb(216,216,216)" stroke-width="0.5"/><path d="M507.1,73.7 L507.0,77.3 L520.7,84.4 L520.8,80.8Z" fill="rgb(216,216,216)" stroke="rgb(216,216,216)" stroke-width="0.5"/><path d="M482.1,60.7 L482.0,64.3 L495.7,71.4 L495.8,67.8Z" fill="rgb(216,216,216)" stroke="rgb(216,216,216)" stroke-width="0.5"/><path d="M506.7,84.7 L506.8,87.8 L520.6,94.9 L520.4,91.8Z" fill="rgb(215,215,215)" stroke="rgb(215,215,215)" stroke-width="0.5"/><path d="M506.9,70.6 L507.1,73.7 L520.8,80.8 L520.7,77.7Z" fill="rgb(215,215,215)" stroke="rgb(215,215,215)" stroke-width="0.5"/><path d="M481.7,71.7 L481.8,74.8 L495.6,81.9 L495.4,78.8Z" fill="rgb(215,215,215)" stroke="rgb(215,215,215)" stroke-width="0.5"/><path d="M481.9,57.6 L482.1,60.7 L495.8,67.8 L495.7,64.7Z" fill="rgb(215,215,215)" stroke="rgb(215,215,215)" stroke-width="0.5"/><path d="M506.8,87.8 L507.4,90.0 L521.2,97.2 L520.6,94.9Z" fill="rgb(213,213,213)" stroke="rgb(213,213,213)" stroke-width="0.5"/><path d="M481.8,74.8 L482.4,77.0 L496.2,84.2 L495.6,81.9Z" fill="rgb(213,213,213)" stroke="rgb(213,213,213)" stroke-width="0.5"/><path d="M481.3,55.3 L481.9,57.6 L495.7,64.7 L495.1,62.5Z" fill="rgb(213,213,213)" stroke="rgb(213,213,213)" stroke-width="0.5"/><path d="M506.3,68.3 L506.9,70.6 L520.7,77.7 L520.1,75.5Z" fill="rgb(213,213,213)" stroke="rgb(213,213,213)" stroke-width="0.5"/><path d="M482.4,77.0 L483.5,78.3 L497.3,85.4 L496.2,84.2Z" fill="rgb(211,211,211)" stroke="rgb(211,211,211)" stroke-width="0.5"/><path d="M507.4,90.0 L508.5,91.3 L522.3,98.4 L521.2,97.2Z" fill="rgb(211,211,211)" stroke="rgb(211,211,211)" stroke-width="0.5"/><path d="M480.2,54.1 L481.3,55.3 L495.1,62.5 L494.0,61.2Z" fill="rgb(211,211,211)" stroke="rgb(211,211,211)" stroke-width="0.5"/><path d="M505.2,67.1 L506.3,68.3 L520.1,75.5 L519.0,74.2Z" fill="rgb(211,211,211)" stroke="rgb(211,211,211)" stroke-width="0.5"/><path d="M458.5,65.3 L460.2,65.5 L473.9,72.6 L472.3,72.4Z" fill="rgb(237,237,237)" stroke="rgb(237,237,237)" stroke-width="0.5"/><path d="M483.5,78.3 L485.2,78.5 L498.9,85.6 L497.3,85.4Z" fill="rgb(237,237,237)" stroke="rgb(237,237,237)" stroke-width="0.5"/><path d="M478.6,53.9 L480.2,54.1 L494.0,61.2 L492.3,61.0Z" fill="rgb(237,237,237)" stroke="rgb(237,237,237)" stroke-width="0.5"/><path d="M503.6,66.9 L505.2,67.1 L519.0,74.2 L517.3,74.0Z" fill="rgb(237,237,237)" stroke="rgb(237,237,237)" stroke-width="0.5"/><path d="M460.2,65.5 L462.4,64.7 L476.1,71.8 L473.9,72.6Z" fill="rgb(240,240,240)" stroke="rgb(240,240,240)" stroke-width="0.5"/><path d="M485.2,78.5 L487.4,77.7 L501.1,84.8 L498.9,85.6Z" fill="rgb(240,240,240)" stroke="rgb(240,240,240)" stroke-width="0.5"/><path d="M476.4,54.7 L478.6,53.9 L492.3,61.0 L490.1,61.8Z" fill="rgb(240,240,240)" stroke="rgb(240,240,240)" stroke-width="0.5"/><path d="M501.4,67.7 L503.6,66.9 L517.3,74.0 L515.1,74.8Z" fill="rgb(240,240,240)" stroke="rgb(240,240,240)" stroke-width="0.5"/><path d="M462.4,64.7 L465.0,63.0 L478.7,70.2 L476.1,71.8Z" fill="rgb(243,243,243)" stroke="rgb(243,243,243)" stroke-width="0.5"/><path d="M473.8,56.3 L476.4,54.7 L490.1,61.8 L487.5,63.5Z" fill="rgb(243,243,243)" stroke="rgb(243,243,243)" stroke-width="0.5"/><path d="M487.4,77.7 L490.0,76.0 L503.7,83.2 L501.1,84.8Z" fill="rgb(243,243,243)" stroke="rgb(243,243,243)" stroke-width="0.5"/><path d="M498.8,69.3 L501.4,67.7 L515.1,74.8 L512.5,76.5Z" fill="rgb(243,243,243)" stroke="rgb(243,243,243)" stroke-width="0.5"/><path d="M465.0,63.0 L467.9,60.9 L481.6,68.0 L478.7,70.2Z" fill="rgb(245,245,245)" stroke="rgb(245,245,245)" stroke-width="0.5"/><path d="M470.9,58.5 L473.8,56.3 L487.5,63.5 L484.6,65.6Z" fill="rgb(245,245,245)" stroke="rgb(245,245,245)" stroke-width="0.5"/><path d="M490.0,76.0 L492.9,73.9 L506.6,81.0 L503.7,83.2Z" fill="rgb(245,245,245)" stroke="rgb(245,245,245)" stroke-width="0.5"/><path d="M495.9,71.5 L498.8,69.3 L512.5,76.5 L509.6,78.6Z" fill="rgb(245,245,245)" stroke="rgb(245,245,245)" stroke-width="0.5"/><path d="M467.9,60.9 L470.9,58.5 L484.6,65.6 L481.6,68.0Z" fill="rgb(246,246,246)" stroke="rgb(246,246,246)" stroke-width="0.5"/><path d="M492.9,73.9 L495.9,71.5 L509.6,78.6 L506.6,81.0Z" fill="rgb(246,246,246)" stroke="rgb(246,246,246)" stroke-width="0.5"/>
<path d="M627.0,184.9 L626.9,188.6 L639.5,194.1 L639.6,190.4Z" fill="rgb(200,200,200)" stroke="rgb(200,200,200)" stroke-width="0.5"/><path d="M650.0,194.9 L649.9,198.6 L662.5,204.1 L662.6,200.4Z" fill="rgb(200,200,200)" stroke="rgb(200,200,200)" stroke-width="0.5"/><path d="M649.9,198.6 L649.8,202.2 L662.5,207.7 L662.5,204.1Z" fill="rgb(199,199,199)" stroke="rgb(199,199,199)" stroke-width="0.5"/><path d="M626.9,188.6 L626.8,192.2 L639.5,197.7 L639.5,194.1Z" fill="rgb(199,199,199)" stroke="rgb(199,199,199)" stroke-width="0.5"/><path d="M650.0,191.3 L650.0,194.9 L662.6,200.4 L662.7,196.8Z" fill="rgb(199,199,199)" stroke="rgb(199,199,199)" stroke-width="0.5"/><path d="M627.0,181.3 L627.0,184.9 L639.6,190.4 L639.7,186.8Z" fill="rgb(199,199,199)" stroke="rgb(199,199,199)" stroke-width="0.5"/><path d="M649.8,202.2 L650.1,205.2 L662.7,210.7 L662.5,207.7Z" fill="rgb(197,197,197)" stroke="rgb(197,197,197)" stroke-width="0.5"/><path d="M649.8,188.3 L650.0,191.3 L662.7,196.8 L662.4,193.8Z" fill="rgb(197,197,197)" stroke="rgb(197,197,197)" stroke-width="0.5"/><path d="M626.8,192.2 L627.1,195.2 L639.7,200.7 L639.5,197.7Z" fill="rgb(197,197,197)" stroke="rgb(197,197,197)" stroke-width="0.5"/><path d="M626.8,178.3 L627.0,181.3 L639.7,186.8 L639.4,183.8Z" fill="rgb(197,197,197)" stroke="rgb(197,197,197)" stroke-width="0.5"/><path d="M650.1,205.2 L650.7,207.3 L663.3,212.8 L662.7,210.7Z" fill="rgb(195,195,195)" stroke="rgb(195,195,195)" stroke-width="0.5"/><path d="M627.1,195.2 L627.7,197.3 L640.3,202.8 L639.7,200.7Z" fill="rgb(195,195,195)" stroke="rgb(195,195,195)" stroke-width="0.5"/><path d="M626.2,176.2 L626.8,178.3 L639.4,183.8 L638.8,181.7Z" fill="rgb(195,195,195)" stroke="rgb(195,195,195)" stroke-width="0.5"/><path d="M649.2,186.2 L649.8,188.3 L662.4,193.8 L661.8,191.7Z" fill="rgb(195,195,195)" stroke="rgb(195,195,195)" stroke-width="0.5"/><path d="M627.7,197.3 L628.7,198.4 L641.3,203.9 L640.3,202.8Z" fill="rgb(191,191,191)" stroke="rgb(191,191,191)" stroke-width="0.5"/><path d="M650.7,207.3 L651.7,208.4 L664.3,213.9 L663.3,212.8Z" fill="rgb(191,191,191)" stroke="rgb(191,191,191)" stroke-width="0.5"/><path d="M625.2,175.1 L626.2,176.2 L638.8,181.7 L637.8,180.6Z" fill="rgb(191,191,191)" stroke="rgb(191,191,191)" stroke-width="0.5"/><path d="M648.2,185.1 L649.2,186.2 L661.8,191.7 L660.8,190.6Z" fill="rgb(191,191,191)" stroke="rgb(191,191,191)" stroke-width="0.5"/><path d="M605.7,188.4 L607.2,188.4 L619.9,193.9 L618.3,193.9Z" fill="rgb(225,225,225)" stroke="rgb(225,225,225)" stroke-width="0.5"/><path d="M628.7,198.4 L630.2,198.4 L642.9,203.9 L641.3,203.9Z" fill="rgb(225,225,225)" stroke="rgb(225,225,225)" stroke-width="0.5"/><path d="M623.6,175.1 L625.2,175.1 L637.8,180.6 L636.3,180.6Z" fill="rgb(225,225,225)" stroke="rgb(225,225,225)" stroke-width="0.5"/><path d="M646.6,185.1 L648.2,185.1 L660.8,190.6 L659.3,190.6Z" fill="rgb(225,225,225)" stroke="rgb(225,225,225)" stroke-width="0.5"/><path d="M607.2,188.4 L609.2,187.4 L621.8,192.9 L619.9,193.9Z" fill="rgb(231,231,231)" stroke="rgb(231,231,231)" stroke-width="0.5"/><path d="M630.2,198.4 L632.2,197.4 L644.8,202.9 L642.9,203.9Z" fill="rgb(231,231,231)" stroke="rgb(231,231,231)" stroke-width="0.5"/><path d="M621.7,176.1 L623.6,175.1 L636.3,180.6 L634.3,181.6Z" fill="rgb(231,231,231)" stroke="rgb(231,231,231)" stroke-width="0.5"/><path d="M644.7,186.1 L646.6,185.1 L659.3,190.6 L657.3,191.6Z" fill="rgb(231,231,231)" stroke="rgb(231,231,231)" stroke-width="0.5"/><path d="M609.2,187.4 L611.5,185.5 L624.2,191.0 L621.8,192.9Z" fill="rgb(235,235,235)" stroke="rgb(235,235,235)" stroke-width="0.5"/><path d="M619.3,178.0 L621.7,176.1 L634.3,181.6 L632.0,183.5Z" fill="rgb(235,235,235)" stroke="rgb(235,235,235)" stroke-width="0.5"/><path d="M632.2,197.4 L634.5,195.5 L647.2,201.0 L644.8,202.9Z" fill="rgb(235,235,235)" stroke="rgb(235,235,235)" stroke-width="0.5"/><path d="M642.3,188.0 L644.7,186.1 L657.3,191.6 L655.0,193.5Z" fill="rgb(235,235,235)" stroke="rgb(235,235,235)" stroke-width="0.5"/><path d="M611.5,185.5 L614.1,183.1 L626.7,188.6 L624.2,191.0Z" fill="rgb(238,238,238)" stroke="rgb(238,238,238)" stroke-width="0.5"/><path d="M616.8,180.4 L619.3,178.0 L632.0,183.5 L629.4,185.9Z" fill="rgb(238,238,238)" stroke="rgb(238,238,238)" stroke-width="0.5"/><path d="M634.5,195.5 L637.1,193.1 L649.7,198.6 L647.2,201.0Z" fill="rgb(238,238,238)" stroke="rgb(238,238,238)" stroke-width="0.5"/><path d="M639.8,190.4 L642.3,188.0 L655.0,193.5 L652.4,195.9Z" fill="rgb(238,238,238)" stroke="rgb(238,238,238)" stroke-width="0.5"/><path d="M614.1,183.1 L616.8,180.4 L629.4,185.9 L626.7,188.6Z" fill="rgb(240,240,240)" stroke="rgb(240,240,240)" stroke-width="0.5"/><path d="M637.1,193.1 L639.8,190.4 L652.4,195.9 L649.7,198.6Z" fill="rgb(240,240,240)" stroke="rgb(240,240,240)" stroke-width="0.5"/>
<path d="M448.3,196.8 L448.0,199.9 L459.7,207.2 L460.0,204.1Z" fill="rgb(195,195,195)" stroke="rgb(195,195,195)" stroke-width="0.5"/><path d="M448.0,199.9 L447.8,202.8 L459.5,210.2 L459.7,207.2Z" fill="rgb(194,194,194)" stroke="rgb(194,194,194)" stroke-width="0.5"/><path d="M448.5,193.8 L448.3,196.8 L460.0,204.1 L460.2,201.2Z" fill="rgb(194,194,194)" stroke="rgb(194,194,194)" stroke-width="0.5"/><path d="M447.8,202.8 L447.8,205.4 L459.6,212.7 L459.5,210.2Z" fill="rgb(192,192,192)" stroke="rgb(192,192,192)" stroke-width="0.5"/><path d="M448.4,191.3 L448.5,193.8 L460.2,201.2 L460.2,198.6Z" fill="rgb(192,192,192)" stroke="rgb(192,192,192)" stroke-width="0.5"/><path d="M447.8,205.4 L448.3,207.3 L460.0,214.6 L459.6,212.7Z" fill="rgb(189,189,189)" stroke="rgb(189,189,189)" stroke-width="0.5"/><path d="M448.0,189.4 L448.4,191.3 L460.2,198.6 L459.7,196.7Z" fill="rgb(189,189,189)" stroke="rgb(189,189,189)" stroke-width="0.5"/><path d="M448.3,207.3 L449.2,208.5 L461.0,215.8 L460.0,214.6Z" fill="rgb(186,186,186)" stroke="rgb(186,186,186)" stroke-width="0.5"/><path d="M447.0,188.2 L448.0,189.4 L459.7,196.7 L458.8,195.5Z" fill="rgb(186,186,186)" stroke="rgb(186,186,186)" stroke-width="0.5"/><path d="M427.9,195.1 L429.3,195.4 L441.1,202.8 L439.6,202.5Z" fill="rgb(221,221,221)" stroke="rgb(221,221,221)" stroke-width="0.5"/><path d="M449.2,208.5 L450.7,208.8 L462.4,216.1 L461.0,215.8Z" fill="rgb(221,221,221)" stroke="rgb(221,221,221)" stroke-width="0.5"/><path d="M445.6,187.9 L447.0,188.2 L458.8,195.5 L457.3,195.2Z" fill="rgb(221,221,221)" stroke="rgb(221,221,221)" stroke-width="0.5"/><path d="M466.9,201.2 L468.4,201.5 L480.1,208.9 L478.7,208.6Z" fill="rgb(221,221,221)" stroke="rgb(221,221,221)" stroke-width="0.5"/><path d="M429.3,195.4 L431.3,195.0 L443.0,202.3 L441.1,202.8Z" fill="rgb(228,228,228)" stroke="rgb(228,228,228)" stroke-width="0.5"/><path d="M450.7,208.8 L452.6,208.3 L464.3,215.7 L462.4,216.1Z" fill="rgb(228,228,228)" stroke="rgb(228,228,228)" stroke-width="0.5"/><path d="M443.7,188.3 L445.6,187.9 L457.3,195.2 L455.4,195.7Z" fill="rgb(228,228,228)" stroke="rgb(228,228,228)" stroke-width="0.5"/><path d="M465.0,201.7 L466.9,201.2 L478.7,208.6 L476.7,209.0Z" fill="rgb(228,228,228)" stroke="rgb(228,228,228)" stroke-width="0.5"/><path d="M431.3,195.0 L433.6,193.9 L445.3,201.3 L443.0,202.3Z" fill="rgb(233,233,233)" stroke="rgb(233,233,233)" stroke-width="0.5"/><path d="M441.4,189.4 L443.7,188.3 L455.4,195.7 L453.1,196.7Z" fill="rgb(233,233,233)" stroke="rgb(233,233,233)" stroke-width="0.5"/><path d="M452.6,208.3 L454.9,207.3 L466.6,214.6 L464.3,215.7Z" fill="rgb(233,233,233)" stroke="rgb(233,233,233)" stroke-width="0.5"/><path d="M462.7,202.7 L465.0,201.7 L476.7,209.0 L474.4,210.1Z" fill="rgb(233,233,233)" stroke="rgb(233,233,233)" stroke-width="0.5"/><path d="M433.6,193.9 L436.1,192.5 L447.9,199.8 L445.3,201.3Z" fill="rgb(236,236,236)" stroke="rgb(236,236,236)" stroke-width="0.5"/><path d="M438.8,190.9 L441.4,189.4 L453.1,196.7 L450.5,198.2Z" fill="rgb(236,236,236)" stroke="rgb(236,236,236)" stroke-width="0.5"/><path d="M454.9,207.3 L457.5,205.8 L469.2,213.1 L466.6,214.6Z" fill="rgb(236,236,236)" stroke="rgb(236,236,236)" stroke-width="0.5"/><path d="M460.1,204.2 L462.7,202.7 L474.4,210.1 L471.9,211.5Z" fill="rgb(236,236,236)" stroke="rgb(236,236,236)" stroke-width="0.5"/><path d="M436.1,192.5 L438.8,190.9 L450.5,198.2 L447.9,199.8Z" fill="rgb(238,238,238)" stroke="rgb(238,238,238)" stroke-width="0.5"/><path d="M457.5,205.8 L460.1,204.2 L471.9,211.5 L469.2,213.1Z" fill="rgb(238,238,238)" stroke="rgb(238,238,238)" stroke-width="0.5"/>
<path d="M649.2,99.8 L647.6,103.2 L657.4,114.2 L659.0,110.8Z" fill="rgb(210,210,210)" stroke="rgb(210,210,210)" stroke-width="0.5"/><path d="M667.0,119.8 L665.4,123.2 L675.2,134.2 L676.8,130.8Z" fill="rgb(210,210,210)" stroke="rgb(210,210,210)" stroke-width="0.5"/><path d="M647.6,103.2 L646.2,106.5 L656.0,117.5 L657.4,114.2Z" fill="rgb(210,210,210)" stroke="rgb(210,210,210)" stroke-width="0.5"/><path d="M668.5,116.5 L667.0,119.8 L676.8,130.8 L678.3,127.5Z" fill="rgb(210,210,210)" stroke="rgb(210,210,210)" stroke-width="0.5"/><path d="M650.7,96.5 L649.2,99.8 L659.0,110.8 L660.5,107.5Z" fill="rgb(210,210,210)" stroke="rgb(210,210,210)" stroke-width="0.5"/><path d="M669.5,113.6 L668.5,116.5 L678.3,127.5 L679.3,124.6Z" fill="rgb(209,209,209)" stroke="rgb(209,209,209)" stroke-width="0.5"/><path d="M646.2,106.5 L645.2,109.4 L655.0,120.4 L656.0,117.5Z" fill="rgb(209,209,209)" stroke="rgb(209,209,209)" stroke-width="0.5"/><path d="M651.7,93.6 L650.7,96.5 L660.5,107.5 L661.5,104.6Z" fill="rgb(209,209,209)" stroke="rgb(209,209,209)" stroke-width="0.5"/><path d="M645.2,109.4 L644.9,111.6 L654.7,122.6 L655.0,120.4Z" fill="rgb(207,207,207)" stroke="rgb(207,207,207)" stroke-width="0.5"/><path d="M652.0,91.4 L651.7,93.6 L661.5,104.6 L661.8,102.4Z" fill="rgb(207,207,207)" stroke="rgb(207,207,207)" stroke-width="0.5"/><path d="M669.8,111.4 L669.5,113.6 L679.3,124.6 L679.6,122.4Z" fill="rgb(207,207,207)" stroke="rgb(207,207,207)" stroke-width="0.5"/><path d="M644.9,111.6 L645.4,113.1 L655.2,124.1 L654.7,122.6Z" fill="rgb(204,204,204)" stroke="rgb(204,204,204)" stroke-width="0.5"/><path d="M651.5,89.9 L652.0,91.4 L661.8,102.4 L661.3,100.9Z" fill="rgb(204,204,204)" stroke="rgb(204,204,204)" stroke-width="0.5"/><path d="M669.3,109.9 L669.8,111.4 L679.6,122.4 L679.0,120.9Z" fill="rgb(204,204,204)" stroke="rgb(204,204,204)" stroke-width="0.5"/><path d="M627.6,93.1 L629.1,93.9 L638.9,104.9 L637.4,104.1Z" fill="rgb(232,232,232)" stroke="rgb(232,232,232)" stroke-width="0.5"/><path d="M645.4,113.1 L646.9,113.9 L656.6,124.9 L655.2,124.1Z" fill="rgb(232,232,232)" stroke="rgb(232,232,232)" stroke-width="0.5"/><path d="M650.0,89.1 L651.5,89.9 L661.3,100.9 L659.8,100.1Z" fill="rgb(232,232,232)" stroke="rgb(232,232,232)" stroke-width="0.5"/><path d="M667.8,109.1 L669.3,109.9 L679.0,120.9 L677.6,120.1Z" fill="rgb(232,232,232)" stroke="rgb(232,232,232)" stroke-width="0.5"/><path d="M629.1,93.9 L631.4,93.8 L641.1,104.8 L638.9,104.9Z" fill="rgb(237,237,237)" stroke="rgb(237,237,237)" stroke-width="0.5"/><path d="M646.9,113.9 L649.1,113.8 L658.9,124.8 L656.6,124.9Z" fill="rgb(237,237,237)" stroke="rgb(237,237,237)" stroke-width="0.5"/><path d="M647.8,89.2 L650.0,89.1 L659.8,100.1 L657.5,100.2Z" fill="rgb(237,237,237)" stroke="rgb(237,237,237)" stroke-width="0.5"/><path d="M665.5,109.2 L667.8,109.1 L677.6,120.1 L675.3,120.2Z" fill="rgb(237,237,237)" stroke="rgb(237,237,237)" stroke-width="0.5"/><path d="M631.4,93.8 L634.3,93.2 L644.1,104.2 L641.1,104.8Z" fill="rgb(240,240,240)" stroke="rgb(240,240,240)" stroke-width="0.5"/><path d="M644.8,89.8 L647.8,89.2 L657.5,100.2 L654.6,100.8Z" fill="rgb(240,240,240)" stroke="rgb(240,240,240)" stroke-width="0.5"/><path d="M649.1,113.8 L652.1,113.2 L661.9,124.2 L658.9,124.8Z" fill="rgb(240,240,240)" stroke="rgb(240,240,240)" stroke-width="0.5"/><path d="M662.6,109.8 L665.5,109.2 L675.3,120.2 L672.3,120.8Z" fill="rgb(240,240,240)" stroke="rgb(240,240,240)" stroke-width="0.5"/><path d="M634.3,93.2 L637.8,92.1 L647.5,103.1 L644.1,104.2Z" fill="rgb(243,243,243)" stroke="rgb(243,243,243)" stroke-width="0.5"/><path d="M641.3,90.9 L644.8,89.8 L654.6,100.8 L651.1,101.9Z" fill="rgb(243,243,243)" stroke="rgb(243,243,243)" stroke-width="0.5"/><path d="M652.1,113.2 L655.5,112.1 L665.3,123.1 L661.9,124.2Z" fill="rgb(243,243,243)" stroke="rgb(243,243,243)" stroke-width="0.5"/><path d="M659.1,110.9 L662.6,109.8 L672.3,120.8 L668.9,121.9Z" fill="rgb(243,243,243)" stroke="rgb(243,243,243)" stroke-width="0.5"/><path d="M637.8,92.1 L641.3,90.9 L651.1,101.9 L647.5,103.1Z" fill="rgb(244,244,244)" stroke="rgb(244,244,244)" stroke-width="0.5"/><path d="M655.5,112.1 L659.1,110.9 L668.9,121.9 L665.3,123.1Z" fill="rgb(244,244,244)" stroke="rgb(244,244,244)" stroke-width="0.5"/>
<g fill="none" stroke="#cdcdcd" stroke-width="3" stroke-linecap="round" stroke-linejoin="round">
<path d="M592.8,35.3 C598,31 608,33 612,39 C614,44 612,48 609,51 M612.9,48.1 C620,50 628,58 636.6,66.3 C644,71 652,74 650.3,79.1 C648,86 640,88 633,90 C622,93 614,96 609.3,102.8"/>
<path d="M618.4,96.4 C624,99 626,106 624.8,111.9 C623,118 617,124 612.9,128 C611,133 612,137 612,139.2"/>
<path d="M649.2,160.4 C656,162 660,166 661,170 C663,180 668,190 680,196 L686,197"/>
<path d="M686,199 C676,200 668,205 663.8,212"/>
<path d="M633.2,197.6 C640,196 648,200 650,212"/>
<path d="M400,140 C410,145 420,150 428,160 C432,170 425,180 418,186"/>
<path d="M475,85 C470,95 466,105 468,118 C470,125 472,132 470,140"/>
<path d="M560,70 C570,75 575,80 578,88"/>
</g>
<path d="M573.3,135.3 L574.6,144.9 L594.5,147.5 L593.1,138.0Z" fill="rgb(156,156,156)" stroke="rgb(156,156,156)" stroke-width="0.5"/><path d="M574.6,144.9 L576.0,154.2 L595.8,156.9 L594.5,147.5Z" fill="rgb(155,155,155)" stroke="rgb(155,155,155)" stroke-width="0.5"/><path d="M571.9,126.5 L573.3,135.3 L593.1,138.0 L591.7,129.2Z" fill="rgb(154,154,154)" stroke="rgb(154,154,154)" stroke-width="0.5"/><path d="M576.0,154.2 L577.5,162.2 L597.4,164.9 L595.8,156.9Z" fill="rgb(153,153,153)" stroke="rgb(153,153,153)" stroke-width="0.5"/><path d="M570.2,119.7 L571.9,126.5 L591.7,129.2 L590.0,122.4Z" fill="rgb(152,152,152)" stroke="rgb(152,152,152)" stroke-width="0.5"/><path d="M616.4,126.0 L618.1,132.8 L638.0,135.5 L636.3,128.6Z" fill="rgb(152,152,152)" stroke="rgb(152,152,152)" stroke-width="0.5"/><path d="M577.5,162.2 L579.4,168.0 L599.2,170.7 L597.4,164.9Z" fill="rgb(150,150,150)" stroke="rgb(150,150,150)" stroke-width="0.5"/><path d="M568.1,115.5 L570.2,119.7 L590.0,122.4 L588.0,118.2Z" fill="rgb(148,148,148)" stroke="rgb(148,148,148)" stroke-width="0.5"/><path d="M614.4,121.8 L616.4,126.0 L636.3,128.6 L634.2,124.4Z" fill="rgb(148,148,148)" stroke="rgb(148,148,148)" stroke-width="0.5"/><path d="M579.4,168.0 L581.6,170.8 L601.4,173.5 L599.2,170.7Z" fill="rgb(146,146,146)" stroke="rgb(146,146,146)" stroke-width="0.5"/><path d="M565.7,114.5 L568.1,115.5 L588.0,118.2 L585.5,117.1Z" fill="rgb(143,143,143)" stroke="rgb(143,143,143)" stroke-width="0.5"/><path d="M611.9,120.7 L614.4,121.8 L634.2,124.4 L631.7,123.4Z" fill="rgb(143,143,143)" stroke="rgb(143,143,143)" stroke-width="0.5"/><path d="M581.6,170.8 L584.3,170.5 L604.1,173.2 L601.4,173.5Z" fill="rgb(182,182,182)" stroke="rgb(182,182,182)" stroke-width="0.5"/><path d="M562.8,116.6 L565.7,114.5 L585.5,117.1 L582.6,119.3Z" fill="rgb(186,186,186)" stroke="rgb(186,186,186)" stroke-width="0.5"/><path d="M609.0,122.9 L611.9,120.7 L631.7,123.4 L628.8,125.5Z" fill="rgb(186,186,186)" stroke="rgb(186,186,186)" stroke-width="0.5"/><path d="M584.3,170.5 L587.4,167.0 L607.2,169.7 L604.1,173.2Z" fill="rgb(190,190,190)" stroke="rgb(190,190,190)" stroke-width="0.5"/><path d="M559.5,121.7 L562.8,116.6 L582.6,119.3 L579.3,124.4Z" fill="rgb(194,194,194)" stroke="rgb(194,194,194)" stroke-width="0.5"/><path d="M605.7,127.9 L609.0,122.9 L628.8,125.5 L625.5,130.6Z" fill="rgb(194,194,194)" stroke="rgb(194,194,194)" stroke-width="0.5"/><path d="M587.4,167.0 L590.8,160.8 L610.6,163.5 L607.2,169.7Z" fill="rgb(197,197,197)" stroke="rgb(197,197,197)" stroke-width="0.5"/><path d="M541.1,160.7 L544.6,154.6 L564.4,157.3 L560.9,163.4Z" fill="rgb(197,197,197)" stroke="rgb(197,197,197)" stroke-width="0.5"/><path d="M555.9,129.0 L559.5,121.7 L579.3,124.4 L575.7,131.7Z" fill="rgb(200,200,200)" stroke="rgb(200,200,200)" stroke-width="0.5"/><path d="M602.1,135.3 L605.7,127.9 L625.5,130.6 L621.9,137.9Z" fill="rgb(200,200,200)" stroke="rgb(200,200,200)" stroke-width="0.5"/><path d="M590.8,160.8 L594.5,152.8 L614.3,155.5 L610.6,163.5Z" fill="rgb(202,202,202)" stroke="rgb(202,202,202)" stroke-width="0.5"/><path d="M544.6,154.6 L548.3,146.6 L568.1,149.2 L564.4,157.3Z" fill="rgb(202,202,202)" stroke="rgb(202,202,202)" stroke-width="0.5"/><path d="M552.1,137.7 L555.9,129.0 L575.7,131.7 L571.9,140.3Z" fill="rgb(204,204,204)" stroke="rgb(204,204,204)" stroke-width="0.5"/><path d="M598.3,143.9 L602.1,135.3 L621.9,137.9 L618.1,146.6Z" fill="rgb(204,204,204)" stroke="rgb(204,204,204)" stroke-width="0.5"/><path d="M594.5,152.8 L598.3,143.9 L618.1,146.6 L614.3,155.5Z" fill="rgb(204,204,204)" stroke="rgb(204,204,204)" stroke-width="0.5"/><path d="M548.3,146.6 L552.1,137.7 L571.9,140.3 L568.1,149.2Z" fill="rgb(204,204,204)" stroke="rgb(204,204,204)" stroke-width="0.5"/>
<path d="M529.0,105.2 L531.2,109.6 L545.1,109.1 L543.0,104.7Z" fill="rgb(189,189,189)" stroke="rgb(189,189,189)" stroke-width="0.5"/><path d="M526.8,100.9 L529.0,105.2 L543.0,104.7 L540.8,100.4Z" fill="rgb(189,189,189)" stroke="rgb(189,189,189)" stroke-width="0.5"/><path d="M531.2,109.6 L533.3,113.5 L547.3,113.0 L545.1,109.1Z" fill="rgb(188,188,188)" stroke="rgb(188,188,188)" stroke-width="0.5"/><path d="M524.7,97.1 L526.8,100.9 L540.8,100.4 L538.7,96.6Z" fill="rgb(188,188,188)" stroke="rgb(188,188,188)" stroke-width="0.5"/><path d="M560.7,95.8 L562.8,99.6 L576.8,99.0 L574.7,95.3Z" fill="rgb(188,188,188)" stroke="rgb(188,188,188)" stroke-width="0.5"/><path d="M533.3,113.5 L535.4,116.4 L549.4,115.9 L547.3,113.0Z" fill="rgb(185,185,185)" stroke="rgb(185,185,185)" stroke-width="0.5"/><path d="M522.6,94.4 L524.7,97.1 L538.7,96.6 L536.6,93.8Z" fill="rgb(185,185,185)" stroke="rgb(185,185,185)" stroke-width="0.5"/><path d="M558.6,93.0 L560.7,95.8 L574.7,95.3 L572.6,92.5Z" fill="rgb(185,185,185)" stroke="rgb(185,185,185)" stroke-width="0.5"/><path d="M535.4,116.4 L537.5,118.0 L551.5,117.4 L549.4,115.9Z" fill="rgb(182,182,182)" stroke="rgb(182,182,182)" stroke-width="0.5"/><path d="M520.5,93.0 L522.6,94.4 L536.6,93.8 L534.5,92.5Z" fill="rgb(182,182,182)" stroke="rgb(182,182,182)" stroke-width="0.5"/><path d="M556.5,91.6 L558.6,93.0 L572.6,92.5 L570.5,91.1Z" fill="rgb(182,182,182)" stroke="rgb(182,182,182)" stroke-width="0.5"/><path d="M537.5,118.0 L539.5,118.0 L553.5,117.5 L551.5,117.4Z" fill="rgb(178,178,178)" stroke="rgb(178,178,178)" stroke-width="0.5"/><path d="M518.5,93.1 L520.5,93.0 L534.5,92.5 L532.5,92.6Z" fill="rgb(212,212,212)" stroke="rgb(212,212,212)" stroke-width="0.5"/><path d="M554.5,91.8 L556.5,91.6 L570.5,91.1 L568.5,91.3Z" fill="rgb(212,212,212)" stroke="rgb(212,212,212)" stroke-width="0.5"/><path d="M539.5,118.0 L541.4,116.5 L555.4,115.9 L553.5,117.5Z" fill="rgb(218,218,218)" stroke="rgb(218,218,218)" stroke-width="0.5"/><path d="M516.6,94.9 L518.5,93.1 L532.5,92.6 L530.6,94.3Z" fill="rgb(219,219,219)" stroke="rgb(219,219,219)" stroke-width="0.5"/><path d="M552.6,93.5 L554.5,91.8 L568.5,91.3 L566.6,93.0Z" fill="rgb(219,219,219)" stroke="rgb(219,219,219)" stroke-width="0.5"/><path d="M541.4,116.5 L543.3,113.6 L557.3,113.0 L555.4,115.9Z" fill="rgb(224,224,224)" stroke="rgb(224,224,224)" stroke-width="0.5"/><path d="M514.7,97.9 L516.6,94.9 L530.6,94.3 L528.7,97.4Z" fill="rgb(225,225,225)" stroke="rgb(225,225,225)" stroke-width="0.5"/><path d="M550.7,96.6 L552.6,93.5 L566.6,93.0 L564.7,96.1Z" fill="rgb(225,225,225)" stroke="rgb(225,225,225)" stroke-width="0.5"/><path d="M543.3,113.6 L545.2,109.6 L559.2,109.1 L557.3,113.0Z" fill="rgb(229,229,229)" stroke="rgb(229,229,229)" stroke-width="0.5"/><path d="M512.9,101.9 L514.7,97.9 L528.7,97.4 L526.8,101.4Z" fill="rgb(229,229,229)" stroke="rgb(229,229,229)" stroke-width="0.5"/><path d="M548.9,100.6 L550.7,96.6 L564.7,96.1 L562.8,100.1Z" fill="rgb(229,229,229)" stroke="rgb(229,229,229)" stroke-width="0.5"/><path d="M509.2,111.0 L511.0,106.5 L525.0,105.9 L523.2,110.4Z" fill="rgb(231,231,231)" stroke="rgb(231,231,231)" stroke-width="0.5"/><path d="M545.2,109.6 L547.0,105.1 L561.0,104.6 L559.2,109.1Z" fill="rgb(231,231,231)" stroke="rgb(231,231,231)" stroke-width="0.5"/><path d="M511.0,106.5 L512.9,101.9 L526.8,101.4 L525.0,105.9Z" fill="rgb(231,231,231)" stroke="rgb(231,231,231)" stroke-width="0.5"/><path d="M547.0,105.1 L548.9,100.6 L562.8,100.1 L561.0,104.6Z" fill="rgb(231,231,231)" stroke="rgb(231,231,231)" stroke-width="0.5"/>
<path d="M400,32 L440,32 L445,50 L400,50 Z" fill="#b4b4b4"/>
<path d="M404,32 L414,32 L420,50 L410,50 Z" fill="#cfcfcf"/>
<path d="M452,32 L470,32 L466,50 L457,50 Z" fill="#d8d8d8"/>
<path d="M476.7,32 L495.7,32 L496,51 L478,52 Z" fill="#8e8e8e"/>
<path d="M519,32 L537,32 L537,43 C535,48 532,51 526,52 L520,52 Z" fill="#7e7e7e"/>
<path d="M400,72 L420,70 L432,75 L436,95 L415,100 L400,100 Z" fill="#b0b0b0"/>
<path d="M398.6,116.2 L399.6,121.5 L415.5,123.1 L414.6,117.8Z" fill="rgb(168,168,168)" stroke="rgb(168,168,168)" stroke-width="0.5"/><path d="M424.9,118.7 L425.8,124.0 L441.8,125.6 L440.8,120.3Z" fill="rgb(168,168,168)" stroke="rgb(168,168,168)" stroke-width="0.5"/><path d="M425.8,124.0 L426.8,129.2 L442.7,130.7 L441.8,125.6Z" fill="rgb(167,167,167)" stroke="rgb(167,167,167)" stroke-width="0.5"/><path d="M399.6,121.5 L400.6,126.7 L416.5,128.2 L415.5,123.1Z" fill="rgb(167,167,167)" stroke="rgb(167,167,167)" stroke-width="0.5"/><path d="M397.6,111.4 L398.6,116.2 L414.6,117.8 L413.5,112.9Z" fill="rgb(166,166,166)" stroke="rgb(166,166,166)" stroke-width="0.5"/><path d="M423.9,113.9 L424.9,118.7 L440.8,120.3 L439.8,115.4Z" fill="rgb(166,166,166)" stroke="rgb(166,166,166)" stroke-width="0.5"/><path d="M426.8,129.2 L427.9,133.6 L443.8,135.1 L442.7,130.7Z" fill="rgb(165,165,165)" stroke="rgb(165,165,165)" stroke-width="0.5"/><path d="M400.6,126.7 L401.6,131.1 L417.5,132.6 L416.5,128.2Z" fill="rgb(165,165,165)" stroke="rgb(165,165,165)" stroke-width="0.5"/><path d="M396.5,107.6 L397.6,111.4 L413.5,112.9 L412.4,109.2Z" fill="rgb(163,163,163)" stroke="rgb(163,163,163)" stroke-width="0.5"/><path d="M422.7,110.1 L423.9,113.9 L439.8,115.4 L438.7,111.7Z" fill="rgb(163,163,163)" stroke="rgb(163,163,163)" stroke-width="0.5"/><path d="M401.6,131.1 L402.8,134.3 L418.7,135.8 L417.5,132.6Z" fill="rgb(161,161,161)" stroke="rgb(161,161,161)" stroke-width="0.5"/><path d="M395.2,105.3 L396.5,107.6 L412.4,109.2 L411.2,106.9Z" fill="rgb(158,158,158)" stroke="rgb(158,158,158)" stroke-width="0.5"/><path d="M421.5,107.8 L422.7,110.1 L438.7,111.7 L437.4,109.4Z" fill="rgb(158,158,158)" stroke="rgb(158,158,158)" stroke-width="0.5"/><path d="M402.8,134.3 L404.1,135.8 L420.0,137.3 L418.7,135.8Z" fill="rgb(156,156,156)" stroke="rgb(156,156,156)" stroke-width="0.5"/><path d="M420.1,107.3 L421.5,107.8 L437.4,109.4 L436.0,108.8Z" fill="rgb(153,153,153)" stroke="rgb(153,153,153)" stroke-width="0.5"/><path d="M393.8,104.8 L395.2,105.3 L411.2,106.9 L409.8,106.3Z" fill="rgb(153,153,153)" stroke="rgb(153,153,153)" stroke-width="0.5"/><path d="M404.1,135.8 L405.6,135.5 L421.5,137.0 L420.0,137.3Z" fill="rgb(198,198,198)" stroke="rgb(198,198,198)" stroke-width="0.5"/><path d="M392.2,106.0 L393.8,104.8 L409.8,106.3 L408.2,107.5Z" fill="rgb(204,204,204)" stroke="rgb(204,204,204)" stroke-width="0.5"/><path d="M418.5,108.5 L420.1,107.3 L436.0,108.8 L434.4,110.0Z" fill="rgb(204,204,204)" stroke="rgb(204,204,204)" stroke-width="0.5"/><path d="M405.6,135.5 L407.3,133.5 L423.2,135.0 L421.5,137.0Z" fill="rgb(208,208,208)" stroke="rgb(208,208,208)" stroke-width="0.5"/><path d="M390.5,108.9 L392.2,106.0 L408.2,107.5 L406.4,110.4Z" fill="rgb(213,213,213)" stroke="rgb(213,213,213)" stroke-width="0.5"/><path d="M416.7,111.4 L418.5,108.5 L434.4,110.0 L432.7,112.9Z" fill="rgb(213,213,213)" stroke="rgb(213,213,213)" stroke-width="0.5"/><path d="M407.3,133.5 L409.1,130.0 L425.0,131.5 L423.2,135.0Z" fill="rgb(217,217,217)" stroke="rgb(217,217,217)" stroke-width="0.5"/><path d="M388.6,113.0 L390.5,108.9 L406.4,110.4 L404.6,114.5Z" fill="rgb(220,220,220)" stroke="rgb(220,220,220)" stroke-width="0.5"/><path d="M414.9,115.5 L416.7,111.4 L432.7,112.9 L430.8,117.0Z" fill="rgb(220,220,220)" stroke="rgb(220,220,220)" stroke-width="0.5"/><path d="M409.1,130.0 L411.0,125.4 L426.9,126.9 L425.0,131.5Z" fill="rgb(223,223,223)" stroke="rgb(223,223,223)" stroke-width="0.5"/><path d="M412.9,120.4 L414.9,115.5 L430.8,117.0 L428.9,121.9Z" fill="rgb(225,225,225)" stroke="rgb(225,225,225)" stroke-width="0.5"/><path d="M411.0,125.4 L412.9,120.4 L428.9,121.9 L426.9,126.9Z" fill="rgb(225,225,225)" stroke="rgb(225,225,225)" stroke-width="0.5"/>
<path d="M415,70 L430,70 L448,100 L440,118 L425,100 Z" fill="#a2a2a2"/>
<linearGradient id="tsg" x1="400" y1="0" x2="540" y2="0" gradientUnits="userSpaceOnUse"><stop offset="0" stop-color="#9c9c9c"/><stop offset="0.45" stop-color="#7a7a7a"/><stop offset="0.68" stop-color="#3e3e3e"/><stop offset="0.8" stop-color="#5a5a5a"/><stop offset="1" stop-color="#8a8a8a"/></linearGradient>
<path d="M400,50 L465,49.9 L486.9,51.4 L508.8,53.5 L526.3,51.4 L532.2,47 L536.5,42.6 L537,47 C536,52 532,55 523.4,56.5 L508.8,57.9 L486.9,61.6 L465,64.5 L440,68 L400,72 Z" fill="url(#tsg)"/>
<path d="M400,50 L465,49.9 L486.9,51.4 L508.8,53.5 L526.3,51.4" fill="none" stroke="#c0c0c0" stroke-width="1"/>
<linearGradient id="dsg" x1="400" y1="110" x2="486" y2="60" gradientUnits="userSpaceOnUse"><stop offset="0" stop-color="#a8a8a8"/><stop offset="0.6" stop-color="#7c7c7c"/><stop offset="1" stop-color="#4a4a4a"/></linearGradient>
<path d="M400,96 L416,90 L486.9,60.8 L472,74 L450,90 L430,104 L412,116 L400,120 Z" fill="url(#dsg)"/>
<linearGradient id="vsg" x1="0" y1="70" x2="0" y2="130" gradientUnits="userSpaceOnUse"><stop offset="0" stop-color="#8a8a8a"/><stop offset="1" stop-color="#6a6a6a"/></linearGradient>
<path d="M441,72 L462,66 L457,100 L456.4,110 L451,129 L444.7,129 L440,110 L438,95 Z" fill="url(#vsg)"/>
<path d="M432,80 L442,78 L444,110 L440,125 L436,110 Z" fill="#9a9a9a"/>
<g fill="none" stroke-linecap="round" stroke-linejoin="round">
<path d="M446.2,127.5 C452,135 453,145 452.7,150.9 C452,156 452,158 450.6,161.1 C447,167 445,172 444.7,171.3 C442,178 441,184 440.3,188.8 C441,193 444,194 446.2,193.2 L459.3,193.9 C463,195 462,200 462.2,204 L461.5,212" stroke="#727272" stroke-width="3.2"/>
<path d="M400.2,137.7 C404,135 409,132 414.1,131.9 C418,132 423,134 428.7,139.2 C432,143 436,150 438.9,152.3 C442,154 446,154 456.4,150.9 C465,149 475,148 485.6,148 C492,148 496,149 498,149.4 L515.5,155.3 C525,156 530,156 534.5,156.7 C540,158 544,163 546.2,162.6 C550,161 552,160 552,158.2 C554,150 554,140 553.5,131.9 C553,126 551,122 551.3,121.7 C554,120 556,122 556.4,123.1 C558,128 558,132 559.3,134.8 C561,138 562,140 563.7,140.7 C567,142 570,142 573.9,142.1" stroke="#959595" stroke-width="3"/>
<path d="M400.2,202 C403,200 404,198 406.8,197.6 C411,196 415,195 419.9,194.7 L434.5,193.2 L446,193.2" stroke="#7c7c7c" stroke-width="3"/>
<path d="M518.4,184.5 C519,187 520,189 521.4,190.3 C528,193 535,193 541.8,193.2 C550,193 557,192 563.7,192.5 C570,193 575,194 576.8,194.7 C580,197 582,200 581.9,203.4 L582.7,212" stroke="#a2a2a2" stroke-width="3"/>
</g>
<path d="M523,132 L537,130 L538,174 L528,170 Z" fill="#a4a4a4"/>
<linearGradient id="mg" x1="0" y1="128" x2="0" y2="180" gradientUnits="userSpaceOnUse"><stop offset="0" stop-color="#6a6a6a"/><stop offset="0.16" stop-color="#c828b8"/><stop offset="0.55" stop-color="#dc2ccc"/><stop offset="0.75" stop-color="#a060a0"/><stop offset="1" stop-color="#707070"/></linearGradient>
<path d="M623,130.4 L633.2,131.9 L644.9,136.3 L648.5,142.1 L647.8,153.8 L643.4,159.6 L642.7,171.3 L641.2,178.6 L628.8,178.6 L624.4,171.3 L623.7,153.8 L623,142.1 Z" fill="url(#mg)"/>
<g fill="none" stroke-width="2.7" stroke-linecap="round" stroke-linejoin="round">
<path d="M524.9,70.3 L535.8,66 L540.2,70.3 L540.2,77.6 L530.7,84.2 L524.9,79.1 L524.9,70.3" stroke="#1aa5a5" stroke-width="4.4"/>
<path d="M524.9,83.5 L515.4,86.4 L508.8,92.2 L513.2,98.1 L508.8,105.4 L498.6,107.6 L492.7,103.2 L497.1,95.9 L508.8,92.2 M497.1,95.9 L491.3,92.2 L488,86 M498.6,107.6 L492.7,117 L481.1,119.2 M492.7,117 L493.5,123.6 M508.8,105.4 L517.6,112.7 L524.9,109.8 L533.6,103.9 L543.8,105.4 L545.3,112.7 L536.5,120 L526.3,117 L524.9,109.8 M543.8,105.4 L548.2,96.6 L548.2,86.4 M545.3,112.7 L549.7,112 L555,109 L562,104.5 L572,108 L578.5,113 L571,117.5 L561,114 L555,109 M578.5,113 L585.4,127.6 L581,137 L590,150 L605,147.3 L609.4,137 L600,126 L585.4,127.6 M605,147.3 L614.9,158.3" stroke="#1aa5a5" stroke-width="4.4"/>
<path d="M524.9,70.3 L535.8,66 L540.2,70.3 L540.2,77.6 L530.7,84.2 L524.9,79.1 L524.9,70.3" stroke="#3ee4e4" stroke-width="2.8"/>
<path d="M524.9,83.5 L515.4,86.4 L508.8,92.2 L513.2,98.1 L508.8,105.4 L498.6,107.6 L492.7,103.2 L497.1,95.9 L508.8,92.2 M497.1,95.9 L491.3,92.2 L488,86 M498.6,107.6 L492.7,117 L481.1,119.2 M492.7,117 L493.5,123.6 M508.8,105.4 L517.6,112.7 L524.9,109.8 L533.6,103.9 L543.8,105.4 L545.3,112.7 L536.5,120 L526.3,117 L524.9,109.8 M543.8,105.4 L548.2,96.6 L548.2,86.4 M545.3,112.7 L549.7,112 L555,109 L562,104.5 L572,108 L578.5,113 L571,117.5 L561,114 L555,109 M578.5,113 L585.4,127.6 L581,137 L590,150 L605,147.3 L609.4,137 L600,126 L585.4,127.6 M605,147.3 L614.9,158.3" stroke="#3ee4e4" stroke-width="2.8"/>
<path d="M539.5,69.5 L540.5,73 M513,96 L512,100 M493.5,102 L495,106 M481.1,119.2 L486,118.3 M493.2,121 L493.6,124 M517.6,112.7 L514,110 M548,99 L548.3,94 M549.7,112 L553,111.3 M585.4,127.6 L583,124.5 M605,147.3 L608,150 M514,86.8 L517.5,85.8" stroke="#2b2be0" stroke-width="3.4"/>
<path d="M540.2,69.8 L540.2,72.2 M493.4,122 L493.6,124.5 M548.2,94 L548.2,98" stroke="#e83030" stroke-width="3.4"/>
</g>
<g fill="none" stroke-width="3.6" stroke-linecap="round" stroke-linejoin="round">
<path d="M446.2,144 L459.3,150.6 L468,141.9 M459.3,150.6 L458.2,152 L463.7,170.3 L464.8,183.5" stroke="#dd22cc"/>
<path d="M446.2,144 L450,146.5" stroke="#2b2be0"/><path d="M466.5,143.5 L469,141" stroke="#e83030"/><path d="M464.6,179 L464.8,183.5" stroke="#e85050"/>
<path d="M498.7,148.4 L506,151 L516.2,152.8 L524,146.2 M500.9,150 L500.9,155 L497.6,163.8 L506.4,164.9" stroke="#dd22cc"/>
<path d="M498.7,148.4 L502,150" stroke="#2b2be0"/><path d="M522,147.8 L524.5,145.6" stroke="#e83030"/><path d="M499,160 L497.6,163.8 L502,164.4" stroke="#d4b020"/>
<path d="M613,143 L622,138 L630,133 M630,133 L640,138" stroke="#c81cb8" stroke-width="2"/>
<path d="M612,144 L618,141" stroke="#e83030" stroke-width="2.5"/>
</g>
<g stroke="#f0e020" stroke-width="2" stroke-dasharray="1.5 2" fill="none">
<path d="M467,138 L476,128"/><path d="M495.5,128 L497,143"/><path d="M607,146 L626,136"/><path d="M605,148 L624,141"/>
</g>
</g>
<text x="545.5" y="79.5" font-size="15.5" font-weight="bold" fill="#1fbfbf">Gilteritinib</text>
<text x="410" y="184.1" font-size="14.4" font-weight="bold">E1197</text>
<text x="488.9" y="184.1" font-size="14.8" font-weight="bold">M1199</text>
<text x="641.2" y="131.9" font-size="14.9" font-weight="bold">E1210</text>
<path d="M60.7,316.8 V515.5 H310.7" fill="none" stroke="#000" stroke-width="1.3"/>
<line x1="56.7" y1="316.8" x2="60.7" y2="316.8" stroke="#000" stroke-width="1.1"/>
<text x="52.7" y="320.8" font-size="11" font-weight="bold" text-anchor="end">-18</text>
<line x1="57.7" y1="336.7" x2="60.7" y2="336.7" stroke="#000" stroke-width="1.1"/>
<line x1="56.7" y1="356.5" x2="60.7" y2="356.5" stroke="#000" stroke-width="1.1"/>
<text x="52.7" y="360.5" font-size="11" font-weight="bold" text-anchor="end">-19</text>
<line x1="57.7" y1="376.4" x2="60.7" y2="376.4" stroke="#000" stroke-width="1.1"/>
<line x1="56.7" y1="396.3" x2="60.7" y2="396.3" stroke="#000" stroke-width="1.1"/>
<text x="52.7" y="400.3" font-size="11" font-weight="bold" text-anchor="end">-20</text>
<line x1="57.7" y1="416.2" x2="60.7" y2="416.2" stroke="#000" stroke-width="1.1"/>
<line x1="56.7" y1="436.0" x2="60.7" y2="436.0" stroke="#000" stroke-width="1.1"/>
<text x="52.7" y="440.0" font-size="11" font-weight="bold" text-anchor="end">-21</text>
<line x1="57.7" y1="455.9" x2="60.7" y2="455.9" stroke="#000" stroke-width="1.1"/>
<line x1="56.7" y1="475.8" x2="60.7" y2="475.8" stroke="#000" stroke-width="1.1"/>
<text x="52.7" y="479.8" font-size="11" font-weight="bold" text-anchor="end">-22</text>
<line x1="57.7" y1="495.6" x2="60.7" y2="495.6" stroke="#000" stroke-width="1.1"/>
<line x1="56.7" y1="515.5" x2="60.7" y2="515.5" stroke="#000" stroke-width="1.1"/>
<text x="52.7" y="519.5" font-size="11" font-weight="bold" text-anchor="end">-23</text>
<line x1="60.7" y1="515.5" x2="60.7" y2="519.5" stroke="#000" stroke-width="1.1"/>
<text x="60.7" y="533.5" font-size="11" font-weight="bold" text-anchor="middle">-11</text>
<line x1="85.7" y1="515.5" x2="85.7" y2="518.5" stroke="#000" stroke-width="1.1"/>
<line x1="110.7" y1="515.5" x2="110.7" y2="519.5" stroke="#000" stroke-width="1.1"/>
<text x="110.7" y="533.5" font-size="11" font-weight="bold" text-anchor="middle">-10</text>
<line x1="135.7" y1="515.5" x2="135.7" y2="518.5" stroke="#000" stroke-width="1.1"/>
<line x1="160.7" y1="515.5" x2="160.7" y2="519.5" stroke="#000" stroke-width="1.1"/>
<text x="160.7" y="533.5" font-size="11" font-weight="bold" text-anchor="middle">-9</text>
<line x1="185.7" y1="515.5" x2="185.7" y2="518.5" stroke="#000" stroke-width="1.1"/>
<line x1="210.7" y1="515.5" x2="210.7" y2="519.5" stroke="#000" stroke-width="1.1"/>
<text x="210.7" y="533.5" font-size="11" font-weight="bold" text-anchor="middle">-8</text>
<line x1="235.7" y1="515.5" x2="235.7" y2="518.5" stroke="#000" stroke-width="1.1"/>
<line x1="260.7" y1="515.5" x2="260.7" y2="519.5" stroke="#000" stroke-width="1.1"/>
<text x="260.7" y="533.5" font-size="11" font-weight="bold" text-anchor="middle">-7</text>
<line x1="285.7" y1="515.5" x2="285.7" y2="518.5" stroke="#000" stroke-width="1.1"/>
<line x1="310.7" y1="515.5" x2="310.7" y2="519.5" stroke="#000" stroke-width="1.1"/>
<text x="310.7" y="533.5" font-size="11" font-weight="bold" text-anchor="middle">-6</text>
<text x="127" y="550.3" font-size="11.5" font-weight="bold">Experimental log (IC<tspan font-size="7.5" dy="2.5">50</tspan><tspan dy="-2.5">)</tspan></text>
<text transform="translate(23,429.2) rotate(-90)" font-size="11.2" font-weight="bold" text-anchor="middle">Calculated <tspan font-weight="normal">Δ</tspan>G (kcal/mol)</text>
<text x="135" y="302.6" font-size="11.5" font-weight="bold" text-decoration="underline">Gilteritinib - ALK</text>
<line x1="110.8" y1="488.6" x2="272.3" y2="377.6" stroke="#000" stroke-width="1.4"/>
<circle cx="272.6" cy="329.6" r="4.3" fill="#ff0000"/>
<circle cx="200.7" cy="367.9" r="4.3" fill="#ff0000"/>
<circle cx="247.4" cy="412.8" r="4.3" fill="#ff0000"/>
<circle cx="226.7" cy="418.8" r="4.3" fill="#ff0000"/>
<circle cx="236.6" cy="485.2" r="4.3" fill="#ff0000"/>
<circle cx="156.3" cy="437.2" r="4.3" fill="#ff0000"/>
<circle cx="110.8" cy="504.6" r="4.3" fill="#ff0000"/>
<text x="227" y="342.8" font-size="11.5" font-weight="bold">G1202R</text>
<text x="158.3" y="366.9" font-size="11.5" font-weight="bold">I1171N</text>
<text x="254" y="422" font-size="11.5" font-weight="bold">D1203N</text>
<text x="200.4" y="436.4" font-size="11.5" font-weight="bold">L1196M</text>
<text x="197.3" y="500.7" font-size="11.5" font-weight="bold">L1198F + G1202R</text>
<text x="139.8" y="431.7" font-size="11.5" font-weight="bold">wild</text>
<text x="114.8" y="511.6" font-size="11.5" font-weight="bold">L1198F</text>
<path d="M399.0,323.1 V465.8 H575.3" fill="none" stroke="#000" stroke-width="1.3"/>
<line x1="395.5" y1="466.6" x2="399.0" y2="466.6" stroke="#000" stroke-width="1"/>
<text x="395.0" y="469.4" font-size="7.5" font-weight="bold" text-anchor="end" letter-spacing="1.3">0.01</text>
<line x1="397.0" y1="458.0" x2="399.0" y2="458.0" stroke="#000" stroke-width="0.6"/>
<line x1="397.0" y1="452.9" x2="399.0" y2="452.9" stroke="#000" stroke-width="0.6"/>
<line x1="397.0" y1="449.3" x2="399.0" y2="449.3" stroke="#000" stroke-width="0.6"/>
<line x1="397.0" y1="446.5" x2="399.0" y2="446.5" stroke="#000" stroke-width="0.6"/>
<line x1="397.0" y1="444.3" x2="399.0" y2="444.3" stroke="#000" stroke-width="0.6"/>
<line x1="397.0" y1="442.3" x2="399.0" y2="442.3" stroke="#000" stroke-width="0.6"/>
<line x1="397.0" y1="440.7" x2="399.0" y2="440.7" stroke="#000" stroke-width="0.6"/>
<line x1="397.0" y1="439.2" x2="399.0" y2="439.2" stroke="#000" stroke-width="0.6"/>
<line x1="395.5" y1="437.9" x2="399.0" y2="437.9" stroke="#000" stroke-width="1"/>
<text x="395.0" y="440.7" font-size="7.5" font-weight="bold" text-anchor="end" letter-spacing="1.3">0.1</text>
<line x1="397.0" y1="429.3" x2="399.0" y2="429.3" stroke="#000" stroke-width="0.6"/>
<line x1="397.0" y1="424.2" x2="399.0" y2="424.2" stroke="#000" stroke-width="0.6"/>
<line x1="397.0" y1="420.6" x2="399.0" y2="420.6" stroke="#000" stroke-width="0.6"/>
<line x1="397.0" y1="417.8" x2="399.0" y2="417.8" stroke="#000" stroke-width="0.6"/>
<line x1="397.0" y1="415.6" x2="399.0" y2="415.6" stroke="#000" stroke-width="0.6"/>
<line x1="397.0" y1="413.6" x2="399.0" y2="413.6" stroke="#000" stroke-width="0.6"/>
<line x1="397.0" y1="412.0" x2="399.0" y2="412.0" stroke="#000" stroke-width="0.6"/>
<line x1="397.0" y1="410.5" x2="399.0" y2="410.5" stroke="#000" stroke-width="0.6"/>
<line x1="395.5" y1="409.2" x2="399.0" y2="409.2" stroke="#000" stroke-width="1"/>
<text x="395.0" y="412.0" font-size="7.5" font-weight="bold" text-anchor="end" letter-spacing="1.3">1</text>
<line x1="397.0" y1="400.6" x2="399.0" y2="400.6" stroke="#000" stroke-width="0.6"/>
<line x1="397.0" y1="395.5" x2="399.0" y2="395.5" stroke="#000" stroke-width="0.6"/>
<line x1="397.0" y1="391.9" x2="399.0" y2="391.9" stroke="#000" stroke-width="0.6"/>
<line x1="397.0" y1="389.1" x2="399.0" y2="389.1" stroke="#000" stroke-width="0.6"/>
<line x1="397.0" y1="386.9" x2="399.0" y2="386.9" stroke="#000" stroke-width="0.6"/>
<line x1="397.0" y1="384.9" x2="399.0" y2="384.9" stroke="#000" stroke-width="0.6"/>
<line x1="397.0" y1="383.3" x2="399.0" y2="383.3" stroke="#000" stroke-width="0.6"/>
<line x1="397.0" y1="381.8" x2="399.0" y2="381.8" stroke="#000" stroke-width="0.6"/>
<line x1="395.5" y1="380.5" x2="399.0" y2="380.5" stroke="#000" stroke-width="1"/>
<text x="395.0" y="383.3" font-size="7.5" font-weight="bold" text-anchor="end" letter-spacing="1.3">10</text>
<line x1="397.0" y1="371.9" x2="399.0" y2="371.9" stroke="#000" stroke-width="0.6"/>
<line x1="397.0" y1="366.8" x2="399.0" y2="366.8" stroke="#000" stroke-width="0.6"/>
<line x1="397.0" y1="363.2" x2="399.0" y2="363.2" stroke="#000" stroke-width="0.6"/>
<line x1="397.0" y1="360.4" x2="399.0" y2="360.4" stroke="#000" stroke-width="0.6"/>
<line x1="397.0" y1="358.2" x2="399.0" y2="358.2" stroke="#000" stroke-width="0.6"/>
<line x1="397.0" y1="356.2" x2="399.0" y2="356.2" stroke="#000" stroke-width="0.6"/>
<line x1="397.0" y1="354.6" x2="399.0" y2="354.6" stroke="#000" stroke-width="0.6"/>
<line x1="397.0" y1="353.1" x2="399.0" y2="353.1" stroke="#000" stroke-width="0.6"/>
<line x1="395.5" y1="351.8" x2="399.0" y2="351.8" stroke="#000" stroke-width="1"/>
<text x="395.0" y="354.6" font-size="7.5" font-weight="bold" text-anchor="end" letter-spacing="1.3">100</text>
<line x1="397.0" y1="343.2" x2="399.0" y2="343.2" stroke="#000" stroke-width="0.6"/>
<line x1="397.0" y1="338.1" x2="399.0" y2="338.1" stroke="#000" stroke-width="0.6"/>
<line x1="397.0" y1="334.5" x2="399.0" y2="334.5" stroke="#000" stroke-width="0.6"/>
<line x1="397.0" y1="331.7" x2="399.0" y2="331.7" stroke="#000" stroke-width="0.6"/>
<line x1="397.0" y1="329.5" x2="399.0" y2="329.5" stroke="#000" stroke-width="0.6"/>
<line x1="397.0" y1="327.5" x2="399.0" y2="327.5" stroke="#000" stroke-width="0.6"/>
<line x1="397.0" y1="325.9" x2="399.0" y2="325.9" stroke="#000" stroke-width="0.6"/>
<line x1="397.0" y1="324.4" x2="399.0" y2="324.4" stroke="#000" stroke-width="0.6"/>
<line x1="395.5" y1="323.1" x2="399.0" y2="323.1" stroke="#000" stroke-width="1"/>
<text x="395.0" y="325.9" font-size="7.5" font-weight="bold" text-anchor="end" letter-spacing="1.3">1000</text>
<line x1="417.6" y1="465.8" x2="417.6" y2="469.5" stroke="#000" stroke-width="1"/>
<text transform="translate(421.70000000000005,473) rotate(-90)" font-size="7.5" font-weight="bold" text-anchor="end" letter-spacing="1.25">EML4-ALK-WT</text>
<line x1="463.9" y1="465.8" x2="463.9" y2="469.5" stroke="#000" stroke-width="1"/>
<text transform="translate(468.0,473) rotate(-90)" font-size="7.5" font-weight="bold" text-anchor="end" letter-spacing="1.25">L1198F</text>
<line x1="510.5" y1="465.8" x2="510.5" y2="469.5" stroke="#000" stroke-width="1"/>
<text transform="translate(514.6,473) rotate(-90)" font-size="7.5" font-weight="bold" text-anchor="end" letter-spacing="1.25">G1202R</text>
<line x1="556.7" y1="465.8" x2="556.7" y2="469.5" stroke="#000" stroke-width="1"/>
<text transform="translate(560.8000000000001,473) rotate(-90)" font-size="7.5" font-weight="bold" text-anchor="end" letter-spacing="1.25">L1198F + G1202R</text>
<text transform="translate(368.3,393.6) rotate(-90)" font-size="7.5" text-anchor="middle" letter-spacing="1.15">IC<tspan font-size="5" dy="1.5">50</tspan><tspan dy="-1.5"> value (nM)</tspan></text>
<rect x="403.4" y="404.0" width="5.2" height="5.2" fill="none" stroke="#7f7f00" stroke-width="2.2"/>
<path d="M403.4,403.5 H408.6 M406,403.5 V409.5 M403.4,409.5 H408.6" stroke="#7f7f00" stroke-width="1.1" fill="none"/>
<rect x="415.2" y="371.2" width="5.2" height="5.2" fill="none" stroke="#f47920" stroke-width="2.2"/>
<path d="M415.2,372.2 H420.40000000000003 M417.8,372.2 V375.40000000000003 M415.2,375.40000000000003 H420.40000000000003" stroke="#f47920" stroke-width="1.1" fill="none"/>
<path d="M426.2,408 H432.2 M429.2,408 V417.5 M426.2,417.5 H432.2" stroke="#ff0000" stroke-width="1.3" fill="none"/>
<text x="429.2" y="416.3" font-size="8" text-anchor="middle" fill="#ff0000">★</text>
<rect x="450.2" y="373.29999999999995" width="5.2" height="5.2" fill="none" stroke="#7f7f00" stroke-width="2.2"/>
<path d="M450.2,374.29999999999995 H455.40000000000003 M452.8,374.29999999999995 V377.5 M450.2,377.5 H455.40000000000003" stroke="#7f7f00" stroke-width="1.1" fill="none"/>
<rect x="461.29999999999995" y="392.5" width="5.2" height="5.2" fill="none" stroke="#f47920" stroke-width="2.2"/>
<path d="M461.29999999999995,393 H466.5 M463.9,393 V397.5 M461.29999999999995,397.5 H466.5" stroke="#f47920" stroke-width="1.1" fill="none"/>
<path d="M472.1,436 H478.1 M475.1,436 V440.5 M472.1,440.5 H478.1" stroke="#ff0000" stroke-width="1.3" fill="none"/>
<text x="475.1" y="441.2" font-size="8" text-anchor="middle" fill="#ff0000">★</text>
<rect x="496.4" y="347.7" width="5.2" height="5.2" fill="none" stroke="#7f7f00" stroke-width="2.2"/>
<path d="M496.4,348.7 H501.6 M499,348.7 V351.90000000000003 M496.4,351.90000000000003 H501.6" stroke="#7f7f00" stroke-width="1.1" fill="none"/>
<rect x="507.59999999999997" y="331.09999999999997" width="5.2" height="5.2" fill="none" stroke="#f47920" stroke-width="2.2"/>
<path d="M507.59999999999997,332.09999999999997 H512.8 M510.2,332.09999999999997 V335.3 M507.59999999999997,335.3 H512.8" stroke="#f47920" stroke-width="1.1" fill="none"/>
<path d="M518.5,342.1 H524.5 M521.5,342.1 V348.4 M518.5,348.4 H524.5" stroke="#ff0000" stroke-width="1.3" fill="none"/>
<text x="521.5" y="348.2" font-size="8" text-anchor="middle" fill="#ff0000">★</text>
<rect x="542.4" y="334.59999999999997" width="5.2" height="5.2" fill="none" stroke="#7f7f00" stroke-width="2.2"/>
<path d="M542.4,332.9 H547.6 M545,332.9 V342.3 M542.4,342.3 H547.6" stroke="#7f7f00" stroke-width="1.1" fill="none"/>
<rect x="553.6" y="362.0" width="5.2" height="5.2" fill="none" stroke="#f47920" stroke-width="2.2"/>
<path d="M553.6,359.7 H558.8000000000001 M556.2,359.7 V372.7 M553.6,372.7 H558.8000000000001" stroke="#f47920" stroke-width="1.1" fill="none"/>
<path d="M564.5,359 H570.5 M567.5,359 V379.1 M564.5,379.1 H570.5" stroke="#ff0000" stroke-width="1.3" fill="none"/>
<text x="567.5" y="368.2" font-size="8" text-anchor="middle" fill="#ff0000">★</text>
<rect x="586.6999999999999" y="347.2" width="5.4" height="5.4" fill="none" stroke="#7f7f00" stroke-width="1.6"/>
<text x="601" y="352.7" font-size="8" letter-spacing="0.55" fill="#222">Lorlatinib</text>
<rect x="586.6999999999999" y="361.5" width="5.4" height="5.4" fill="none" stroke="#f47920" stroke-width="1.6"/>
<text x="601" y="367.0" font-size="8" letter-spacing="0.55" fill="#222">Crizotinib</text>
<text x="589.3" y="380.4" font-size="8" text-anchor="middle" fill="#ff0000">★</text>
<text x="601" y="380.2" font-size="8" letter-spacing="0.55" fill="#222">Gilteritinib</text>
<path d="M84.2,637.3 V775.4" stroke="#000" stroke-width="1.5" fill="none"/>
<path d="M84.2,775.4 H94.7" stroke="#000" stroke-width="1.5"/>
<line x1="94.7" y1="771.9" x2="94.7" y2="778.9" stroke="#000" stroke-width="1.2"/>
<circle cx="98.2" cy="775.4" r="0.7" fill="#000"/><circle cx="101.7" cy="775.4" r="0.7" fill="#000"/>
<line x1="104.16459255765093" y1="771.9" x2="104.16459255765093" y2="778.9" stroke="#000" stroke-width="1.2"/>
<path d="M104.16459255765093,775.4 H297.66459255765096" stroke="#000" stroke-width="1.5"/>
<line x1="80.2" y1="775.4" x2="84.2" y2="775.4" stroke="#000" stroke-width="1.2"/>
<text x="78.2" y="778.9" font-size="9.6" text-anchor="end" letter-spacing="0.6">0</text>
<line x1="80.2" y1="724.5" x2="84.2" y2="724.5" stroke="#000" stroke-width="1.2"/>
<text x="78.2" y="728.0" font-size="9.6" text-anchor="end" letter-spacing="0.6">50</text>
<line x1="80.2" y1="673.5" x2="84.2" y2="673.5" stroke="#000" stroke-width="1.2"/>
<text x="78.2" y="677.0" font-size="9.6" text-anchor="end" letter-spacing="0.6">100</text>
<line x1="84.2" y1="775.4" x2="84.2" y2="779.4" stroke="#000" stroke-width="1.2"/>
<text x="84.7" y="791.6" font-size="9.6" text-anchor="middle">0</text>
<line x1="124.4" y1="775.4" x2="124.4" y2="779.4" stroke="#000" stroke-width="1.2"/>
<text x="124.9" y="791.6" font-size="9.6" text-anchor="middle" letter-spacing="0.6">0.1</text>
<line x1="163.1" y1="775.4" x2="163.1" y2="779.4" stroke="#000" stroke-width="1.2"/>
<text x="163.6" y="791.6" font-size="9.6" text-anchor="middle" letter-spacing="0.6">1</text>
<line x1="201.8" y1="775.4" x2="201.8" y2="779.4" stroke="#000" stroke-width="1.2"/>
<text x="202.3" y="791.6" font-size="9.6" text-anchor="middle" letter-spacing="0.6">10</text>
<line x1="240.5" y1="775.4" x2="240.5" y2="779.4" stroke="#000" stroke-width="1.2"/>
<text x="241.0" y="791.6" font-size="9.6" text-anchor="middle" letter-spacing="0.6">100</text>
<line x1="279.2" y1="775.4" x2="279.2" y2="779.4" stroke="#000" stroke-width="1.2"/>
<text x="279.7" y="791.6" font-size="9.6" text-anchor="middle" letter-spacing="0.6">1000</text>
<text x="110.6" y="809.5" font-size="10.2" letter-spacing="1.62">Concentration of TKIs (nM)</text>
<text transform="translate(53.4,708.6) rotate(-90)" font-size="10.2" text-anchor="middle" letter-spacing="1.47">Relative luminescence (%&#160; of control)</text>
<text x="141.6" y="621.3" font-size="9.6" letter-spacing="1.14">ALK-WT (ATP 100 µM)</text>
<path d="M104.3,675.7 L106.2,675.7 L108.2,675.8 L110.2,675.8 L112.2,675.9 L114.1,675.9 L116.1,676.0 L118.1,676.0 L120.0,676.1 L122.0,676.2 L124.0,676.3 L125.9,676.4 L127.9,676.5 L129.9,676.7 L131.8,676.8 L133.8,677.0 L135.8,677.2 L137.7,677.5 L139.7,677.8 L141.7,678.1 L143.7,678.5 L145.6,678.9 L147.6,679.4 L149.6,679.9 L151.5,680.6 L153.5,681.3 L155.5,682.1 L157.4,683.0 L159.4,684.0 L161.4,685.2 L163.3,686.5 L165.3,688.0 L167.3,689.6 L169.2,691.4 L171.2,693.3 L173.2,695.5 L175.2,697.8 L177.1,700.3 L179.1,703.0 L181.1,705.9 L183.0,709.0 L185.0,712.2 L187.0,715.5 L188.9,718.9 L190.9,722.4 L192.9,725.9 L194.8,729.4 L196.8,732.8 L198.8,736.2 L200.8,739.5 L202.7,742.7 L204.7,745.7 L206.7,748.6 L208.6,751.2 L210.6,753.7 L212.6,756.0 L214.5,758.1 L216.5,760.0 L218.5,761.8 L220.4,763.3 L222.4,764.7 L224.4,766.0 L226.3,767.1 L228.3,768.1 L230.3,769.0 L232.3,769.8 L234.2,770.5 L236.2,771.1 L238.2,771.7 L240.1,772.1 L242.1,772.6 L244.1,772.9 L246.0,773.2 L248.0,773.5 L250.0,773.8 L251.9,774.0 L253.9,774.2 L255.9,774.3 L257.8,774.5 L259.8,774.6 L261.8,774.7" fill="none" stroke="#ff0000" stroke-width="1.6"/>
<line x1="84.2" y1="675.5" x2="94.2" y2="675.5" stroke="#ff0000" stroke-width="1.5"/>
<path d="M104.3,672.7 L106.2,672.7 L108.2,672.8 L110.2,672.8 L112.2,672.9 L114.1,672.9 L116.1,673.0 L118.1,673.1 L120.0,673.2 L122.0,673.4 L124.0,673.5 L125.9,673.7 L127.9,673.9 L129.9,674.1 L131.8,674.4 L133.8,674.8 L135.8,675.2 L137.7,675.6 L139.7,676.2 L141.7,676.8 L143.7,677.6 L145.6,678.4 L147.6,679.4 L149.6,680.5 L151.5,681.8 L153.5,683.3 L155.5,685.0 L157.4,687.0 L159.4,689.1 L161.4,691.5 L163.3,694.2 L165.3,697.2 L167.3,700.4 L169.2,703.8 L171.2,707.5 L173.2,711.4 L175.2,715.4 L177.1,719.6 L179.1,723.8 L181.1,728.0 L183.0,732.2 L185.0,736.2 L187.0,740.1 L188.9,743.8 L190.9,747.3 L192.9,750.5 L194.8,753.5 L196.8,756.2 L198.8,758.6 L200.8,760.8 L202.7,762.7 L204.7,764.4 L206.7,765.9 L208.6,767.3 L210.6,768.4 L212.6,769.4 L214.5,770.3 L216.5,771.0 L218.5,771.6 L220.4,772.2 L222.4,772.7 L224.4,773.1 L226.3,773.4 L228.3,773.7 L230.3,774.0 L232.3,774.2 L234.2,774.4 L236.2,774.5 L238.2,774.7 L240.1,774.8 L242.1,774.9 L244.1,774.9 L246.0,775.0 L248.0,775.1 L250.0,775.1 L251.9,775.2 L253.9,775.2 L255.9,775.2 L257.8,775.3 L259.8,775.3 L261.8,775.3" fill="none" stroke="#808000" stroke-width="1.6"/>
<line x1="84.2" y1="672.5" x2="94.2" y2="672.5" stroke="#808000" stroke-width="1.5"/>
<path d="M104.3,676.6 L106.2,676.6 L108.2,676.6 L110.2,676.6 L112.2,676.6 L114.1,676.6 L116.1,676.6 L118.1,676.7 L120.0,676.7 L122.0,676.7 L124.0,676.7 L125.9,676.7 L127.9,676.7 L129.9,676.8 L131.8,676.8 L133.8,676.8 L135.8,676.9 L137.7,676.9 L139.7,677.0 L141.7,677.0 L143.7,677.1 L145.6,677.2 L147.6,677.3 L149.6,677.4 L151.5,677.5 L153.5,677.7 L155.5,677.8 L157.4,678.0 L159.4,678.2 L161.4,678.4 L163.3,678.7 L165.3,679.0 L167.3,679.3 L169.2,679.7 L171.2,680.2 L173.2,680.7 L175.2,681.2 L177.1,681.8 L179.1,682.6 L181.1,683.4 L183.0,684.3 L185.0,685.3 L187.0,686.4 L188.9,687.7 L190.9,689.1 L192.9,690.6 L194.8,692.3 L196.8,694.2 L198.8,696.3 L200.8,698.5 L202.7,700.9 L204.7,703.4 L206.7,706.1 L208.6,709.0 L210.6,712.0 L212.6,715.1 L214.5,718.3 L216.5,721.6 L218.5,724.9 L220.4,728.2 L222.4,731.5 L224.4,734.8 L226.3,738.0 L228.3,741.1 L230.3,744.0 L232.3,746.8 L234.2,749.5 L236.2,752.0 L238.2,754.3 L240.1,756.4 L242.1,758.4 L244.1,760.2 L246.0,761.9 L248.0,763.4 L250.0,764.7 L251.9,765.9 L253.9,767.0 L255.9,768.0 L257.8,768.9 L259.8,769.7 L261.8,770.3" fill="none" stroke="#ff8c00" stroke-width="1.6"/>
<line x1="84.2" y1="676.6" x2="94.2" y2="676.6" stroke="#ff8c00" stroke-width="1.5"/>
<circle cx="84.2" cy="673.5" r="3.5" fill="#fff" fill-opacity="0" stroke="#ff0000" stroke-width="1.9"/>
<path d="M100.2,680.6 H108.2 M104.2,680.6 V692.9 M100.2,692.9 H108.2" stroke="#ff0000" stroke-width="1.9" fill="none"/>
<circle cx="104.2" cy="686.7" r="3.5" fill="#fff" fill-opacity="0" stroke="#ff0000" stroke-width="1.9"/>
<path d="M120.4,656.2 H128.4 M124.4,656.2 V688.8 M120.4,688.8 H128.4" stroke="#ff0000" stroke-width="1.9" fill="none"/>
<circle cx="124.4" cy="672.5" r="3.5" fill="#fff" fill-opacity="0" stroke="#ff0000" stroke-width="1.9"/>
<path d="M138.9,669.4 H146.9 M142.9,669.4 V693.9 M138.9,693.9 H146.9" stroke="#ff0000" stroke-width="1.9" fill="none"/>
<circle cx="142.9" cy="681.7" r="3.5" fill="#fff" fill-opacity="0" stroke="#ff0000" stroke-width="1.9"/>
<path d="M159.1,676.6 H167.1 M163.1,676.6 V694.9 M159.1,694.9 H167.1" stroke="#ff0000" stroke-width="1.9" fill="none"/>
<circle cx="163.1" cy="685.7" r="3.5" fill="#fff" fill-opacity="0" stroke="#ff0000" stroke-width="1.9"/>
<path d="M177.6,703.3 H185.6 M181.6,703.3 V720.6 M177.6,720.6 H185.6" stroke="#ff0000" stroke-width="1.9" fill="none"/>
<circle cx="181.6" cy="711.9" r="3.5" fill="#fff" fill-opacity="0" stroke="#ff0000" stroke-width="1.9"/>
<path d="M197.8,734.0 H205.8 M201.8,734.0 V742.2 M197.8,742.2 H205.8" stroke="#ff0000" stroke-width="1.9" fill="none"/>
<circle cx="201.8" cy="738.1" r="3.5" fill="#fff" fill-opacity="0" stroke="#ff0000" stroke-width="1.9"/>
<circle cx="220.3" cy="764.7" r="3.5" fill="#fff" fill-opacity="0" stroke="#ff0000" stroke-width="1.9"/>
<circle cx="240.5" cy="772.9" r="3.5" fill="#fff" fill-opacity="0" stroke="#ff0000" stroke-width="1.9"/>
<circle cx="259.0" cy="776.4" r="3.5" fill="#fff" fill-opacity="0" stroke="#ff0000" stroke-width="1.9"/>
<path d="M80.2,663.3 H88.2 M84.2,663.3 V683.7 M80.2,683.7 H88.2" stroke="#808000" stroke-width="1.9" fill="none"/>
<circle cx="84.2" cy="673.5" r="3.5" fill="#fff" fill-opacity="0" stroke="#808000" stroke-width="1.9"/>
<path d="M100.2,671.5 H108.2 M104.2,671.5 V685.7 M100.2,685.7 H108.2" stroke="#808000" stroke-width="1.9" fill="none"/>
<circle cx="104.2" cy="678.6" r="3.5" fill="#fff" fill-opacity="0" stroke="#808000" stroke-width="1.9"/>
<path d="M120.4,648.3 H128.4 M124.4,648.3 V678.9 M120.4,678.9 H128.4" stroke="#808000" stroke-width="1.9" fill="none"/>
<circle cx="124.4" cy="663.6" r="3.5" fill="#fff" fill-opacity="0" stroke="#808000" stroke-width="1.9"/>
<path d="M138.9,656.7 H146.9 M142.9,656.7 V693.4 M138.9,693.4 H146.9" stroke="#808000" stroke-width="1.9" fill="none"/>
<circle cx="142.9" cy="675.0" r="3.5" fill="#fff" fill-opacity="0" stroke="#808000" stroke-width="1.9"/>
<path d="M159.1,670.5 H167.1 M163.1,670.5 V701.1 M159.1,701.1 H167.1" stroke="#808000" stroke-width="1.9" fill="none"/>
<circle cx="163.1" cy="685.8" r="3.5" fill="#fff" fill-opacity="0" stroke="#808000" stroke-width="1.9"/>
<path d="M177.6,715.8 H185.6 M181.6,715.8 V746.4 M177.6,746.4 H185.6" stroke="#808000" stroke-width="1.9" fill="none"/>
<circle cx="181.6" cy="731.1" r="3.5" fill="#fff" fill-opacity="0" stroke="#808000" stroke-width="1.9"/>
<circle cx="201.8" cy="755.5" r="3.5" fill="#fff" fill-opacity="0" stroke="#808000" stroke-width="1.9"/>
<circle cx="220.3" cy="771.3" r="3.5" fill="#fff" fill-opacity="0" stroke="#808000" stroke-width="1.9"/>
<circle cx="240.5" cy="774.4" r="3.5" fill="#fff" fill-opacity="0" stroke="#808000" stroke-width="1.9"/>
<circle cx="259.0" cy="776.9" r="3.5" fill="#fff" fill-opacity="0" stroke="#808000" stroke-width="1.9"/>
<path d="M80.2,663.3 H88.2 M84.2,663.3 V683.7 M80.2,683.7 H88.2" stroke="#ff8c00" stroke-width="1.9" fill="none"/>
<circle cx="84.2" cy="673.5" r="3.5" fill="#fff" fill-opacity="0" stroke="#ff8c00" stroke-width="1.9"/>
<path d="M100.2,678.6 H108.2 M104.2,678.6 V694.9 M100.2,694.9 H108.2" stroke="#ff8c00" stroke-width="1.9" fill="none"/>
<circle cx="104.2" cy="686.7" r="3.5" fill="#fff" fill-opacity="0" stroke="#ff8c00" stroke-width="1.9"/>
<path d="M120.4,644.4 H128.4 M124.4,644.4 V685.1 M120.4,685.1 H128.4" stroke="#ff8c00" stroke-width="1.9" fill="none"/>
<circle cx="124.4" cy="664.7" r="3.5" fill="#fff" fill-opacity="0" stroke="#ff8c00" stroke-width="1.9"/>
<path d="M138.9,667.1 H146.9 M142.9,667.1 V697.7 M138.9,697.7 H146.9" stroke="#ff8c00" stroke-width="1.9" fill="none"/>
<circle cx="142.9" cy="682.4" r="3.5" fill="#fff" fill-opacity="0" stroke="#ff8c00" stroke-width="1.9"/>
<path d="M159.1,662.3 H167.1 M163.1,662.3 V680.6 M159.1,680.6 H167.1" stroke="#ff8c00" stroke-width="1.9" fill="none"/>
<circle cx="163.1" cy="671.5" r="3.5" fill="#fff" fill-opacity="0" stroke="#ff8c00" stroke-width="1.9"/>
<path d="M177.6,675.5 H185.6 M181.6,675.5 V708.1 M177.6,708.1 H185.6" stroke="#ff8c00" stroke-width="1.9" fill="none"/>
<circle cx="181.6" cy="691.8" r="3.5" fill="#fff" fill-opacity="0" stroke="#ff8c00" stroke-width="1.9"/>
<path d="M197.8,678.2 H205.8 M201.8,678.2 V712.8 M197.8,712.8 H205.8" stroke="#ff8c00" stroke-width="1.9" fill="none"/>
<circle cx="201.8" cy="695.5" r="3.5" fill="#fff" fill-opacity="0" stroke="#ff8c00" stroke-width="1.9"/>
<path d="M216.3,712.5 H224.3 M220.3,712.5 V748.2 M216.3,748.2 H224.3" stroke="#ff8c00" stroke-width="1.9" fill="none"/>
<circle cx="220.3" cy="730.4" r="3.5" fill="#fff" fill-opacity="0" stroke="#ff8c00" stroke-width="1.9"/>
<circle cx="240.5" cy="752.2" r="3.5" fill="#fff" fill-opacity="0" stroke="#ff8c00" stroke-width="1.9"/>
<circle cx="259.0" cy="769.8" r="3.5" fill="#fff" fill-opacity="0" stroke="#ff8c00" stroke-width="1.9"/>
<line x1="263.3" y1="660.6" x2="277.3" y2="660.6" stroke="#ff8c00" stroke-width="1.6"/>
<circle cx="270.3" cy="660.6" r="3.6" fill="#fff" stroke="#ff8c00" stroke-width="1.6"/>
<text x="286.8" y="664.1" font-size="9.6" letter-spacing="0.75">Crizotinib</text>
<line x1="263.3" y1="676.3" x2="277.3" y2="676.3" stroke="#808000" stroke-width="1.6"/>
<circle cx="270.3" cy="676.3" r="3.6" fill="#fff" stroke="#808000" stroke-width="1.6"/>
<text x="286.8" y="679.8" font-size="9.6" letter-spacing="0.75">Lorlatinib</text>
<line x1="263.3" y1="692.6" x2="277.3" y2="692.6" stroke="#ff0000" stroke-width="1.6"/>
<circle cx="270.3" cy="692.6" r="3.6" fill="#fff" stroke="#ff0000" stroke-width="1.6"/>
<text x="286.8" y="696.1" font-size="9.6" letter-spacing="0.75">Gilteritinib</text>
<path d="M412.1,637.3 V775.2" stroke="#000" stroke-width="1.5" fill="none"/>
<path d="M412.1,775.2 H422.6" stroke="#000" stroke-width="1.5"/>
<line x1="422.6" y1="771.7" x2="422.6" y2="778.7" stroke="#000" stroke-width="1.2"/>
<circle cx="426.1" cy="775.2" r="0.7" fill="#000"/><circle cx="429.6" cy="775.2" r="0.7" fill="#000"/>
<line x1="431.56459255765094" y1="771.7" x2="431.56459255765094" y2="778.7" stroke="#000" stroke-width="1.2"/>
<path d="M431.56459255765094,775.2 H625.0645925576509" stroke="#000" stroke-width="1.5"/>
<line x1="408.1" y1="775.2" x2="412.1" y2="775.2" stroke="#000" stroke-width="1.2"/>
<text x="406.1" y="778.7" font-size="9.6" text-anchor="end" letter-spacing="0.6">0</text>
<line x1="408.1" y1="722.4" x2="412.1" y2="722.4" stroke="#000" stroke-width="1.2"/>
<text x="406.1" y="725.9" font-size="9.6" text-anchor="end" letter-spacing="0.6">50</text>
<line x1="408.1" y1="669.6" x2="412.1" y2="669.6" stroke="#000" stroke-width="1.2"/>
<text x="406.1" y="673.1" font-size="9.6" text-anchor="end" letter-spacing="0.6">100</text>
<line x1="412.1" y1="775.2" x2="412.1" y2="779.2" stroke="#000" stroke-width="1.2"/>
<text x="412.6" y="791.6" font-size="9.6" text-anchor="middle">0</text>
<line x1="451.8" y1="775.2" x2="451.8" y2="779.2" stroke="#000" stroke-width="1.2"/>
<text x="452.3" y="791.6" font-size="9.6" text-anchor="middle" letter-spacing="0.6">0.1</text>
<line x1="490.5" y1="775.2" x2="490.5" y2="779.2" stroke="#000" stroke-width="1.2"/>
<text x="491.0" y="791.6" font-size="9.6" text-anchor="middle" letter-spacing="0.6">1</text>
<line x1="529.2" y1="775.2" x2="529.2" y2="779.2" stroke="#000" stroke-width="1.2"/>
<text x="529.7" y="791.6" font-size="9.6" text-anchor="middle" letter-spacing="0.6">10</text>
<line x1="567.9" y1="775.2" x2="567.9" y2="779.2" stroke="#000" stroke-width="1.2"/>
<text x="568.4" y="791.6" font-size="9.6" text-anchor="middle" letter-spacing="0.6">100</text>
<line x1="606.6" y1="775.2" x2="606.6" y2="779.2" stroke="#000" stroke-width="1.2"/>
<text x="607.1" y="791.6" font-size="9.6" text-anchor="middle" letter-spacing="0.6">1000</text>
<text x="438" y="809.5" font-size="10.2" letter-spacing="1.62">Concentration of TKIs (nM)</text>
<text transform="translate(381.4,708.6) rotate(-90)" font-size="10.2" text-anchor="middle" letter-spacing="1.47">Relative luminescence (%&#160; of control)</text>
<text x="462.2" y="621.3" font-size="9.6" letter-spacing="1.27">ALK-L1198F&#160; (ATP 100µM)</text>
<path d="M431.7,672.9 L433.6,672.9 L435.6,672.9 L437.6,673.0 L439.6,673.0 L441.5,673.0 L443.5,673.1 L445.5,673.1 L447.4,673.2 L449.4,673.3 L451.4,673.4 L453.3,673.5 L455.3,673.6 L457.3,673.8 L459.2,674.0 L461.2,674.2 L463.2,674.5 L465.1,674.8 L467.1,675.1 L469.1,675.5 L471.1,676.0 L473.0,676.6 L475.0,677.3 L477.0,678.1 L478.9,679.0 L480.9,680.1 L482.9,681.4 L484.8,682.8 L486.8,684.5 L488.8,686.3 L490.7,688.5 L492.7,690.8 L494.7,693.5 L496.6,696.5 L498.6,699.7 L500.6,703.2 L502.6,707.0 L504.5,710.9 L506.5,715.1 L508.5,719.3 L510.4,723.7 L512.4,728.0 L514.4,732.3 L516.3,736.5 L518.3,740.5 L520.3,744.3 L522.2,747.8 L524.2,751.1 L526.2,754.1 L528.2,756.8 L530.1,759.2 L532.1,761.4 L534.1,763.3 L536.0,764.9 L538.0,766.4 L540.0,767.7 L541.9,768.8 L543.9,769.7 L545.9,770.5 L547.8,771.2 L549.8,771.8 L551.8,772.4 L553.7,772.8 L555.7,773.2 L557.7,773.5 L559.7,773.7 L561.6,774.0 L563.6,774.2 L565.6,774.3 L567.5,774.5 L569.5,774.6 L571.5,774.7 L573.4,774.8 L575.4,774.8 L577.4,774.9 L579.3,774.9 L581.3,775.0 L583.3,775.0 L585.2,775.0 L587.2,775.1 L589.2,775.1" fill="none" stroke="#ff0000" stroke-width="1.6"/>
<line x1="412.1" y1="672.8" x2="422.1" y2="672.8" stroke="#ff0000" stroke-width="1.5"/>
<path d="M431.7,672.8 L433.6,672.8 L435.6,672.8 L437.6,672.8 L439.6,672.8 L441.5,672.9 L443.5,672.9 L445.5,672.9 L447.4,672.9 L449.4,672.9 L451.4,672.9 L453.3,673.0 L455.3,673.0 L457.3,673.0 L459.2,673.1 L461.2,673.1 L463.2,673.2 L465.1,673.2 L467.1,673.3 L469.1,673.4 L471.1,673.4 L473.0,673.5 L475.0,673.7 L477.0,673.8 L478.9,673.9 L480.9,674.1 L482.9,674.3 L484.8,674.5 L486.8,674.7 L488.8,675.0 L490.7,675.3 L492.7,675.7 L494.7,676.1 L496.6,676.6 L498.6,677.1 L500.6,677.7 L502.6,678.3 L504.5,679.1 L506.5,679.9 L508.5,680.9 L510.4,682.0 L512.4,683.2 L514.4,684.5 L516.3,686.0 L518.3,687.6 L520.3,689.4 L522.2,691.4 L524.2,693.5 L526.2,695.9 L528.2,698.4 L530.1,701.1 L532.1,703.9 L534.1,707.0 L536.0,710.1 L538.0,713.4 L540.0,716.8 L541.9,720.3 L543.9,723.8 L545.9,727.3 L547.8,730.8 L549.8,734.3 L551.8,737.6 L553.7,740.9 L555.7,744.0 L557.7,747.0 L559.7,749.8 L561.6,752.4 L563.6,754.9 L565.6,757.2 L567.5,759.3 L569.5,761.2 L571.5,763.0 L573.4,764.5 L575.4,766.0 L577.4,767.3 L579.3,768.4 L581.3,769.5 L583.3,770.4 L585.2,771.2 L587.2,771.9 L589.2,772.6" fill="none" stroke="#808000" stroke-width="1.6"/>
<line x1="412.1" y1="672.8" x2="422.1" y2="672.8" stroke="#808000" stroke-width="1.5"/>
<path d="M431.7,665.5 L433.6,665.5 L435.6,665.6 L437.6,665.6 L439.6,665.6 L441.5,665.7 L443.5,665.7 L445.5,665.8 L447.4,665.8 L449.4,665.9 L451.4,666.0 L453.3,666.1 L455.3,666.2 L457.3,666.3 L459.2,666.4 L461.2,666.6 L463.2,666.7 L465.1,667.0 L467.1,667.2 L469.1,667.5 L471.1,667.8 L473.0,668.1 L475.0,668.5 L477.0,669.0 L478.9,669.5 L480.9,670.1 L482.9,670.8 L484.8,671.5 L486.8,672.4 L488.8,673.4 L490.7,674.5 L492.7,675.8 L494.7,677.2 L496.6,678.7 L498.6,680.4 L500.6,682.4 L502.6,684.5 L504.5,686.8 L506.5,689.3 L508.5,692.1 L510.4,695.0 L512.4,698.2 L514.4,701.5 L516.3,705.0 L518.3,708.6 L520.3,712.3 L522.2,716.1 L524.2,720.0 L526.2,723.8 L528.2,727.7 L530.1,731.4 L532.1,735.1 L534.1,738.6 L536.0,741.9 L538.0,745.1 L540.0,748.1 L541.9,750.8 L543.9,753.4 L545.9,755.7 L547.8,757.9 L549.8,759.8 L551.8,761.6 L553.7,763.2 L555.7,764.6 L557.7,765.9 L559.7,767.0 L561.6,768.0 L563.6,768.9 L565.6,769.7 L567.5,770.4 L569.5,771.0 L571.5,771.5 L573.4,772.0 L575.4,772.4 L577.4,772.8 L579.3,773.1 L581.3,773.3 L583.3,773.6 L585.2,773.8 L587.2,774.0 L589.2,774.1" fill="none" stroke="#ff8c00" stroke-width="1.6"/>
<line x1="412.1" y1="665.4" x2="422.1" y2="665.4" stroke="#ff8c00" stroke-width="1.5"/>
<path d="M408.1,656.9 H416.1 M412.1,656.9 V682.3 M408.1,682.3 H416.1" stroke="#ff0000" stroke-width="1.9" fill="none"/>
<circle cx="412.1" cy="669.6" r="3.5" fill="#fff" fill-opacity="0" stroke="#ff0000" stroke-width="1.9"/>
<path d="M427.6,670.1 H435.6 M431.6,670.1 V699.7 M427.6,699.7 H435.6" stroke="#ff0000" stroke-width="1.9" fill="none"/>
<circle cx="431.6" cy="684.9" r="3.5" fill="#fff" fill-opacity="0" stroke="#ff0000" stroke-width="1.9"/>
<path d="M447.8,671.0 H455.8 M451.8,671.0 V677.3 M447.8,677.3 H455.8" stroke="#ff0000" stroke-width="1.9" fill="none"/>
<circle cx="451.8" cy="674.1" r="3.5" fill="#fff" fill-opacity="0" stroke="#ff0000" stroke-width="1.9"/>
<path d="M466.3,661.6 H474.3 M470.3,661.6 V682.7 M466.3,682.7 H474.3" stroke="#ff0000" stroke-width="1.9" fill="none"/>
<circle cx="470.3" cy="672.1" r="3.5" fill="#fff" fill-opacity="0" stroke="#ff0000" stroke-width="1.9"/>
<path d="M486.5,680.7 H494.5 M490.5,680.7 V689.1 M486.5,689.1 H494.5" stroke="#ff0000" stroke-width="1.9" fill="none"/>
<circle cx="490.5" cy="684.9" r="3.5" fill="#fff" fill-opacity="0" stroke="#ff0000" stroke-width="1.9"/>
<path d="M505.0,714.2 H513.0 M509.0,714.2 V726.8 M505.0,726.8 H513.0" stroke="#ff0000" stroke-width="1.9" fill="none"/>
<circle cx="509.0" cy="720.5" r="3.5" fill="#fff" fill-opacity="0" stroke="#ff0000" stroke-width="1.9"/>
<circle cx="529.2" cy="755.5" r="3.5" fill="#fff" fill-opacity="0" stroke="#ff0000" stroke-width="1.9"/>
<circle cx="547.7" cy="769.6" r="3.5" fill="#fff" fill-opacity="0" stroke="#ff0000" stroke-width="1.9"/>
<circle cx="567.9" cy="777.3" r="3.5" fill="#fff" fill-opacity="0" stroke="#ff0000" stroke-width="1.9"/>
<circle cx="412.1" cy="669.6" r="3.5" fill="#fff" fill-opacity="0" stroke="#808000" stroke-width="1.9"/>
<circle cx="431.6" cy="676.3" r="3.5" fill="#fff" fill-opacity="0" stroke="#808000" stroke-width="1.9"/>
<circle cx="451.8" cy="667.2" r="3.5" fill="#fff" fill-opacity="0" stroke="#808000" stroke-width="1.9"/>
<circle cx="470.3" cy="676.3" r="3.5" fill="#fff" fill-opacity="0" stroke="#808000" stroke-width="1.9"/>
<circle cx="490.5" cy="681.4" r="3.5" fill="#fff" fill-opacity="0" stroke="#808000" stroke-width="1.9"/>
<circle cx="529.2" cy="701.6" r="3.5" fill="#fff" fill-opacity="0" stroke="#808000" stroke-width="1.9"/>
<circle cx="547.7" cy="726.2" r="3.5" fill="#fff" fill-opacity="0" stroke="#808000" stroke-width="1.9"/>
<circle cx="567.9" cy="758.4" r="3.5" fill="#fff" fill-opacity="0" stroke="#808000" stroke-width="1.9"/>
<circle cx="586.4" cy="772.2" r="3.5" fill="#fff" fill-opacity="0" stroke="#808000" stroke-width="1.9"/>
<path d="M408.1,651.6 H416.1 M412.1,651.6 V687.6 M408.1,687.6 H416.1" stroke="#ff8c00" stroke-width="1.9" fill="none"/>
<circle cx="412.1" cy="669.6" r="3.5" fill="#fff" fill-opacity="0" stroke="#ff8c00" stroke-width="1.9"/>
<path d="M427.6,657.8 H435.6 M431.6,657.8 V685.2 M427.6,685.2 H435.6" stroke="#ff8c00" stroke-width="1.9" fill="none"/>
<circle cx="431.6" cy="671.5" r="3.5" fill="#fff" fill-opacity="0" stroke="#ff8c00" stroke-width="1.9"/>
<path d="M447.8,651.0 H455.8 M451.8,651.0 V663.7 M447.8,663.7 H455.8" stroke="#ff8c00" stroke-width="1.9" fill="none"/>
<circle cx="451.8" cy="657.4" r="3.5" fill="#fff" fill-opacity="0" stroke="#ff8c00" stroke-width="1.9"/>
<path d="M466.3,650.0 H474.3 M470.3,650.0 V664.7 M466.3,664.7 H474.3" stroke="#ff8c00" stroke-width="1.9" fill="none"/>
<circle cx="470.3" cy="657.4" r="3.5" fill="#fff" fill-opacity="0" stroke="#ff8c00" stroke-width="1.9"/>
<path d="M486.5,657.6 H494.5 M490.5,657.6 V693.5 M486.5,693.5 H494.5" stroke="#ff8c00" stroke-width="1.9" fill="none"/>
<circle cx="490.5" cy="675.5" r="3.5" fill="#fff" fill-opacity="0" stroke="#ff8c00" stroke-width="1.9"/>
<path d="M505.0,687.7 H513.0 M509.0,687.7 V706.7 M505.0,706.7 H513.0" stroke="#ff8c00" stroke-width="1.9" fill="none"/>
<circle cx="509.0" cy="697.2" r="3.5" fill="#fff" fill-opacity="0" stroke="#ff8c00" stroke-width="1.9"/>
<path d="M525.2,719.8 H533.2 M529.2,719.8 V736.7 M525.2,736.7 H533.2" stroke="#ff8c00" stroke-width="1.9" fill="none"/>
<circle cx="529.2" cy="728.2" r="3.5" fill="#fff" fill-opacity="0" stroke="#ff8c00" stroke-width="1.9"/>
<circle cx="547.7" cy="757.5" r="3.5" fill="#fff" fill-opacity="0" stroke="#ff8c00" stroke-width="1.9"/>
<circle cx="567.9" cy="771.6" r="3.5" fill="#fff" fill-opacity="0" stroke="#ff8c00" stroke-width="1.9"/>
<circle cx="586.4" cy="777.8" r="3.5" fill="#fff" fill-opacity="0" stroke="#ff8c00" stroke-width="1.9"/>
<line x1="589.5" y1="662.5" x2="603.5" y2="662.5" stroke="#ff8c00" stroke-width="1.6"/>
<circle cx="596.5" cy="662.5" r="3.6" fill="#fff" stroke="#ff8c00" stroke-width="1.6"/>
<text x="613.0" y="666.0" font-size="9.6" letter-spacing="0.75">Crizotinib</text>
<line x1="589.5" y1="678.2" x2="603.5" y2="678.2" stroke="#808000" stroke-width="1.6"/>
<circle cx="596.5" cy="678.2" r="3.6" fill="#fff" stroke="#808000" stroke-width="1.6"/>
<text x="613.0" y="681.7" font-size="9.6" letter-spacing="0.75">Lorlatinib</text>
<line x1="589.5" y1="693.2" x2="603.5" y2="693.2" stroke="#ff0000" stroke-width="1.6"/>
<circle cx="596.5" cy="693.2" r="3.6" fill="#fff" stroke="#ff0000" stroke-width="1.6"/>
<text x="613.0" y="696.7" font-size="9.6" letter-spacing="0.75">Gilteritinib</text>
<g stroke="#b8b8b8" stroke-width="1.2">
<line x1="164" y1="831" x2="164" y2="914.3"/>
<line x1="273.3" y1="831" x2="273.3" y2="914.3"/>
<line x1="360.8" y1="831" x2="360.8" y2="914.3"/>
<line x1="447.5" y1="831" x2="447.5" y2="914.3"/>
<line x1="534.5" y1="831" x2="534.5" y2="914.3"/>
<line x1="164" y1="831" x2="534.5" y2="831"/>
<line x1="164" y1="861.5" x2="534.5" y2="861.5"/>
<line x1="164" y1="884.8" x2="534.5" y2="884.8"/>
<line x1="164" y1="914.3" x2="534.5" y2="914.3"/>
</g>
<text x="218.7" y="850.7" font-size="12" text-anchor="middle">IC<tspan font-size="8" dy="1.5">50</tspan><tspan dy="-1.5"> (nM)</tspan></text>
<text x="317.1" y="850.7" font-size="12" text-anchor="middle">Crizotinib</text>
<text x="404.1" y="850.7" font-size="12" text-anchor="middle">Lorlatinib</text>
<text x="491.0" y="850.7" font-size="12" text-anchor="middle">Gilteritinib</text>
<text x="218.7" y="877.5" font-size="12" text-anchor="middle">ALK_WT</text>
<text x="317.1" y="877.5" font-size="12" text-anchor="middle">24.9 ±5.0</text>
<text x="404.1" y="877.5" font-size="12" text-anchor="middle">2.42 ± 0.70</text>
<text x="491.0" y="877.5" font-size="12" text-anchor="middle">5.56 ± 0.62</text>
<text x="218.7" y="904.7" font-size="12" text-anchor="middle">ALK_L1198F</text>
<text x="317.1" y="904.7" font-size="12" text-anchor="middle">6.07 ±1.8</text>
<text x="404.1" y="904.7" font-size="12" text-anchor="middle">43.4 ± 20</text>
<text x="491.0" y="904.7" font-size="12" text-anchor="middle">3.24 ± 0.69</text>
</svg></body></html>
